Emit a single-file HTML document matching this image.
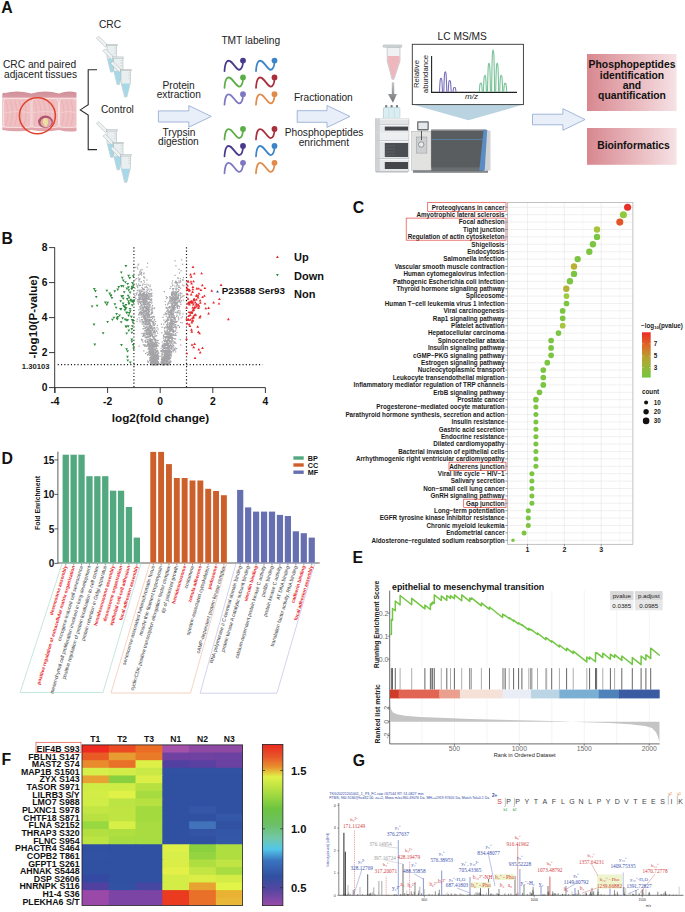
<!DOCTYPE html>
<html><head><meta charset="utf-8"><style>
html,body{margin:0;padding:0;background:#fff;width:685px;height:912px;overflow:hidden}
svg{display:block;font-family:"Liberation Sans",sans-serif}
</style></head><body>
<svg width="685" height="912" viewBox="0 0 685 912">
<rect width="685" height="912" fill="#fff"/>
<text x="1.2" y="12.5" font-size="15.8" font-weight="bold" fill="#111">A</text><text x="3" y="67.8" font-size="10.2" text-anchor="start" font-weight="normal" fill="#222" >CRC and paired</text><text x="4" y="77.7" font-size="10.2" text-anchor="start" font-weight="normal" fill="#222" >adjacent tissues</text><defs><linearGradient id="colg" x1="0" y1="0" x2="0" y2="1"><stop offset="0" stop-color="#cf8f99"/><stop offset="0.14" stop-color="#d99aa3"/><stop offset="0.17" stop-color="#f6dcdc"/><stop offset="0.22" stop-color="#ecb5b9"/><stop offset="0.5" stop-color="#eab1b6"/><stop offset="0.82" stop-color="#ecb6ba"/><stop offset="0.88" stop-color="#f6dcdc"/><stop offset="0.92" stop-color="#e2a6ad"/><stop offset="1" stop-color="#dba0a7"/></linearGradient></defs><path d="M2.3,94 Q3,92 5,93 Q17,89.6 31.5,93.5 Q45,89.6 59,93.5 Q68,90 76.5,92.5 L76.5,131 Q68,132.5 59,130 Q45,132.5 31.5,130 Q17,132.5 2.3,130Z" fill="url(#colg)"/><path d="M6.5,98.6 L28,98.6 Q31,98.6 31,102 L31,124 Q31,127.4 28,127.4 L6.5,127.4 Q3.5,127.4 3.5,124 L3.5,102 Q3.5,98.6 6.5,98.6Z" fill="#efbfc2" stroke="#f8e4e4" stroke-width="0.8"/><path d="M5.5,100 Q10.5,113 5.5,126" fill="none" stroke="#e3a4aa" stroke-width="0.45"/><path d="M10.0,100 Q15.0,113 10.0,126" fill="none" stroke="#e3a4aa" stroke-width="0.45"/><path d="M14.5,100 Q19.5,113 14.5,126" fill="none" stroke="#e3a4aa" stroke-width="0.45"/><path d="M19.0,100 Q24.0,113 19.0,126" fill="none" stroke="#e3a4aa" stroke-width="0.45"/><path d="M23.5,100 Q28.5,113 23.5,126" fill="none" stroke="#e3a4aa" stroke-width="0.45"/><path d="M4.5,112.5 Q17.25,110.5 30,112.5" fill="none" stroke="#f5d6d8" stroke-width="0.7"/><path d="M35,98.6 L55.5,98.6 Q58.5,98.6 58.5,102 L58.5,124 Q58.5,127.4 55.5,127.4 L35,127.4 Q32,127.4 32,124 L32,102 Q32,98.6 35,98.6Z" fill="#efbfc2" stroke="#f8e4e4" stroke-width="0.8"/><path d="M34.0,100 Q39.0,113 34.0,126" fill="none" stroke="#e3a4aa" stroke-width="0.45"/><path d="M38.5,100 Q43.5,113 38.5,126" fill="none" stroke="#e3a4aa" stroke-width="0.45"/><path d="M43.0,100 Q48.0,113 43.0,126" fill="none" stroke="#e3a4aa" stroke-width="0.45"/><path d="M47.5,100 Q52.5,113 47.5,126" fill="none" stroke="#e3a4aa" stroke-width="0.45"/><path d="M52.0,100 Q57.0,113 52.0,126" fill="none" stroke="#e3a4aa" stroke-width="0.45"/><path d="M33,112.5 Q45.25,110.5 57.5,112.5" fill="none" stroke="#f5d6d8" stroke-width="0.7"/><path d="M62.5,98.6 L73.5,98.6 Q76.5,98.6 76.5,102 L76.5,124 Q76.5,127.4 73.5,127.4 L62.5,127.4 Q59.5,127.4 59.5,124 L59.5,102 Q59.5,98.6 62.5,98.6Z" fill="#efbfc2" stroke="#f8e4e4" stroke-width="0.8"/><path d="M61.5,100 Q66.5,113 61.5,126" fill="none" stroke="#e3a4aa" stroke-width="0.45"/><path d="M66.0,100 Q71.0,113 66.0,126" fill="none" stroke="#e3a4aa" stroke-width="0.45"/><path d="M70.5,100 Q75.5,113 70.5,126" fill="none" stroke="#e3a4aa" stroke-width="0.45"/><path d="M60.5,112.5 Q68.0,110.5 75.5,112.5" fill="none" stroke="#f5d6d8" stroke-width="0.7"/><ellipse cx="45.5" cy="121.8" rx="7.4" ry="6.2" fill="#b0526a"/><ellipse cx="46" cy="122.6" rx="5.6" ry="4.8" fill="#e3a5ae"/><path d="M42.8,119.6 Q45,116.8 47.6,119 Q49,122.5 46.8,126.3 Q45.8,127.8 44.9,126.3 Q42,122.8 42.8,119.6Z" fill="#ebdf9d"/><circle cx="37.4" cy="115.8" r="18" fill="none" stroke="#e0422d" stroke-width="1.5"/><path d="M97,69.8 L88.2,69.8 L88.2,104.6 L80.3,109.9 L88.2,115 L88.2,149.6 L97,149.6" fill="none" stroke="#2b2b2b" stroke-width="1.1"/><text x="99" y="27.8" font-size="10.2" text-anchor="start" font-weight="normal" fill="#222" >CRC</text><path d="M107.8,45.2 L99,36.4 L96.4,38.2 L105.4,47.2Z" fill="#eef2f2" stroke="#a9b0b0" stroke-width="0.5"/><path d="M107,45 L116.5,45 L116.5,57.15 L112.89,72 L110.61,72 L107,57.15Z" fill="#e9eff0" stroke="#a9b0b0" stroke-width="0.5"/><path d="M107.3,58.5 L116.2,58.5 L116.2,57.69 L112.7,71.7 L110.8,71.7 L107.3,57.69Z" fill="#a6d8e8"/><rect x="106.2" y="44.4" width="11.1" height="1.4" fill="#dfe5e6" stroke="#a9b0b0" stroke-width="0.4"/><line x1="114.0" y1="48.0" x2="116.0" y2="48.0" stroke="#b9c0c0" stroke-width="0.4"/><line x1="114.0" y1="50.6" x2="116.0" y2="50.6" stroke="#b9c0c0" stroke-width="0.4"/><line x1="114.0" y1="53.2" x2="116.0" y2="53.2" stroke="#b9c0c0" stroke-width="0.4"/><path d="M114.3,57.7 L105.5,48.9 L102.9,50.7 L111.9,59.7Z" fill="#eef2f2" stroke="#a9b0b0" stroke-width="0.5"/><path d="M113.5,57.5 L123.0,57.5 L123.0,69.65 L119.39,84.5 L117.11,84.5 L113.5,69.65Z" fill="#e9eff0" stroke="#a9b0b0" stroke-width="0.5"/><path d="M113.8,71.0 L122.7,71.0 L122.7,70.19 L119.2,84.2 L117.3,84.2 L113.8,70.19Z" fill="#a6d8e8"/><rect x="112.7" y="56.9" width="11.1" height="1.4" fill="#dfe5e6" stroke="#a9b0b0" stroke-width="0.4"/><line x1="120.5" y1="60.5" x2="122.5" y2="60.5" stroke="#b9c0c0" stroke-width="0.4"/><line x1="120.5" y1="63.1" x2="122.5" y2="63.1" stroke="#b9c0c0" stroke-width="0.4"/><line x1="120.5" y1="65.7" x2="122.5" y2="65.7" stroke="#b9c0c0" stroke-width="0.4"/><path d="M121.8,70.2 L113,61.4 L110.4,63.2 L119.4,72.2Z" fill="#eef2f2" stroke="#a9b0b0" stroke-width="0.5"/><path d="M121,70 L130.5,70 L130.5,82.15 L126.89,97 L124.61,97 L121,82.15Z" fill="#e9eff0" stroke="#a9b0b0" stroke-width="0.5"/><path d="M121.3,83.5 L130.2,83.5 L130.2,82.69 L126.7,96.7 L124.8,96.7 L121.3,82.69Z" fill="#a6d8e8"/><rect x="120.2" y="69.4" width="11.1" height="1.4" fill="#dfe5e6" stroke="#a9b0b0" stroke-width="0.4"/><line x1="128.0" y1="73.0" x2="130.0" y2="73.0" stroke="#b9c0c0" stroke-width="0.4"/><line x1="128.0" y1="75.6" x2="130.0" y2="75.6" stroke="#b9c0c0" stroke-width="0.4"/><line x1="128.0" y1="78.2" x2="130.0" y2="78.2" stroke="#b9c0c0" stroke-width="0.4"/><text x="101" y="112.8" font-size="10.2" text-anchor="start" font-weight="normal" fill="#222" >Control</text><path d="M107.8,130.5 L99,121.70000000000002 L96.4,123.50000000000001 L105.4,132.5Z" fill="#eef2f2" stroke="#a9b0b0" stroke-width="0.5"/><path d="M107,130.3 L116.5,130.3 L116.5,142.45000000000002 L112.89,157.3 L110.61,157.3 L107,142.45000000000002Z" fill="#e9eff0" stroke="#a9b0b0" stroke-width="0.5"/><path d="M107.3,143.8 L116.2,143.8 L116.2,142.99 L112.7,157.0 L110.8,157.0 L107.3,142.99Z" fill="#a6d8e8"/><rect x="106.2" y="129.70000000000002" width="11.1" height="1.4" fill="#dfe5e6" stroke="#a9b0b0" stroke-width="0.4"/><line x1="114.0" y1="133.3" x2="116.0" y2="133.3" stroke="#b9c0c0" stroke-width="0.4"/><line x1="114.0" y1="135.9" x2="116.0" y2="135.9" stroke="#b9c0c0" stroke-width="0.4"/><line x1="114.0" y1="138.5" x2="116.0" y2="138.5" stroke="#b9c0c0" stroke-width="0.4"/><path d="M114.3,143.0 L105.5,134.20000000000002 L102.9,136.0 L111.9,145.0Z" fill="#eef2f2" stroke="#a9b0b0" stroke-width="0.5"/><path d="M113.5,142.8 L123.0,142.8 L123.0,154.95000000000002 L119.39,169.8 L117.11,169.8 L113.5,154.95000000000002Z" fill="#e9eff0" stroke="#a9b0b0" stroke-width="0.5"/><path d="M113.8,156.3 L122.7,156.3 L122.7,155.49 L119.2,169.5 L117.3,169.5 L113.8,155.49Z" fill="#a6d8e8"/><rect x="112.7" y="142.20000000000002" width="11.1" height="1.4" fill="#dfe5e6" stroke="#a9b0b0" stroke-width="0.4"/><line x1="120.5" y1="145.8" x2="122.5" y2="145.8" stroke="#b9c0c0" stroke-width="0.4"/><line x1="120.5" y1="148.4" x2="122.5" y2="148.4" stroke="#b9c0c0" stroke-width="0.4"/><line x1="120.5" y1="151.0" x2="122.5" y2="151.0" stroke="#b9c0c0" stroke-width="0.4"/><path d="M121.8,155.5 L113,146.70000000000002 L110.4,148.5 L119.4,157.5Z" fill="#eef2f2" stroke="#a9b0b0" stroke-width="0.5"/><path d="M121,155.3 L130.5,155.3 L130.5,167.45000000000002 L126.89,182.3 L124.61,182.3 L121,167.45000000000002Z" fill="#e9eff0" stroke="#a9b0b0" stroke-width="0.5"/><path d="M121.3,168.8 L130.2,168.8 L130.2,167.99 L126.7,182.0 L124.8,182.0 L121.3,167.99Z" fill="#a6d8e8"/><rect x="120.2" y="154.70000000000002" width="11.1" height="1.4" fill="#dfe5e6" stroke="#a9b0b0" stroke-width="0.4"/><line x1="128.0" y1="158.3" x2="130.0" y2="158.3" stroke="#b9c0c0" stroke-width="0.4"/><line x1="128.0" y1="160.9" x2="130.0" y2="160.9" stroke="#b9c0c0" stroke-width="0.4"/><line x1="128.0" y1="163.5" x2="130.0" y2="163.5" stroke="#b9c0c0" stroke-width="0.4"/><text x="162.5" y="88.5" font-size="10.2" text-anchor="start" font-weight="normal" fill="#222" >Protein</text><text x="156.7" y="98.4" font-size="10.2" text-anchor="start" font-weight="normal" fill="#222" >extraction</text><path d="M158.4,110.9 L188.8,110.9 L188.8,105.6 L211.3,116.4 L188.8,127.2 L188.8,122 L158.4,122Z" fill="#e9eff8" stroke="#8ea6d2" stroke-width="0.8"/><text x="162.5" y="136" font-size="10.2" text-anchor="start" font-weight="normal" fill="#222" >Trypsin</text><text x="158" y="145.3" font-size="10.2" text-anchor="start" font-weight="normal" fill="#222" >digestion</text><text x="221.4" y="43.5" font-size="10.2" text-anchor="start" font-weight="normal" fill="#222" >TMT labeling</text><path d="M224.5,71.1 C225,62.6 227,59.6 230,61.1 C233,62.6 236,68.6 238.5,69.6 C241.5,70.6 243,65.6 243,61.6" fill="none" stroke="#4a3a8c" stroke-width="1.75" stroke-linecap="round"/><circle cx="243" cy="60.6" r="2.9" fill="#4a3a8c"/><path d="M256.0,71.1 C256.5,62.6 258.5,59.6 261.5,61.1 C264.5,62.6 267.5,68.6 270.0,69.6 C273.0,70.6 274.5,65.6 274.5,61.6" fill="none" stroke="#3d85c7" stroke-width="1.75" stroke-linecap="round"/><circle cx="274.5" cy="60.6" r="2.9" fill="#3d85c7"/><path d="M224.5,87.9 C225,79.4 227,76.4 230,77.9 C233,79.4 236,85.4 238.5,86.4 C241.5,87.4 243,82.4 243,78.4" fill="none" stroke="#5bae46" stroke-width="1.75" stroke-linecap="round"/><circle cx="243" cy="77.4" r="2.9" fill="#5bae46"/><path d="M256.0,87.9 C256.5,79.4 258.5,76.4 261.5,77.9 C264.5,79.4 267.5,85.4 270.0,86.4 C273.0,87.4 274.5,82.4 274.5,78.4" fill="none" stroke="#a7303c" stroke-width="1.75" stroke-linecap="round"/><circle cx="274.5" cy="77.4" r="2.9" fill="#a7303c"/><path d="M224.5,104.7 C225,96.2 227,93.2 230,94.7 C233,96.2 236,102.2 238.5,103.2 C241.5,104.2 243,99.2 243,95.2" fill="none" stroke="#7d78c1" stroke-width="1.75" stroke-linecap="round"/><circle cx="243" cy="94.2" r="2.9" fill="#7d78c1"/><path d="M256.0,104.7 C256.5,96.2 258.5,93.2 261.5,94.7 C264.5,96.2 267.5,102.2 270.0,103.2 C273.0,104.2 274.5,99.2 274.5,95.2" fill="none" stroke="#e08b4b" stroke-width="1.75" stroke-linecap="round"/><circle cx="274.5" cy="94.2" r="2.9" fill="#e08b4b"/><path d="M224.5,139.5 C225,131.0 227,128.0 230,129.5 C233,131.0 236,137.0 238.5,138.0 C241.5,139.0 243,134.0 243,130.0" fill="none" stroke="#5bae46" stroke-width="1.75" stroke-linecap="round"/><circle cx="243" cy="129.0" r="2.9" fill="#5bae46"/><path d="M256.0,139.5 C256.5,131.0 258.5,128.0 261.5,129.5 C264.5,131.0 267.5,137.0 270.0,138.0 C273.0,139.0 274.5,134.0 274.5,130.0" fill="none" stroke="#a7303c" stroke-width="1.75" stroke-linecap="round"/><circle cx="274.5" cy="129.0" r="2.9" fill="#a7303c"/><path d="M224.5,156.4 C225,147.9 227,144.9 230,146.4 C233,147.9 236,153.9 238.5,154.9 C241.5,155.9 243,150.9 243,146.9" fill="none" stroke="#4a3a8c" stroke-width="1.75" stroke-linecap="round"/><circle cx="243" cy="145.9" r="2.9" fill="#4a3a8c"/><path d="M256.0,156.4 C256.5,147.9 258.5,144.9 261.5,146.4 C264.5,147.9 267.5,153.9 270.0,154.9 C273.0,155.9 274.5,150.9 274.5,146.9" fill="none" stroke="#3d85c7" stroke-width="1.75" stroke-linecap="round"/><circle cx="274.5" cy="145.9" r="2.9" fill="#3d85c7"/><path d="M224.5,173.3 C225,164.8 227,161.8 230,163.3 C233,164.8 236,170.8 238.5,171.8 C241.5,172.8 243,167.8 243,163.8" fill="none" stroke="#7d78c1" stroke-width="1.75" stroke-linecap="round"/><circle cx="243" cy="162.8" r="2.9" fill="#7d78c1"/><path d="M256.0,173.3 C256.5,164.8 258.5,161.8 261.5,163.3 C264.5,164.8 267.5,170.8 270.0,171.8 C273.0,172.8 274.5,167.8 274.5,163.8" fill="none" stroke="#e08b4b" stroke-width="1.75" stroke-linecap="round"/><circle cx="274.5" cy="162.8" r="2.9" fill="#e08b4b"/><text x="293.9" y="100.7" font-size="10.2" text-anchor="start" font-weight="normal" fill="#222" >Fractionation</text><path d="M297.2,110.7 L327,110.7 L327,105.5 L350,116.45 L327,127.4 L327,122.3 L297.2,122.3Z" fill="#e9eff8" stroke="#8ea6d2" stroke-width="0.8"/><text x="284.7" y="135.9" font-size="10.2" text-anchor="start" font-weight="normal" fill="#222" >Phosphopeptides</text><text x="298.7" y="145.7" font-size="10.2" text-anchor="start" font-weight="normal" fill="#222" >enrichment</text><path d="M387.2,47 L400,47 L400,61 L394,79.3 L392,79.3 L387.2,61Z" fill="#eef2f2" stroke="#9aa3a5" stroke-width="0.5"/><path d="M387.6,56 L399.6,56 L399.6,61 L393.8,78.8 L392.2,78.8 L387.6,61Z" fill="#eeb7bd"/><rect x="383.1" y="44.9" width="18.7" height="2.4" rx="0.6" fill="#cfd6d8" stroke="#9aa3a5" stroke-width="0.4"/><defs><linearGradient id="garr" x1="0" y1="0" x2="0" y2="1"><stop offset="0" stop-color="#c5c7c9"/><stop offset="1" stop-color="#6e7275"/></linearGradient></defs><path d="M391.8,82.2 L394.2,82.2 L394.2,94 L396.9,94 L393,102.7 L387.9,94 L391.8,94Z" fill="url(#garr)"/><path d="M383.3,109 Q383.3,107 385.5,107 L398,107 Q400,107 400,109 L400,118.4 L383.3,118.4Z" fill="#d9eef2" stroke="#a5bcc2" stroke-width="0.4"/><rect x="385.2" y="105" width="2" height="2.5" fill="#7c8286"/><line x1="383.5" y1="108" x2="383.5" y2="118.4" stroke="#b5c8cd" stroke-width="0.4"/><rect x="390.6" y="105" width="2" height="2.5" fill="#7c8286"/><line x1="388.90000000000003" y1="108" x2="388.90000000000003" y2="118.4" stroke="#b5c8cd" stroke-width="0.4"/><rect x="396" y="105" width="2" height="2.5" fill="#7c8286"/><line x1="394.3" y1="108" x2="394.3" y2="118.4" stroke="#b5c8cd" stroke-width="0.4"/><rect x="375.3" y="118.4" width="33.599999999999966" height="6.3" fill="#e2e4e6" stroke="#a2a6aa" stroke-width="0.45"/><rect x="375.3" y="118.4" width="33.599999999999966" height="1.1" fill="#f6f7f8"/><rect x="375.3" y="118.4" width="4.5" height="6.3" fill="#cfd3d6"/><rect x="375.3" y="124.7" width="33.599999999999966" height="7.6" fill="#e6e8ea" stroke="#a2a6aa" stroke-width="0.45"/><rect x="375.3" y="124.7" width="33.599999999999966" height="1.1" fill="#f6f7f8"/><rect x="375.3" y="124.7" width="4.5" height="7.6" fill="#cfd3d6"/><rect x="375.3" y="132.3" width="33.599999999999966" height="8.5" fill="#eceeef" stroke="#a2a6aa" stroke-width="0.45"/><rect x="375.3" y="132.3" width="33.599999999999966" height="1.1" fill="#f6f7f8"/><rect x="375.3" y="132.3" width="4.5" height="8.5" fill="#cfd3d6"/><rect x="375.3" y="140.8" width="33.599999999999966" height="18" fill="#e3e5e7" stroke="#a2a6aa" stroke-width="0.45"/><rect x="375.3" y="140.8" width="33.599999999999966" height="1.1" fill="#f6f7f8"/><rect x="375.3" y="140.8" width="4.5" height="18" fill="#cfd3d6"/><rect x="375.3" y="158.8" width="33.599999999999966" height="12.4" fill="#e6e8ea" stroke="#a2a6aa" stroke-width="0.45"/><rect x="375.3" y="158.8" width="33.599999999999966" height="1.1" fill="#f6f7f8"/><rect x="375.3" y="158.8" width="4.5" height="12.4" fill="#cfd3d6"/><rect x="384.8" y="126.6" width="23.2" height="3.9" fill="#43474b"/><rect x="384.8" y="143" width="23.2" height="14" fill="#4b4f53"/><line x1="385.5" y1="146" x2="395" y2="146" stroke="#6d7175" stroke-width="0.5"/><line x1="385.5" y1="149" x2="395" y2="149" stroke="#6d7175" stroke-width="0.5"/><line x1="385.5" y1="152" x2="395" y2="152" stroke="#6d7175" stroke-width="0.5"/><line x1="385.5" y1="155" x2="395" y2="155" stroke="#6d7175" stroke-width="0.5"/><rect x="384.8" y="162" width="23.2" height="7" fill="#43474b"/><rect x="376" y="171.2" width="32" height="1.3" fill="#b8bbbe"/><rect x="413" y="167" width="75" height="6" fill="#6b6e71"/><rect x="413" y="171.5" width="75" height="1.5" fill="#9a9da0"/><rect x="411.7" y="131.3" width="19.4" height="38.9" fill="#e2e2e0" stroke="#a6a8aa" stroke-width="0.45"/><rect x="431.1" y="129.4" width="53.5" height="38" fill="#5a5d5f"/><rect x="431.1" y="129.4" width="53.5" height="1" fill="#c9cbcc"/><path d="M484.6,129.4 L490.5,131 L490.5,170.5 L483.5,171Z" fill="#d0d2d4"/><path d="M483.6,129.4 L487.2,129.8 L484.7,170.5 L479.3,170.5Z" fill="#5b8cc4"/><line x1="431.1" y1="139.5" x2="483" y2="139.5" stroke="#5a88b8" stroke-width="0.7"/><rect x="417.1" y="121.3" width="11.7" height="9.1" rx="0.8" fill="#6c7074"/><rect x="418.4" y="122.6" width="9.1" height="6.4" fill="#e6e9ec"/><rect x="416.5" y="137" width="10.4" height="16.1" fill="#cdcfd0" stroke="#8d9194" stroke-width="0.45"/><circle cx="421.2" cy="144.5" r="2.7" fill="#e9eaea" stroke="#62676b" stroke-width="0.6"/><path d="M421.5,131 L421.5,140" stroke="#333" stroke-width="0.8"/><path d="M412.5,104.6 L523.4,104.6 L468.4,120.3Z" fill="#b9d3e0"/><rect x="412.3" y="44.3" width="111.1" height="60.3" fill="#fff" stroke="#333" stroke-width="0.9"/><line x1="431.6" y1="56" x2="431.6" y2="92.6" stroke="#222" stroke-width="1.1"/><line x1="431" y1="92.4" x2="517" y2="92.4" stroke="#222" stroke-width="1.1"/><path d="M439.5,92 C440.1,77.3 440.4,78.3 441,78.3 C441.6,78.3 441.9,77.3 442.5,92" fill="none" stroke="#776fbb" stroke-width="1.1"/><path d="M443.8,92 C444.40000000000003,70.7 444.7,71.7 445.3,71.7 C445.90000000000003,71.7 446.2,70.7 446.8,92" fill="none" stroke="#776fbb" stroke-width="1.1"/><path d="M448.2,92 C448.8,79.5 449.09999999999997,80.5 449.7,80.5 C450.3,80.5 450.59999999999997,79.5 451.2,92" fill="none" stroke="#776fbb" stroke-width="1.1"/><path d="M453.0,92 C453.6,86.5 453.9,87.5 454.5,87.5 C455.1,87.5 455.4,86.5 456.0,92" fill="none" stroke="#776fbb" stroke-width="1.1"/><path d="M479.3,92 C479.90000000000003,82.4 480.2,83.4 480.8,83.4 C481.40000000000003,83.4 481.7,82.4 482.3,92" fill="none" stroke="#78c197" stroke-width="1.1"/><path d="M483.4,92 C484.0,74.4 484.29999999999995,75.4 484.9,75.4 C485.5,75.4 485.79999999999995,74.4 486.4,92" fill="none" stroke="#78c197" stroke-width="1.1"/><path d="M487.5,92 C488.1,62.2 488.4,63.2 489,63.2 C489.6,63.2 489.9,62.2 490.5,92" fill="none" stroke="#78c197" stroke-width="1.1"/><path d="M491.6,92 C492.20000000000005,49.1 492.5,50.1 493.1,50.1 C493.70000000000005,50.1 494.0,49.1 494.6,92" fill="none" stroke="#78c197" stroke-width="1.1"/><path d="M495.7,92 C496.3,62.2 496.59999999999997,63.2 497.2,63.2 C497.8,63.2 498.09999999999997,62.2 498.7,92" fill="none" stroke="#78c197" stroke-width="1.1"/><path d="M499.7,92 C500.3,74.4 500.59999999999997,75.4 501.2,75.4 C501.8,75.4 502.09999999999997,74.4 502.7,92" fill="none" stroke="#78c197" stroke-width="1.1"/><path d="M503.7,92 C504.3,82.4 504.59999999999997,83.4 505.2,83.4 C505.8,83.4 506.09999999999997,82.4 506.7,92" fill="none" stroke="#78c197" stroke-width="1.1"/><text x="471.5" y="99.3" font-size="8" font-style="italic" text-anchor="middle" fill="#222">m/z</text><text transform="translate(418.9,74) rotate(-90)" font-size="7.75" text-anchor="middle" fill="#222">Relative</text><text transform="translate(427.6,74) rotate(-90)" font-size="7.75" text-anchor="middle" fill="#222">abundance</text><text x="437.6" y="39.6" font-size="10.2" text-anchor="start" font-weight="normal" fill="#222" >LC MS/MS</text><path d="M532.5,114.2 L562.9,114.2 L562.9,108.7 L585,119.5 L562.9,130.3 L562.9,124.8 L532.5,124.8Z" fill="#e9eff8" stroke="#8ea6d2" stroke-width="0.8"/><defs><linearGradient id="pinkg" x1="0" y1="0" x2="1" y2="0"><stop offset="0" stop-color="#d8878f"/><stop offset="1" stop-color="#f6e2e5"/></linearGradient></defs><rect x="587" y="54" width="89.6" height="57" fill="url(#pinkg)"/><rect x="587" y="128" width="89.6" height="36.8" fill="url(#pinkg)"/><text x="632" y="68.2" font-size="10.35" text-anchor="middle" font-weight="bold" fill="#111" >Phosphopeptides</text><text x="632" y="78.5" font-size="10.35" text-anchor="middle" font-weight="bold" fill="#111" >identification</text><text x="632" y="88.5" font-size="10.35" text-anchor="middle" font-weight="bold" fill="#111" >and</text><text x="632" y="98.5" font-size="10.35" text-anchor="middle" font-weight="bold" fill="#111" >quantification</text><text x="633.5" y="148.9" font-size="10.4" text-anchor="middle" font-weight="bold" fill="#111" >Bioinformatics</text><text x="1.5" y="243.6" font-size="15.8" font-weight="bold" fill="#111">B</text><line x1="54.7" y1="247.3" x2="54.7" y2="393" stroke="#222" stroke-width="0.9"/><line x1="54.7" y1="387.6" x2="265.5" y2="387.6" stroke="#222" stroke-width="0.9"/><line x1="49" y1="387.6" x2="54.7" y2="387.6" stroke="#222" stroke-width="0.9"/><text x="47.5" y="391.20000000000005" font-size="10.3" font-weight="bold" text-anchor="end" fill="#111">0</text><line x1="49" y1="352.6" x2="54.7" y2="352.6" stroke="#222" stroke-width="0.9"/><text x="47.5" y="356.20000000000005" font-size="10.3" font-weight="bold" text-anchor="end" fill="#111">2</text><line x1="49" y1="317.6" x2="54.7" y2="317.6" stroke="#222" stroke-width="0.9"/><text x="47.5" y="321.20000000000005" font-size="10.3" font-weight="bold" text-anchor="end" fill="#111">4</text><line x1="49" y1="282.6" x2="54.7" y2="282.6" stroke="#222" stroke-width="0.9"/><text x="47.5" y="286.20000000000005" font-size="10.3" font-weight="bold" text-anchor="end" fill="#111">6</text><line x1="49" y1="247.60000000000002" x2="54.7" y2="247.60000000000002" stroke="#222" stroke-width="0.9"/><text x="47.5" y="251.20000000000002" font-size="10.3" font-weight="bold" text-anchor="end" fill="#111">8</text><line x1="54.999999999999986" y1="387.6" x2="54.999999999999986" y2="393" stroke="#222" stroke-width="0.9"/><text x="54.999999999999986" y="405.3" font-size="10.3" font-weight="bold" text-anchor="middle" fill="#111">-4</text><line x1="107.6" y1="387.6" x2="107.6" y2="393" stroke="#222" stroke-width="0.9"/><text x="107.6" y="405.3" font-size="10.3" font-weight="bold" text-anchor="middle" fill="#111">-2</text><line x1="160.2" y1="387.6" x2="160.2" y2="393" stroke="#222" stroke-width="0.9"/><text x="160.2" y="405.3" font-size="10.3" font-weight="bold" text-anchor="middle" fill="#111">0</text><line x1="212.79999999999998" y1="387.6" x2="212.79999999999998" y2="393" stroke="#222" stroke-width="0.9"/><text x="212.79999999999998" y="405.3" font-size="10.3" font-weight="bold" text-anchor="middle" fill="#111">2</text><line x1="265.4" y1="387.6" x2="265.4" y2="393" stroke="#222" stroke-width="0.9"/><text x="265.4" y="405.3" font-size="10.3" font-weight="bold" text-anchor="middle" fill="#111">4</text><text x="160.5" y="422.4" font-size="11.7" font-weight="bold" text-anchor="middle" fill="#111">log2(fold change)</text><text transform="translate(36.6,317) rotate(-90)" font-size="11.6" font-weight="bold" text-anchor="middle" fill="#111">-log10(P-value)</text><text x="49.6" y="369.4" font-size="7.7" font-weight="bold" text-anchor="end" fill="#222">1.30103</text><g fill="#a3a3a7"><rect x="151.8" y="322.3" width="1.2" height="1.2"/><rect x="151.5" y="333.5" width="1.2" height="1.2"/><rect x="156.4" y="361.7" width="1.2" height="1.2"/><rect x="167.5" y="353.2" width="1.2" height="1.2"/><rect x="174.2" y="285.5" width="1.2" height="1.2"/><rect x="172.6" y="305.0" width="1.2" height="1.2"/><rect x="147.4" y="308.6" width="1.2" height="1.2"/><rect x="144.6" y="323.3" width="1.2" height="1.2"/><rect x="155.3" y="354.3" width="1.2" height="1.2"/><rect x="163.4" y="347.4" width="1.2" height="1.2"/><rect x="145.0" y="318.4" width="1.2" height="1.2"/><rect x="153.5" y="332.2" width="1.2" height="1.2"/><rect x="143.8" y="281.5" width="1.2" height="1.2"/><rect x="171.3" y="334.9" width="1.2" height="1.2"/><rect x="139.4" y="313.0" width="1.2" height="1.2"/><rect x="145.1" y="326.8" width="1.2" height="1.2"/><rect x="176.8" y="306.6" width="1.2" height="1.2"/><rect x="169.7" y="318.2" width="1.2" height="1.2"/><rect x="172.0" y="293.9" width="1.2" height="1.2"/><rect x="152.9" y="363.6" width="1.2" height="1.2"/><rect x="146.6" y="312.6" width="1.2" height="1.2"/><rect x="151.9" y="342.1" width="1.2" height="1.2"/><rect x="143.4" y="302.8" width="1.2" height="1.2"/><rect x="163.6" y="349.7" width="1.2" height="1.2"/><rect x="176.3" y="292.0" width="1.2" height="1.2"/><rect x="151.6" y="335.2" width="1.2" height="1.2"/><rect x="162.3" y="364.2" width="1.2" height="1.2"/><rect x="173.3" y="292.1" width="1.2" height="1.2"/><rect x="161.8" y="362.4" width="1.2" height="1.2"/><rect x="174.4" y="303.6" width="1.2" height="1.2"/><rect x="144.4" y="323.6" width="1.2" height="1.2"/><rect x="154.1" y="354.1" width="1.2" height="1.2"/><rect x="155.5" y="357.5" width="1.2" height="1.2"/><rect x="157.0" y="363.5" width="1.2" height="1.2"/><rect x="147.8" y="345.1" width="1.2" height="1.2"/><rect x="149.1" y="305.8" width="1.2" height="1.2"/><rect x="153.7" y="360.1" width="1.2" height="1.2"/><rect x="145.7" y="307.5" width="1.2" height="1.2"/><rect x="165.9" y="357.7" width="1.2" height="1.2"/><rect x="176.4" y="331.9" width="1.2" height="1.2"/><rect x="166.4" y="343.8" width="1.2" height="1.2"/><rect x="149.8" y="331.6" width="1.2" height="1.2"/><rect x="139.8" y="293.8" width="1.2" height="1.2"/><rect x="172.4" y="308.4" width="1.2" height="1.2"/><rect x="152.5" y="363.4" width="1.2" height="1.2"/><rect x="149.1" y="351.0" width="1.2" height="1.2"/><rect x="147.0" y="262.6" width="1.2" height="1.2"/><rect x="152.2" y="353.0" width="1.2" height="1.2"/><rect x="153.7" y="324.5" width="1.2" height="1.2"/><rect x="141.5" y="310.0" width="1.2" height="1.2"/><rect x="145.3" y="300.5" width="1.2" height="1.2"/><rect x="139.8" y="310.9" width="1.2" height="1.2"/><rect x="140.2" y="295.0" width="1.2" height="1.2"/><rect x="167.2" y="356.4" width="1.2" height="1.2"/><rect x="144.9" y="300.9" width="1.2" height="1.2"/><rect x="173.2" y="291.2" width="1.2" height="1.2"/><rect x="162.5" y="363.9" width="1.2" height="1.2"/><rect x="172.7" y="332.1" width="1.2" height="1.2"/><rect x="164.8" y="354.0" width="1.2" height="1.2"/><rect x="150.8" y="352.2" width="1.2" height="1.2"/><rect x="142.6" y="300.5" width="1.2" height="1.2"/><rect x="151.7" y="327.7" width="1.2" height="1.2"/><rect x="167.0" y="331.7" width="1.2" height="1.2"/><rect x="168.3" y="338.5" width="1.2" height="1.2"/><rect x="168.9" y="336.1" width="1.2" height="1.2"/><rect x="162.4" y="346.6" width="1.2" height="1.2"/><rect x="169.0" y="329.5" width="1.2" height="1.2"/><rect x="141.3" y="312.3" width="1.2" height="1.2"/><rect x="169.3" y="298.5" width="1.2" height="1.2"/><rect x="148.9" y="318.9" width="1.2" height="1.2"/><rect x="155.2" y="335.7" width="1.2" height="1.2"/><rect x="174.9" y="290.7" width="1.2" height="1.2"/><rect x="168.7" y="358.3" width="1.2" height="1.2"/><rect x="154.2" y="361.5" width="1.2" height="1.2"/><rect x="175.0" y="301.6" width="1.2" height="1.2"/><rect x="152.3" y="321.5" width="1.2" height="1.2"/><rect x="180.3" y="296.7" width="1.2" height="1.2"/><rect x="144.0" y="293.4" width="1.2" height="1.2"/><rect x="149.6" y="345.7" width="1.2" height="1.2"/><rect x="151.4" y="316.5" width="1.2" height="1.2"/><rect x="152.2" y="346.2" width="1.2" height="1.2"/><rect x="169.4" y="361.9" width="1.2" height="1.2"/><rect x="165.8" y="350.6" width="1.2" height="1.2"/><rect x="154.9" y="350.3" width="1.2" height="1.2"/><rect x="169.2" y="351.0" width="1.2" height="1.2"/><rect x="137.9" y="277.4" width="1.2" height="1.2"/><rect x="145.9" y="319.3" width="1.2" height="1.2"/><rect x="173.0" y="309.8" width="1.2" height="1.2"/><rect x="156.0" y="361.8" width="1.2" height="1.2"/><rect x="140.8" y="299.0" width="1.2" height="1.2"/><rect x="149.4" y="332.0" width="1.2" height="1.2"/><rect x="154.2" y="354.5" width="1.2" height="1.2"/><rect x="145.1" y="313.4" width="1.2" height="1.2"/><rect x="157.5" y="363.8" width="1.2" height="1.2"/><rect x="144.3" y="315.6" width="1.2" height="1.2"/><rect x="148.7" y="296.3" width="1.2" height="1.2"/><rect x="149.4" y="307.0" width="1.2" height="1.2"/><rect x="150.5" y="319.3" width="1.2" height="1.2"/><rect x="170.0" y="323.5" width="1.2" height="1.2"/><rect x="154.9" y="362.4" width="1.2" height="1.2"/><rect x="166.3" y="356.8" width="1.2" height="1.2"/><rect x="143.2" y="303.9" width="1.2" height="1.2"/><rect x="147.5" y="337.1" width="1.2" height="1.2"/><rect x="172.1" y="295.6" width="1.2" height="1.2"/><rect x="152.3" y="364.2" width="1.2" height="1.2"/><rect x="152.4" y="333.7" width="1.2" height="1.2"/><rect x="153.3" y="360.7" width="1.2" height="1.2"/><rect x="153.1" y="352.6" width="1.2" height="1.2"/><rect x="168.6" y="314.1" width="1.2" height="1.2"/><rect x="162.1" y="346.6" width="1.2" height="1.2"/><rect x="170.8" y="316.3" width="1.2" height="1.2"/><rect x="169.4" y="324.2" width="1.2" height="1.2"/><rect x="162.3" y="358.1" width="1.2" height="1.2"/><rect x="172.0" y="307.7" width="1.2" height="1.2"/><rect x="170.0" y="319.7" width="1.2" height="1.2"/><rect x="148.8" y="344.2" width="1.2" height="1.2"/><rect x="145.3" y="329.6" width="1.2" height="1.2"/><rect x="161.8" y="364.2" width="1.2" height="1.2"/><rect x="163.6" y="333.9" width="1.2" height="1.2"/><rect x="151.2" y="351.4" width="1.2" height="1.2"/><rect x="148.3" y="315.9" width="1.2" height="1.2"/><rect x="173.4" y="342.7" width="1.2" height="1.2"/><rect x="142.2" y="312.8" width="1.2" height="1.2"/><rect x="148.9" y="351.3" width="1.2" height="1.2"/><rect x="170.9" y="328.9" width="1.2" height="1.2"/><rect x="147.2" y="318.9" width="1.2" height="1.2"/><rect x="165.0" y="332.8" width="1.2" height="1.2"/><rect x="153.6" y="354.7" width="1.2" height="1.2"/><rect x="176.9" y="282.1" width="1.2" height="1.2"/><rect x="176.5" y="287.7" width="1.2" height="1.2"/><rect x="147.8" y="294.4" width="1.2" height="1.2"/><rect x="148.1" y="296.7" width="1.2" height="1.2"/><rect x="152.0" y="318.0" width="1.2" height="1.2"/><rect x="150.1" y="335.1" width="1.2" height="1.2"/><rect x="152.0" y="348.2" width="1.2" height="1.2"/><rect x="151.9" y="347.2" width="1.2" height="1.2"/><rect x="165.1" y="359.2" width="1.2" height="1.2"/><rect x="172.8" y="301.2" width="1.2" height="1.2"/><rect x="138.6" y="284.8" width="1.2" height="1.2"/><rect x="152.9" y="362.6" width="1.2" height="1.2"/><rect x="154.6" y="349.3" width="1.2" height="1.2"/><rect x="152.3" y="355.3" width="1.2" height="1.2"/><rect x="135.9" y="278.0" width="1.2" height="1.2"/><rect x="174.9" y="281.0" width="1.2" height="1.2"/><rect x="165.7" y="315.6" width="1.2" height="1.2"/><rect x="166.0" y="362.6" width="1.2" height="1.2"/><rect x="166.8" y="336.2" width="1.2" height="1.2"/><rect x="175.2" y="288.5" width="1.2" height="1.2"/><rect x="156.2" y="341.8" width="1.2" height="1.2"/><rect x="155.4" y="354.2" width="1.2" height="1.2"/><rect x="146.3" y="289.2" width="1.2" height="1.2"/><rect x="153.9" y="360.7" width="1.2" height="1.2"/><rect x="152.4" y="352.3" width="1.2" height="1.2"/><rect x="172.7" y="340.5" width="1.2" height="1.2"/><rect x="150.4" y="343.1" width="1.2" height="1.2"/><rect x="146.2" y="294.7" width="1.2" height="1.2"/><rect x="168.2" y="353.7" width="1.2" height="1.2"/><rect x="142.2" y="341.4" width="1.2" height="1.2"/><rect x="166.7" y="363.6" width="1.2" height="1.2"/><rect x="139.5" y="301.7" width="1.2" height="1.2"/><rect x="144.7" y="299.0" width="1.2" height="1.2"/><rect x="174.6" y="295.0" width="1.2" height="1.2"/><rect x="149.0" y="319.8" width="1.2" height="1.2"/><rect x="170.9" y="322.6" width="1.2" height="1.2"/><rect x="168.1" y="311.5" width="1.2" height="1.2"/><rect x="140.1" y="291.3" width="1.2" height="1.2"/><rect x="147.3" y="323.5" width="1.2" height="1.2"/><rect x="146.8" y="327.7" width="1.2" height="1.2"/><rect x="151.4" y="326.3" width="1.2" height="1.2"/><rect x="139.1" y="298.6" width="1.2" height="1.2"/><rect x="146.5" y="351.8" width="1.2" height="1.2"/><rect x="171.1" y="347.8" width="1.2" height="1.2"/><rect x="167.0" y="351.1" width="1.2" height="1.2"/><rect x="174.9" y="298.9" width="1.2" height="1.2"/><rect x="149.4" y="319.7" width="1.2" height="1.2"/><rect x="170.3" y="354.3" width="1.2" height="1.2"/><rect x="172.9" y="308.3" width="1.2" height="1.2"/><rect x="176.9" y="296.8" width="1.2" height="1.2"/><rect x="149.4" y="353.2" width="1.2" height="1.2"/><rect x="170.4" y="341.9" width="1.2" height="1.2"/><rect x="144.3" y="296.3" width="1.2" height="1.2"/><rect x="148.7" y="301.5" width="1.2" height="1.2"/><rect x="175.3" y="282.4" width="1.2" height="1.2"/><rect x="166.1" y="363.3" width="1.2" height="1.2"/><rect x="166.4" y="343.3" width="1.2" height="1.2"/><rect x="153.3" y="344.8" width="1.2" height="1.2"/><rect x="175.4" y="295.7" width="1.2" height="1.2"/><rect x="171.5" y="339.1" width="1.2" height="1.2"/><rect x="153.2" y="343.4" width="1.2" height="1.2"/><rect x="153.6" y="363.3" width="1.2" height="1.2"/><rect x="147.1" y="312.8" width="1.2" height="1.2"/><rect x="143.5" y="298.4" width="1.2" height="1.2"/><rect x="172.6" y="350.1" width="1.2" height="1.2"/><rect x="165.7" y="350.8" width="1.2" height="1.2"/><rect x="143.1" y="313.7" width="1.2" height="1.2"/><rect x="176.8" y="297.6" width="1.2" height="1.2"/><rect x="147.1" y="297.8" width="1.2" height="1.2"/><rect x="148.6" y="334.6" width="1.2" height="1.2"/><rect x="171.9" y="309.7" width="1.2" height="1.2"/><rect x="148.0" y="311.5" width="1.2" height="1.2"/><rect x="165.6" y="361.9" width="1.2" height="1.2"/><rect x="164.3" y="361.0" width="1.2" height="1.2"/><rect x="144.3" y="317.5" width="1.2" height="1.2"/><rect x="148.2" y="320.4" width="1.2" height="1.2"/><rect x="175.8" y="321.2" width="1.2" height="1.2"/><rect x="156.0" y="343.3" width="1.2" height="1.2"/><rect x="166.3" y="351.7" width="1.2" height="1.2"/><rect x="169.2" y="346.6" width="1.2" height="1.2"/><rect x="141.9" y="288.1" width="1.2" height="1.2"/><rect x="178.1" y="293.3" width="1.2" height="1.2"/><rect x="176.3" y="300.1" width="1.2" height="1.2"/><rect x="156.3" y="359.2" width="1.2" height="1.2"/><rect x="174.5" y="260.2" width="1.2" height="1.2"/><rect x="151.3" y="311.8" width="1.2" height="1.2"/><rect x="168.0" y="326.7" width="1.2" height="1.2"/><rect x="151.7" y="354.4" width="1.2" height="1.2"/><rect x="147.8" y="322.2" width="1.2" height="1.2"/><rect x="153.5" y="355.5" width="1.2" height="1.2"/><rect x="144.4" y="310.4" width="1.2" height="1.2"/><rect x="148.6" y="330.3" width="1.2" height="1.2"/><rect x="164.6" y="356.8" width="1.2" height="1.2"/><rect x="139.9" y="296.7" width="1.2" height="1.2"/><rect x="144.9" y="344.4" width="1.2" height="1.2"/><rect x="168.5" y="354.8" width="1.2" height="1.2"/><rect x="166.7" y="364.1" width="1.2" height="1.2"/><rect x="171.2" y="302.8" width="1.2" height="1.2"/><rect x="150.9" y="363.9" width="1.2" height="1.2"/><rect x="168.6" y="324.6" width="1.2" height="1.2"/><rect x="152.8" y="357.8" width="1.2" height="1.2"/><rect x="173.1" y="334.8" width="1.2" height="1.2"/><rect x="176.1" y="296.8" width="1.2" height="1.2"/><rect x="174.8" y="294.3" width="1.2" height="1.2"/><rect x="168.7" y="301.0" width="1.2" height="1.2"/><rect x="149.4" y="353.3" width="1.2" height="1.2"/><rect x="146.3" y="307.5" width="1.2" height="1.2"/><rect x="153.3" y="342.6" width="1.2" height="1.2"/><rect x="147.5" y="316.3" width="1.2" height="1.2"/><rect x="164.2" y="363.0" width="1.2" height="1.2"/><rect x="165.1" y="326.4" width="1.2" height="1.2"/><rect x="147.0" y="327.7" width="1.2" height="1.2"/><rect x="149.5" y="338.0" width="1.2" height="1.2"/><rect x="166.4" y="352.5" width="1.2" height="1.2"/><rect x="170.2" y="337.2" width="1.2" height="1.2"/><rect x="154.2" y="339.2" width="1.2" height="1.2"/><rect x="154.5" y="333.3" width="1.2" height="1.2"/><rect x="147.3" y="311.9" width="1.2" height="1.2"/><rect x="143.0" y="333.8" width="1.2" height="1.2"/><rect x="149.1" y="292.8" width="1.2" height="1.2"/><rect x="168.8" y="355.0" width="1.2" height="1.2"/><rect x="177.5" y="297.4" width="1.2" height="1.2"/><rect x="172.9" y="344.9" width="1.2" height="1.2"/><rect x="172.5" y="301.7" width="1.2" height="1.2"/><rect x="150.6" y="299.6" width="1.2" height="1.2"/><rect x="149.1" y="333.6" width="1.2" height="1.2"/><rect x="144.6" y="298.2" width="1.2" height="1.2"/><rect x="165.9" y="356.5" width="1.2" height="1.2"/><rect x="165.6" y="344.3" width="1.2" height="1.2"/><rect x="171.0" y="327.9" width="1.2" height="1.2"/><rect x="166.6" y="341.8" width="1.2" height="1.2"/><rect x="171.7" y="293.4" width="1.2" height="1.2"/><rect x="164.5" y="356.0" width="1.2" height="1.2"/><rect x="172.5" y="308.3" width="1.2" height="1.2"/><rect x="176.0" y="321.3" width="1.2" height="1.2"/><rect x="156.5" y="363.2" width="1.2" height="1.2"/><rect x="148.4" y="301.7" width="1.2" height="1.2"/><rect x="147.9" y="322.1" width="1.2" height="1.2"/><rect x="151.3" y="344.4" width="1.2" height="1.2"/><rect x="149.9" y="327.2" width="1.2" height="1.2"/><rect x="148.6" y="298.1" width="1.2" height="1.2"/><rect x="150.5" y="360.4" width="1.2" height="1.2"/><rect x="160.7" y="350.7" width="1.2" height="1.2"/><rect x="145.7" y="329.3" width="1.2" height="1.2"/><rect x="140.6" y="281.2" width="1.2" height="1.2"/><rect x="166.4" y="331.7" width="1.2" height="1.2"/><rect x="154.3" y="362.2" width="1.2" height="1.2"/><rect x="175.8" y="297.1" width="1.2" height="1.2"/><rect x="172.4" y="323.1" width="1.2" height="1.2"/><rect x="166.5" y="347.7" width="1.2" height="1.2"/><rect x="172.4" y="317.0" width="1.2" height="1.2"/><rect x="140.5" y="314.6" width="1.2" height="1.2"/><rect x="154.8" y="359.9" width="1.2" height="1.2"/><rect x="151.5" y="345.9" width="1.2" height="1.2"/><rect x="160.8" y="350.5" width="1.2" height="1.2"/><rect x="169.4" y="310.9" width="1.2" height="1.2"/><rect x="175.7" y="297.7" width="1.2" height="1.2"/><rect x="157.9" y="352.4" width="1.2" height="1.2"/><rect x="170.7" y="299.2" width="1.2" height="1.2"/><rect x="169.3" y="352.2" width="1.2" height="1.2"/><rect x="171.8" y="294.4" width="1.2" height="1.2"/><rect x="149.5" y="318.5" width="1.2" height="1.2"/><rect x="163.8" y="347.8" width="1.2" height="1.2"/><rect x="155.3" y="361.3" width="1.2" height="1.2"/><rect x="142.7" y="298.8" width="1.2" height="1.2"/><rect x="158.3" y="363.4" width="1.2" height="1.2"/><rect x="173.1" y="315.3" width="1.2" height="1.2"/><rect x="154.0" y="344.0" width="1.2" height="1.2"/><rect x="167.0" y="304.2" width="1.2" height="1.2"/><rect x="176.7" y="291.1" width="1.2" height="1.2"/><rect x="147.0" y="305.9" width="1.2" height="1.2"/><rect x="161.8" y="349.2" width="1.2" height="1.2"/><rect x="147.1" y="313.6" width="1.2" height="1.2"/><rect x="155.5" y="351.1" width="1.2" height="1.2"/><rect x="147.1" y="343.7" width="1.2" height="1.2"/><rect x="156.7" y="324.9" width="1.2" height="1.2"/><rect x="150.9" y="338.8" width="1.2" height="1.2"/><rect x="163.6" y="353.6" width="1.2" height="1.2"/><rect x="172.7" y="308.3" width="1.2" height="1.2"/><rect x="143.3" y="294.5" width="1.2" height="1.2"/><rect x="150.4" y="334.7" width="1.2" height="1.2"/><rect x="142.9" y="307.3" width="1.2" height="1.2"/><rect x="146.1" y="297.2" width="1.2" height="1.2"/><rect x="164.4" y="359.7" width="1.2" height="1.2"/><rect x="171.1" y="311.1" width="1.2" height="1.2"/><rect x="161.7" y="341.3" width="1.2" height="1.2"/><rect x="157.8" y="363.5" width="1.2" height="1.2"/><rect x="140.6" y="301.2" width="1.2" height="1.2"/><rect x="168.4" y="337.0" width="1.2" height="1.2"/><rect x="169.7" y="313.9" width="1.2" height="1.2"/><rect x="142.3" y="306.3" width="1.2" height="1.2"/><rect x="161.4" y="356.4" width="1.2" height="1.2"/><rect x="170.8" y="336.9" width="1.2" height="1.2"/><rect x="164.5" y="355.2" width="1.2" height="1.2"/><rect x="169.4" y="357.2" width="1.2" height="1.2"/><rect x="151.1" y="332.4" width="1.2" height="1.2"/><rect x="141.8" y="287.6" width="1.2" height="1.2"/><rect x="165.9" y="342.5" width="1.2" height="1.2"/><rect x="169.3" y="315.6" width="1.2" height="1.2"/><rect x="166.6" y="354.3" width="1.2" height="1.2"/><rect x="152.3" y="341.5" width="1.2" height="1.2"/><rect x="144.6" y="336.8" width="1.2" height="1.2"/><rect x="150.3" y="341.1" width="1.2" height="1.2"/><rect x="138.3" y="314.2" width="1.2" height="1.2"/><rect x="151.3" y="316.5" width="1.2" height="1.2"/><rect x="166.6" y="320.0" width="1.2" height="1.2"/><rect x="165.7" y="347.5" width="1.2" height="1.2"/><rect x="145.6" y="317.2" width="1.2" height="1.2"/><rect x="163.1" y="339.7" width="1.2" height="1.2"/><rect x="145.2" y="298.7" width="1.2" height="1.2"/><rect x="142.7" y="311.8" width="1.2" height="1.2"/><rect x="172.1" y="330.8" width="1.2" height="1.2"/><rect x="142.0" y="297.8" width="1.2" height="1.2"/><rect x="171.2" y="316.9" width="1.2" height="1.2"/><rect x="141.5" y="307.5" width="1.2" height="1.2"/><rect x="170.4" y="319.6" width="1.2" height="1.2"/><rect x="156.1" y="359.1" width="1.2" height="1.2"/><rect x="150.5" y="341.4" width="1.2" height="1.2"/><rect x="149.5" y="340.0" width="1.2" height="1.2"/><rect x="143.2" y="314.9" width="1.2" height="1.2"/><rect x="166.9" y="353.5" width="1.2" height="1.2"/><rect x="142.5" y="311.9" width="1.2" height="1.2"/><rect x="166.1" y="336.4" width="1.2" height="1.2"/><rect x="169.4" y="323.3" width="1.2" height="1.2"/><rect x="167.2" y="336.5" width="1.2" height="1.2"/><rect x="155.8" y="344.6" width="1.2" height="1.2"/><rect x="167.4" y="343.1" width="1.2" height="1.2"/><rect x="150.6" y="316.5" width="1.2" height="1.2"/><rect x="148.0" y="348.2" width="1.2" height="1.2"/><rect x="167.9" y="344.1" width="1.2" height="1.2"/><rect x="167.4" y="362.2" width="1.2" height="1.2"/><rect x="165.7" y="307.3" width="1.2" height="1.2"/><rect x="168.2" y="364.0" width="1.2" height="1.2"/><rect x="152.4" y="358.0" width="1.2" height="1.2"/><rect x="156.0" y="345.2" width="1.2" height="1.2"/><rect x="180.0" y="302.1" width="1.2" height="1.2"/><rect x="175.9" y="320.9" width="1.2" height="1.2"/><rect x="167.1" y="318.9" width="1.2" height="1.2"/><rect x="171.7" y="338.6" width="1.2" height="1.2"/><rect x="151.3" y="358.1" width="1.2" height="1.2"/><rect x="152.6" y="336.5" width="1.2" height="1.2"/><rect x="148.1" y="304.6" width="1.2" height="1.2"/><rect x="145.0" y="336.5" width="1.2" height="1.2"/><rect x="165.9" y="340.1" width="1.2" height="1.2"/><rect x="169.8" y="323.4" width="1.2" height="1.2"/><rect x="173.4" y="298.6" width="1.2" height="1.2"/><rect x="140.7" y="281.4" width="1.2" height="1.2"/><rect x="169.0" y="316.8" width="1.2" height="1.2"/><rect x="166.2" y="336.0" width="1.2" height="1.2"/><rect x="163.4" y="354.0" width="1.2" height="1.2"/><rect x="168.2" y="348.8" width="1.2" height="1.2"/><rect x="168.3" y="333.8" width="1.2" height="1.2"/><rect x="176.6" y="310.6" width="1.2" height="1.2"/><rect x="147.5" y="348.4" width="1.2" height="1.2"/><rect x="168.7" y="316.4" width="1.2" height="1.2"/><rect x="164.6" y="362.6" width="1.2" height="1.2"/><rect x="139.5" y="297.8" width="1.2" height="1.2"/><rect x="172.1" y="284.9" width="1.2" height="1.2"/><rect x="166.6" y="326.7" width="1.2" height="1.2"/><rect x="164.7" y="321.0" width="1.2" height="1.2"/><rect x="155.5" y="363.1" width="1.2" height="1.2"/><rect x="172.2" y="291.1" width="1.2" height="1.2"/><rect x="169.4" y="329.3" width="1.2" height="1.2"/><rect x="153.6" y="339.2" width="1.2" height="1.2"/><rect x="178.3" y="280.3" width="1.2" height="1.2"/><rect x="138.2" y="309.1" width="1.2" height="1.2"/><rect x="147.2" y="342.3" width="1.2" height="1.2"/><rect x="176.0" y="281.7" width="1.2" height="1.2"/><rect x="148.2" y="322.8" width="1.2" height="1.2"/><rect x="149.3" y="319.6" width="1.2" height="1.2"/><rect x="143.4" y="272.5" width="1.2" height="1.2"/><rect x="147.0" y="316.7" width="1.2" height="1.2"/><rect x="152.0" y="312.2" width="1.2" height="1.2"/><rect x="176.0" y="315.9" width="1.2" height="1.2"/><rect x="176.7" y="298.5" width="1.2" height="1.2"/><rect x="143.3" y="299.0" width="1.2" height="1.2"/><rect x="148.2" y="308.5" width="1.2" height="1.2"/><rect x="174.7" y="304.7" width="1.2" height="1.2"/><rect x="147.6" y="343.7" width="1.2" height="1.2"/><rect x="170.5" y="310.2" width="1.2" height="1.2"/><rect x="144.8" y="324.0" width="1.2" height="1.2"/><rect x="176.0" y="291.8" width="1.2" height="1.2"/><rect x="138.5" y="294.8" width="1.2" height="1.2"/><rect x="160.6" y="347.7" width="1.2" height="1.2"/><rect x="149.1" y="343.1" width="1.2" height="1.2"/><rect x="162.0" y="349.4" width="1.2" height="1.2"/><rect x="144.7" y="339.8" width="1.2" height="1.2"/><rect x="169.3" y="307.1" width="1.2" height="1.2"/><rect x="168.6" y="328.6" width="1.2" height="1.2"/><rect x="180.9" y="300.2" width="1.2" height="1.2"/><rect x="149.6" y="330.0" width="1.2" height="1.2"/><rect x="175.9" y="289.4" width="1.2" height="1.2"/><rect x="169.5" y="354.3" width="1.2" height="1.2"/><rect x="144.2" y="310.7" width="1.2" height="1.2"/><rect x="166.4" y="352.6" width="1.2" height="1.2"/><rect x="169.3" y="302.7" width="1.2" height="1.2"/><rect x="165.4" y="355.1" width="1.2" height="1.2"/><rect x="147.8" y="344.0" width="1.2" height="1.2"/><rect x="153.2" y="362.8" width="1.2" height="1.2"/><rect x="162.0" y="359.9" width="1.2" height="1.2"/><rect x="146.6" y="345.3" width="1.2" height="1.2"/><rect x="151.9" y="350.8" width="1.2" height="1.2"/><rect x="175.0" y="297.3" width="1.2" height="1.2"/><rect x="157.2" y="361.0" width="1.2" height="1.2"/><rect x="175.7" y="297.2" width="1.2" height="1.2"/><rect x="168.5" y="326.5" width="1.2" height="1.2"/><rect x="170.7" y="329.1" width="1.2" height="1.2"/><rect x="171.8" y="291.9" width="1.2" height="1.2"/><rect x="145.9" y="295.6" width="1.2" height="1.2"/><rect x="151.2" y="344.8" width="1.2" height="1.2"/><rect x="173.3" y="297.0" width="1.2" height="1.2"/><rect x="171.8" y="322.6" width="1.2" height="1.2"/><rect x="143.6" y="297.9" width="1.2" height="1.2"/><rect x="170.0" y="327.0" width="1.2" height="1.2"/><rect x="152.4" y="359.0" width="1.2" height="1.2"/><rect x="155.0" y="352.3" width="1.2" height="1.2"/><rect x="156.1" y="354.9" width="1.2" height="1.2"/><rect x="151.3" y="292.7" width="1.2" height="1.2"/><rect x="164.2" y="358.1" width="1.2" height="1.2"/><rect x="170.8" y="324.1" width="1.2" height="1.2"/><rect x="140.2" y="308.0" width="1.2" height="1.2"/><rect x="154.7" y="362.3" width="1.2" height="1.2"/><rect x="166.8" y="357.8" width="1.2" height="1.2"/><rect x="150.1" y="350.2" width="1.2" height="1.2"/><rect x="163.3" y="356.5" width="1.2" height="1.2"/><rect x="174.8" y="294.4" width="1.2" height="1.2"/><rect x="148.4" y="320.9" width="1.2" height="1.2"/><rect x="155.9" y="354.6" width="1.2" height="1.2"/><rect x="138.0" y="263.6" width="1.2" height="1.2"/><rect x="149.8" y="301.7" width="1.2" height="1.2"/><rect x="149.1" y="290.5" width="1.2" height="1.2"/><rect x="155.0" y="364.2" width="1.2" height="1.2"/><rect x="160.4" y="355.5" width="1.2" height="1.2"/><rect x="155.8" y="358.2" width="1.2" height="1.2"/><rect x="147.3" y="317.4" width="1.2" height="1.2"/><rect x="151.1" y="334.4" width="1.2" height="1.2"/><rect x="146.4" y="325.4" width="1.2" height="1.2"/><rect x="177.7" y="316.5" width="1.2" height="1.2"/><rect x="147.0" y="304.4" width="1.2" height="1.2"/><rect x="136.7" y="300.5" width="1.2" height="1.2"/><rect x="146.3" y="307.3" width="1.2" height="1.2"/><rect x="150.8" y="343.5" width="1.2" height="1.2"/><rect x="149.2" y="332.9" width="1.2" height="1.2"/><rect x="147.6" y="308.6" width="1.2" height="1.2"/><rect x="169.3" y="314.1" width="1.2" height="1.2"/><rect x="139.0" y="296.6" width="1.2" height="1.2"/><rect x="164.6" y="363.7" width="1.2" height="1.2"/><rect x="167.3" y="355.7" width="1.2" height="1.2"/><rect x="166.2" y="360.4" width="1.2" height="1.2"/><rect x="161.7" y="363.8" width="1.2" height="1.2"/><rect x="163.0" y="360.1" width="1.2" height="1.2"/><rect x="166.9" y="362.8" width="1.2" height="1.2"/><rect x="155.8" y="359.1" width="1.2" height="1.2"/><rect x="149.8" y="327.0" width="1.2" height="1.2"/><rect x="164.4" y="356.7" width="1.2" height="1.2"/><rect x="178.2" y="286.9" width="1.2" height="1.2"/><rect x="173.7" y="341.7" width="1.2" height="1.2"/><rect x="149.2" y="346.0" width="1.2" height="1.2"/><rect x="134.4" y="287.8" width="1.2" height="1.2"/><rect x="167.0" y="339.8" width="1.2" height="1.2"/><rect x="172.7" y="331.7" width="1.2" height="1.2"/><rect x="154.7" y="358.1" width="1.2" height="1.2"/><rect x="169.6" y="298.1" width="1.2" height="1.2"/><rect x="161.1" y="363.2" width="1.2" height="1.2"/><rect x="170.2" y="320.1" width="1.2" height="1.2"/><rect x="170.9" y="351.5" width="1.2" height="1.2"/><rect x="173.5" y="296.9" width="1.2" height="1.2"/><rect x="173.0" y="326.8" width="1.2" height="1.2"/><rect x="162.0" y="350.4" width="1.2" height="1.2"/><rect x="154.3" y="358.6" width="1.2" height="1.2"/><rect x="152.1" y="349.1" width="1.2" height="1.2"/><rect x="171.7" y="325.6" width="1.2" height="1.2"/><rect x="165.1" y="354.6" width="1.2" height="1.2"/><rect x="164.5" y="336.4" width="1.2" height="1.2"/><rect x="150.2" y="353.3" width="1.2" height="1.2"/><rect x="167.0" y="344.8" width="1.2" height="1.2"/><rect x="166.5" y="329.8" width="1.2" height="1.2"/><rect x="172.2" y="312.3" width="1.2" height="1.2"/><rect x="143.4" y="303.9" width="1.2" height="1.2"/><rect x="147.0" y="315.4" width="1.2" height="1.2"/><rect x="143.2" y="296.1" width="1.2" height="1.2"/><rect x="145.2" y="320.3" width="1.2" height="1.2"/><rect x="166.6" y="308.2" width="1.2" height="1.2"/><rect x="167.9" y="335.9" width="1.2" height="1.2"/><rect x="179.0" y="300.1" width="1.2" height="1.2"/><rect x="153.9" y="327.5" width="1.2" height="1.2"/><rect x="139.8" y="284.8" width="1.2" height="1.2"/><rect x="167.1" y="325.8" width="1.2" height="1.2"/><rect x="154.8" y="348.8" width="1.2" height="1.2"/><rect x="148.1" y="342.5" width="1.2" height="1.2"/><rect x="174.1" y="338.2" width="1.2" height="1.2"/><rect x="150.4" y="357.8" width="1.2" height="1.2"/><rect x="139.2" y="290.0" width="1.2" height="1.2"/><rect x="178.9" y="272.4" width="1.2" height="1.2"/><rect x="167.3" y="362.7" width="1.2" height="1.2"/><rect x="174.6" y="299.6" width="1.2" height="1.2"/><rect x="164.5" y="332.8" width="1.2" height="1.2"/><rect x="164.5" y="344.4" width="1.2" height="1.2"/><rect x="167.2" y="332.2" width="1.2" height="1.2"/><rect x="146.3" y="341.4" width="1.2" height="1.2"/><rect x="171.1" y="291.8" width="1.2" height="1.2"/><rect x="171.6" y="298.1" width="1.2" height="1.2"/><rect x="170.7" y="347.1" width="1.2" height="1.2"/><rect x="175.0" y="333.1" width="1.2" height="1.2"/><rect x="179.8" y="293.4" width="1.2" height="1.2"/><rect x="164.7" y="357.2" width="1.2" height="1.2"/><rect x="156.2" y="355.7" width="1.2" height="1.2"/><rect x="172.5" y="344.7" width="1.2" height="1.2"/><rect x="145.6" y="311.0" width="1.2" height="1.2"/><rect x="152.8" y="364.2" width="1.2" height="1.2"/><rect x="170.6" y="354.9" width="1.2" height="1.2"/><rect x="149.6" y="350.5" width="1.2" height="1.2"/><rect x="164.3" y="340.6" width="1.2" height="1.2"/><rect x="147.5" y="313.4" width="1.2" height="1.2"/><rect x="146.4" y="308.0" width="1.2" height="1.2"/><rect x="169.3" y="362.0" width="1.2" height="1.2"/><rect x="151.8" y="344.7" width="1.2" height="1.2"/><rect x="156.7" y="360.2" width="1.2" height="1.2"/><rect x="148.2" y="342.4" width="1.2" height="1.2"/><rect x="152.4" y="327.7" width="1.2" height="1.2"/><rect x="164.0" y="362.8" width="1.2" height="1.2"/><rect x="172.4" y="347.3" width="1.2" height="1.2"/><rect x="139.3" y="296.1" width="1.2" height="1.2"/><rect x="147.5" y="298.8" width="1.2" height="1.2"/><rect x="169.9" y="347.7" width="1.2" height="1.2"/><rect x="163.5" y="356.2" width="1.2" height="1.2"/><rect x="142.0" y="295.0" width="1.2" height="1.2"/><rect x="155.5" y="342.4" width="1.2" height="1.2"/><rect x="154.8" y="359.0" width="1.2" height="1.2"/><rect x="149.1" y="349.4" width="1.2" height="1.2"/><rect x="146.3" y="321.2" width="1.2" height="1.2"/><rect x="168.3" y="350.3" width="1.2" height="1.2"/><rect x="171.7" y="338.3" width="1.2" height="1.2"/><rect x="141.0" y="316.5" width="1.2" height="1.2"/><rect x="151.0" y="289.4" width="1.2" height="1.2"/><rect x="154.1" y="337.6" width="1.2" height="1.2"/><rect x="152.7" y="327.3" width="1.2" height="1.2"/><rect x="150.0" y="325.7" width="1.2" height="1.2"/><rect x="156.3" y="330.8" width="1.2" height="1.2"/><rect x="148.4" y="342.5" width="1.2" height="1.2"/><rect x="151.1" y="360.9" width="1.2" height="1.2"/><rect x="150.8" y="346.9" width="1.2" height="1.2"/><rect x="167.3" y="334.1" width="1.2" height="1.2"/><rect x="152.1" y="347.6" width="1.2" height="1.2"/><rect x="169.7" y="341.2" width="1.2" height="1.2"/><rect x="174.7" y="302.9" width="1.2" height="1.2"/><rect x="145.8" y="320.0" width="1.2" height="1.2"/><rect x="164.8" y="340.5" width="1.2" height="1.2"/><rect x="146.5" y="344.8" width="1.2" height="1.2"/><rect x="168.8" y="359.4" width="1.2" height="1.2"/><rect x="162.4" y="363.0" width="1.2" height="1.2"/><rect x="151.1" y="348.1" width="1.2" height="1.2"/><rect x="153.7" y="355.9" width="1.2" height="1.2"/><rect x="171.2" y="316.9" width="1.2" height="1.2"/><rect x="167.3" y="364.2" width="1.2" height="1.2"/><rect x="173.6" y="349.2" width="1.2" height="1.2"/><rect x="168.2" y="351.9" width="1.2" height="1.2"/><rect x="156.6" y="354.0" width="1.2" height="1.2"/><rect x="147.7" y="341.9" width="1.2" height="1.2"/><rect x="174.1" y="349.6" width="1.2" height="1.2"/><rect x="138.4" y="279.1" width="1.2" height="1.2"/><rect x="162.7" y="337.6" width="1.2" height="1.2"/><rect x="142.0" y="339.4" width="1.2" height="1.2"/><rect x="153.9" y="362.8" width="1.2" height="1.2"/><rect x="163.5" y="351.6" width="1.2" height="1.2"/><rect x="151.6" y="340.6" width="1.2" height="1.2"/><rect x="150.4" y="320.7" width="1.2" height="1.2"/><rect x="141.3" y="332.9" width="1.2" height="1.2"/><rect x="147.4" y="302.7" width="1.2" height="1.2"/><rect x="153.4" y="346.1" width="1.2" height="1.2"/><rect x="166.5" y="321.0" width="1.2" height="1.2"/><rect x="172.8" y="312.8" width="1.2" height="1.2"/><rect x="151.8" y="354.3" width="1.2" height="1.2"/><rect x="152.1" y="354.8" width="1.2" height="1.2"/><rect x="146.1" y="336.4" width="1.2" height="1.2"/><rect x="172.1" y="316.9" width="1.2" height="1.2"/><rect x="162.3" y="359.8" width="1.2" height="1.2"/><rect x="154.7" y="364.1" width="1.2" height="1.2"/><rect x="175.2" y="324.2" width="1.2" height="1.2"/><rect x="152.0" y="358.2" width="1.2" height="1.2"/><rect x="144.4" y="306.6" width="1.2" height="1.2"/><rect x="176.2" y="299.0" width="1.2" height="1.2"/><rect x="145.1" y="307.4" width="1.2" height="1.2"/><rect x="148.4" y="347.0" width="1.2" height="1.2"/><rect x="152.5" y="343.6" width="1.2" height="1.2"/><rect x="145.6" y="324.1" width="1.2" height="1.2"/><rect x="177.7" y="300.9" width="1.2" height="1.2"/><rect x="150.5" y="348.3" width="1.2" height="1.2"/><rect x="173.1" y="319.3" width="1.2" height="1.2"/><rect x="167.1" y="363.0" width="1.2" height="1.2"/><rect x="153.8" y="316.4" width="1.2" height="1.2"/><rect x="168.2" y="339.6" width="1.2" height="1.2"/><rect x="146.5" y="333.0" width="1.2" height="1.2"/><rect x="146.9" y="307.7" width="1.2" height="1.2"/><rect x="162.3" y="348.6" width="1.2" height="1.2"/><rect x="155.2" y="361.0" width="1.2" height="1.2"/><rect x="149.4" y="295.1" width="1.2" height="1.2"/><rect x="171.5" y="282.4" width="1.2" height="1.2"/><rect x="143.6" y="325.6" width="1.2" height="1.2"/><rect x="138.2" y="296.7" width="1.2" height="1.2"/><rect x="145.1" y="302.7" width="1.2" height="1.2"/><rect x="145.8" y="320.1" width="1.2" height="1.2"/><rect x="170.3" y="327.9" width="1.2" height="1.2"/><rect x="147.3" y="329.1" width="1.2" height="1.2"/><rect x="150.1" y="330.4" width="1.2" height="1.2"/><rect x="156.2" y="351.3" width="1.2" height="1.2"/><rect x="151.5" y="330.0" width="1.2" height="1.2"/><rect x="150.3" y="359.5" width="1.2" height="1.2"/><rect x="153.8" y="361.5" width="1.2" height="1.2"/><rect x="147.6" y="330.2" width="1.2" height="1.2"/><rect x="139.4" y="273.7" width="1.2" height="1.2"/><rect x="164.4" y="356.3" width="1.2" height="1.2"/><rect x="176.2" y="312.1" width="1.2" height="1.2"/><rect x="155.9" y="343.4" width="1.2" height="1.2"/><rect x="151.6" y="353.9" width="1.2" height="1.2"/><rect x="153.5" y="324.7" width="1.2" height="1.2"/><rect x="175.4" y="299.8" width="1.2" height="1.2"/><rect x="170.3" y="313.0" width="1.2" height="1.2"/><rect x="162.2" y="359.0" width="1.2" height="1.2"/><rect x="167.7" y="362.8" width="1.2" height="1.2"/><rect x="170.0" y="330.4" width="1.2" height="1.2"/><rect x="164.6" y="351.3" width="1.2" height="1.2"/><rect x="143.5" y="306.7" width="1.2" height="1.2"/><rect x="144.7" y="309.9" width="1.2" height="1.2"/><rect x="150.6" y="349.0" width="1.2" height="1.2"/><rect x="145.8" y="331.2" width="1.2" height="1.2"/><rect x="177.6" y="297.1" width="1.2" height="1.2"/><rect x="144.9" y="303.7" width="1.2" height="1.2"/><rect x="167.3" y="355.7" width="1.2" height="1.2"/><rect x="149.8" y="357.1" width="1.2" height="1.2"/><rect x="172.2" y="303.7" width="1.2" height="1.2"/><rect x="143.4" y="301.9" width="1.2" height="1.2"/><rect x="163.7" y="356.4" width="1.2" height="1.2"/><rect x="170.5" y="344.7" width="1.2" height="1.2"/><rect x="155.6" y="346.0" width="1.2" height="1.2"/><rect x="165.8" y="357.8" width="1.2" height="1.2"/><rect x="163.6" y="350.1" width="1.2" height="1.2"/><rect x="174.4" y="296.3" width="1.2" height="1.2"/><rect x="170.5" y="329.4" width="1.2" height="1.2"/><rect x="163.0" y="323.6" width="1.2" height="1.2"/><rect x="151.8" y="310.4" width="1.2" height="1.2"/><rect x="165.7" y="313.1" width="1.2" height="1.2"/><rect x="167.6" y="323.6" width="1.2" height="1.2"/><rect x="155.3" y="345.8" width="1.2" height="1.2"/><rect x="141.9" y="284.5" width="1.2" height="1.2"/><rect x="151.7" y="345.0" width="1.2" height="1.2"/><rect x="168.6" y="338.1" width="1.2" height="1.2"/><rect x="167.6" y="356.5" width="1.2" height="1.2"/><rect x="150.2" y="330.2" width="1.2" height="1.2"/><rect x="172.6" y="299.5" width="1.2" height="1.2"/><rect x="142.2" y="293.6" width="1.2" height="1.2"/><rect x="151.4" y="339.4" width="1.2" height="1.2"/><rect x="151.2" y="349.9" width="1.2" height="1.2"/><rect x="152.8" y="356.7" width="1.2" height="1.2"/><rect x="157.0" y="354.6" width="1.2" height="1.2"/><rect x="172.5" y="322.5" width="1.2" height="1.2"/><rect x="168.9" y="361.2" width="1.2" height="1.2"/><rect x="168.7" y="345.5" width="1.2" height="1.2"/><rect x="172.2" y="323.2" width="1.2" height="1.2"/><rect x="167.0" y="346.5" width="1.2" height="1.2"/><rect x="146.2" y="345.8" width="1.2" height="1.2"/><rect x="152.6" y="362.7" width="1.2" height="1.2"/><rect x="150.0" y="351.1" width="1.2" height="1.2"/><rect x="133.8" y="299.1" width="1.2" height="1.2"/><rect x="142.4" y="316.3" width="1.2" height="1.2"/><rect x="156.2" y="357.2" width="1.2" height="1.2"/><rect x="155.4" y="339.8" width="1.2" height="1.2"/><rect x="166.7" y="329.9" width="1.2" height="1.2"/><rect x="148.2" y="351.1" width="1.2" height="1.2"/><rect x="169.8" y="312.0" width="1.2" height="1.2"/><rect x="172.5" y="349.7" width="1.2" height="1.2"/><rect x="174.5" y="298.1" width="1.2" height="1.2"/><rect x="138.8" y="312.1" width="1.2" height="1.2"/><rect x="150.8" y="362.1" width="1.2" height="1.2"/><rect x="142.5" y="299.3" width="1.2" height="1.2"/><rect x="145.5" y="299.5" width="1.2" height="1.2"/><rect x="146.4" y="311.8" width="1.2" height="1.2"/><rect x="168.5" y="346.7" width="1.2" height="1.2"/><rect x="169.5" y="322.7" width="1.2" height="1.2"/><rect x="151.7" y="362.1" width="1.2" height="1.2"/><rect x="173.0" y="293.1" width="1.2" height="1.2"/><rect x="148.5" y="339.0" width="1.2" height="1.2"/><rect x="144.3" y="313.4" width="1.2" height="1.2"/><rect x="167.2" y="328.8" width="1.2" height="1.2"/><rect x="144.0" y="304.0" width="1.2" height="1.2"/><rect x="173.2" y="346.2" width="1.2" height="1.2"/><rect x="151.9" y="356.9" width="1.2" height="1.2"/><rect x="139.9" y="302.8" width="1.2" height="1.2"/><rect x="152.6" y="344.2" width="1.2" height="1.2"/><rect x="135.6" y="293.0" width="1.2" height="1.2"/><rect x="154.1" y="359.6" width="1.2" height="1.2"/><rect x="171.5" y="315.3" width="1.2" height="1.2"/><rect x="150.1" y="319.7" width="1.2" height="1.2"/><rect x="175.2" y="302.9" width="1.2" height="1.2"/><rect x="167.2" y="352.5" width="1.2" height="1.2"/><rect x="148.8" y="352.7" width="1.2" height="1.2"/><rect x="156.7" y="363.7" width="1.2" height="1.2"/><rect x="168.5" y="335.0" width="1.2" height="1.2"/><rect x="152.6" y="355.9" width="1.2" height="1.2"/><rect x="163.8" y="359.6" width="1.2" height="1.2"/><rect x="142.5" y="299.7" width="1.2" height="1.2"/><rect x="173.6" y="315.7" width="1.2" height="1.2"/><rect x="153.3" y="350.6" width="1.2" height="1.2"/><rect x="149.3" y="329.8" width="1.2" height="1.2"/><rect x="144.5" y="319.3" width="1.2" height="1.2"/><rect x="170.9" y="294.1" width="1.2" height="1.2"/><rect x="166.2" y="341.5" width="1.2" height="1.2"/><rect x="171.1" y="342.5" width="1.2" height="1.2"/><rect x="147.8" y="292.6" width="1.2" height="1.2"/><rect x="170.3" y="325.5" width="1.2" height="1.2"/><rect x="156.8" y="354.7" width="1.2" height="1.2"/><rect x="182.2" y="279.3" width="1.2" height="1.2"/><rect x="150.7" y="330.3" width="1.2" height="1.2"/><rect x="139.7" y="273.4" width="1.2" height="1.2"/><rect x="172.6" y="327.0" width="1.2" height="1.2"/><rect x="167.5" y="342.9" width="1.2" height="1.2"/><rect x="164.9" y="332.1" width="1.2" height="1.2"/><rect x="145.5" y="330.8" width="1.2" height="1.2"/><rect x="155.8" y="350.6" width="1.2" height="1.2"/><rect x="166.3" y="335.8" width="1.2" height="1.2"/><rect x="139.4" y="299.0" width="1.2" height="1.2"/><rect x="165.6" y="352.3" width="1.2" height="1.2"/><rect x="145.7" y="337.0" width="1.2" height="1.2"/><rect x="160.8" y="362.8" width="1.2" height="1.2"/><rect x="146.9" y="308.5" width="1.2" height="1.2"/><rect x="152.8" y="344.5" width="1.2" height="1.2"/><rect x="171.5" y="337.6" width="1.2" height="1.2"/><rect x="170.2" y="337.9" width="1.2" height="1.2"/><rect x="149.5" y="313.4" width="1.2" height="1.2"/><rect x="155.8" y="352.3" width="1.2" height="1.2"/><rect x="153.5" y="342.8" width="1.2" height="1.2"/><rect x="165.9" y="355.9" width="1.2" height="1.2"/><rect x="167.4" y="346.7" width="1.2" height="1.2"/><rect x="151.8" y="304.9" width="1.2" height="1.2"/><rect x="143.1" y="310.6" width="1.2" height="1.2"/><rect x="148.8" y="343.7" width="1.2" height="1.2"/><rect x="163.9" y="340.9" width="1.2" height="1.2"/><rect x="143.2" y="328.0" width="1.2" height="1.2"/><rect x="173.7" y="295.1" width="1.2" height="1.2"/><rect x="162.4" y="361.6" width="1.2" height="1.2"/><rect x="161.2" y="332.1" width="1.2" height="1.2"/><rect x="170.1" y="326.9" width="1.2" height="1.2"/><rect x="141.5" y="306.6" width="1.2" height="1.2"/><rect x="170.9" y="334.7" width="1.2" height="1.2"/><rect x="147.2" y="320.7" width="1.2" height="1.2"/><rect x="145.2" y="330.0" width="1.2" height="1.2"/><rect x="165.4" y="359.3" width="1.2" height="1.2"/><rect x="166.0" y="360.8" width="1.2" height="1.2"/><rect x="163.0" y="362.3" width="1.2" height="1.2"/><rect x="141.9" y="319.0" width="1.2" height="1.2"/><rect x="145.9" y="292.7" width="1.2" height="1.2"/><rect x="142.6" y="332.7" width="1.2" height="1.2"/><rect x="146.5" y="297.6" width="1.2" height="1.2"/><rect x="140.7" y="304.9" width="1.2" height="1.2"/><rect x="150.4" y="348.0" width="1.2" height="1.2"/><rect x="173.0" y="305.1" width="1.2" height="1.2"/><rect x="153.6" y="343.3" width="1.2" height="1.2"/><rect x="144.1" y="327.6" width="1.2" height="1.2"/><rect x="139.3" y="278.3" width="1.2" height="1.2"/><rect x="150.3" y="340.8" width="1.2" height="1.2"/><rect x="167.4" y="350.1" width="1.2" height="1.2"/><rect x="167.0" y="327.0" width="1.2" height="1.2"/><rect x="141.5" y="269.1" width="1.2" height="1.2"/><rect x="154.8" y="323.2" width="1.2" height="1.2"/><rect x="154.7" y="355.8" width="1.2" height="1.2"/><rect x="166.9" y="309.9" width="1.2" height="1.2"/><rect x="166.0" y="354.0" width="1.2" height="1.2"/><rect x="174.3" y="299.8" width="1.2" height="1.2"/><rect x="145.1" y="296.9" width="1.2" height="1.2"/><rect x="157.0" y="351.1" width="1.2" height="1.2"/><rect x="143.9" y="318.7" width="1.2" height="1.2"/><rect x="152.5" y="348.7" width="1.2" height="1.2"/><rect x="156.9" y="357.3" width="1.2" height="1.2"/><rect x="176.7" y="306.4" width="1.2" height="1.2"/><rect x="168.4" y="363.2" width="1.2" height="1.2"/><rect x="151.6" y="353.2" width="1.2" height="1.2"/><rect x="150.0" y="339.3" width="1.2" height="1.2"/><rect x="178.7" y="307.5" width="1.2" height="1.2"/><rect x="174.5" y="274.7" width="1.2" height="1.2"/><rect x="149.1" y="334.3" width="1.2" height="1.2"/><rect x="171.9" y="335.2" width="1.2" height="1.2"/><rect x="162.7" y="358.1" width="1.2" height="1.2"/><rect x="146.2" y="306.1" width="1.2" height="1.2"/><rect x="151.5" y="295.4" width="1.2" height="1.2"/><rect x="142.5" y="296.7" width="1.2" height="1.2"/><rect x="152.4" y="351.7" width="1.2" height="1.2"/><rect x="163.2" y="361.7" width="1.2" height="1.2"/><rect x="170.6" y="330.1" width="1.2" height="1.2"/><rect x="144.6" y="333.1" width="1.2" height="1.2"/><rect x="151.4" y="358.5" width="1.2" height="1.2"/><rect x="152.2" y="356.8" width="1.2" height="1.2"/><rect x="147.7" y="284.6" width="1.2" height="1.2"/><rect x="169.9" y="357.6" width="1.2" height="1.2"/><rect x="153.4" y="331.3" width="1.2" height="1.2"/><rect x="150.3" y="356.8" width="1.2" height="1.2"/><rect x="149.8" y="341.2" width="1.2" height="1.2"/><rect x="154.7" y="352.2" width="1.2" height="1.2"/><rect x="171.0" y="297.5" width="1.2" height="1.2"/><rect x="147.7" y="328.7" width="1.2" height="1.2"/><rect x="164.0" y="350.7" width="1.2" height="1.2"/><rect x="147.4" y="332.7" width="1.2" height="1.2"/><rect x="158.0" y="352.6" width="1.2" height="1.2"/><rect x="173.8" y="317.4" width="1.2" height="1.2"/><rect x="179.5" y="295.0" width="1.2" height="1.2"/><rect x="168.5" y="345.5" width="1.2" height="1.2"/><rect x="182.6" y="299.5" width="1.2" height="1.2"/><rect x="154.4" y="360.8" width="1.2" height="1.2"/><rect x="149.3" y="320.0" width="1.2" height="1.2"/><rect x="154.7" y="353.5" width="1.2" height="1.2"/><rect x="139.2" y="271.6" width="1.2" height="1.2"/><rect x="151.1" y="311.7" width="1.2" height="1.2"/><rect x="166.9" y="324.4" width="1.2" height="1.2"/><rect x="164.5" y="360.6" width="1.2" height="1.2"/><rect x="138.7" y="285.2" width="1.2" height="1.2"/><rect x="138.3" y="298.1" width="1.2" height="1.2"/><rect x="174.4" y="307.2" width="1.2" height="1.2"/><rect x="141.2" y="311.3" width="1.2" height="1.2"/><rect x="165.7" y="296.0" width="1.2" height="1.2"/><rect x="143.4" y="292.0" width="1.2" height="1.2"/><rect x="163.9" y="354.8" width="1.2" height="1.2"/><rect x="154.4" y="334.6" width="1.2" height="1.2"/><rect x="169.1" y="311.3" width="1.2" height="1.2"/><rect x="175.9" y="297.7" width="1.2" height="1.2"/><rect x="141.8" y="306.9" width="1.2" height="1.2"/><rect x="145.2" y="306.9" width="1.2" height="1.2"/><rect x="153.5" y="359.7" width="1.2" height="1.2"/><rect x="166.8" y="326.0" width="1.2" height="1.2"/><rect x="145.9" y="306.2" width="1.2" height="1.2"/><rect x="164.4" y="360.8" width="1.2" height="1.2"/><rect x="151.2" y="309.4" width="1.2" height="1.2"/><rect x="155.1" y="362.9" width="1.2" height="1.2"/><rect x="140.8" y="290.5" width="1.2" height="1.2"/><rect x="175.5" y="301.9" width="1.2" height="1.2"/><rect x="153.0" y="356.9" width="1.2" height="1.2"/><rect x="168.4" y="356.1" width="1.2" height="1.2"/><rect x="165.9" y="344.8" width="1.2" height="1.2"/><rect x="141.2" y="304.6" width="1.2" height="1.2"/><rect x="170.4" y="321.1" width="1.2" height="1.2"/><rect x="153.6" y="338.2" width="1.2" height="1.2"/><rect x="166.6" y="343.1" width="1.2" height="1.2"/><rect x="170.2" y="300.7" width="1.2" height="1.2"/><rect x="172.8" y="307.0" width="1.2" height="1.2"/><rect x="168.3" y="338.0" width="1.2" height="1.2"/><rect x="145.1" y="296.7" width="1.2" height="1.2"/><rect x="163.8" y="362.7" width="1.2" height="1.2"/><rect x="146.6" y="323.1" width="1.2" height="1.2"/><rect x="156.7" y="339.9" width="1.2" height="1.2"/><rect x="170.8" y="309.5" width="1.2" height="1.2"/><rect x="167.8" y="319.1" width="1.2" height="1.2"/><rect x="151.7" y="328.3" width="1.2" height="1.2"/><rect x="143.6" y="332.9" width="1.2" height="1.2"/><rect x="173.1" y="315.1" width="1.2" height="1.2"/><rect x="153.8" y="342.6" width="1.2" height="1.2"/><rect x="177.6" y="294.3" width="1.2" height="1.2"/><rect x="165.3" y="346.9" width="1.2" height="1.2"/><rect x="151.6" y="342.5" width="1.2" height="1.2"/><rect x="168.3" y="354.4" width="1.2" height="1.2"/><rect x="169.9" y="311.8" width="1.2" height="1.2"/><rect x="141.6" y="313.6" width="1.2" height="1.2"/><rect x="167.4" y="349.9" width="1.2" height="1.2"/><rect x="141.3" y="286.7" width="1.2" height="1.2"/><rect x="178.7" y="312.4" width="1.2" height="1.2"/><rect x="175.9" y="297.8" width="1.2" height="1.2"/><rect x="149.9" y="361.7" width="1.2" height="1.2"/><rect x="170.6" y="309.3" width="1.2" height="1.2"/><rect x="152.9" y="322.8" width="1.2" height="1.2"/><rect x="166.7" y="341.8" width="1.2" height="1.2"/><rect x="162.0" y="345.5" width="1.2" height="1.2"/><rect x="148.8" y="303.8" width="1.2" height="1.2"/><rect x="172.4" y="320.8" width="1.2" height="1.2"/><rect x="149.5" y="340.5" width="1.2" height="1.2"/><rect x="144.1" y="320.9" width="1.2" height="1.2"/><rect x="171.2" y="306.1" width="1.2" height="1.2"/><rect x="163.4" y="357.5" width="1.2" height="1.2"/><rect x="138.8" y="301.5" width="1.2" height="1.2"/><rect x="172.0" y="322.5" width="1.2" height="1.2"/><rect x="168.8" y="325.4" width="1.2" height="1.2"/><rect x="149.6" y="326.1" width="1.2" height="1.2"/><rect x="152.0" y="360.5" width="1.2" height="1.2"/><rect x="171.3" y="294.7" width="1.2" height="1.2"/><rect x="172.7" y="306.7" width="1.2" height="1.2"/><rect x="166.8" y="350.0" width="1.2" height="1.2"/><rect x="149.3" y="329.9" width="1.2" height="1.2"/><rect x="165.4" y="353.2" width="1.2" height="1.2"/><rect x="164.7" y="346.2" width="1.2" height="1.2"/><rect x="171.8" y="306.6" width="1.2" height="1.2"/><rect x="164.7" y="363.3" width="1.2" height="1.2"/><rect x="153.5" y="362.0" width="1.2" height="1.2"/><rect x="166.2" y="327.5" width="1.2" height="1.2"/><rect x="175.8" y="304.2" width="1.2" height="1.2"/><rect x="169.2" y="296.0" width="1.2" height="1.2"/><rect x="143.7" y="317.6" width="1.2" height="1.2"/><rect x="153.1" y="349.5" width="1.2" height="1.2"/><rect x="147.1" y="332.9" width="1.2" height="1.2"/><rect x="167.4" y="350.6" width="1.2" height="1.2"/><rect x="174.4" y="294.9" width="1.2" height="1.2"/><rect x="162.4" y="316.7" width="1.2" height="1.2"/><rect x="157.2" y="363.9" width="1.2" height="1.2"/><rect x="162.9" y="344.6" width="1.2" height="1.2"/><rect x="142.5" y="293.3" width="1.2" height="1.2"/><rect x="145.3" y="301.4" width="1.2" height="1.2"/><rect x="166.2" y="360.1" width="1.2" height="1.2"/><rect x="176.1" y="293.3" width="1.2" height="1.2"/><rect x="169.4" y="335.9" width="1.2" height="1.2"/><rect x="147.8" y="333.5" width="1.2" height="1.2"/><rect x="157.9" y="363.7" width="1.2" height="1.2"/><rect x="170.3" y="286.1" width="1.2" height="1.2"/><rect x="147.4" y="306.4" width="1.2" height="1.2"/><rect x="150.6" y="353.8" width="1.2" height="1.2"/><rect x="144.0" y="311.1" width="1.2" height="1.2"/><rect x="143.0" y="302.3" width="1.2" height="1.2"/><rect x="144.1" y="302.6" width="1.2" height="1.2"/><rect x="153.1" y="354.3" width="1.2" height="1.2"/><rect x="156.4" y="327.1" width="1.2" height="1.2"/><rect x="145.6" y="337.3" width="1.2" height="1.2"/><rect x="162.9" y="361.8" width="1.2" height="1.2"/><rect x="164.1" y="336.3" width="1.2" height="1.2"/><rect x="173.8" y="322.4" width="1.2" height="1.2"/><rect x="168.4" y="358.0" width="1.2" height="1.2"/><rect x="140.3" y="293.7" width="1.2" height="1.2"/><rect x="148.1" y="311.0" width="1.2" height="1.2"/><rect x="161.7" y="360.5" width="1.2" height="1.2"/><rect x="166.5" y="363.0" width="1.2" height="1.2"/><rect x="171.6" y="320.6" width="1.2" height="1.2"/><rect x="173.7" y="299.7" width="1.2" height="1.2"/><rect x="155.4" y="360.0" width="1.2" height="1.2"/><rect x="166.3" y="355.4" width="1.2" height="1.2"/><rect x="143.8" y="311.1" width="1.2" height="1.2"/><rect x="178.5" y="268.7" width="1.2" height="1.2"/><rect x="165.3" y="333.9" width="1.2" height="1.2"/><rect x="162.3" y="362.4" width="1.2" height="1.2"/><rect x="173.8" y="341.6" width="1.2" height="1.2"/><rect x="145.8" y="309.0" width="1.2" height="1.2"/><rect x="148.7" y="322.4" width="1.2" height="1.2"/><rect x="138.0" y="283.4" width="1.2" height="1.2"/><rect x="144.0" y="305.7" width="1.2" height="1.2"/><rect x="165.4" y="343.7" width="1.2" height="1.2"/><rect x="149.0" y="294.4" width="1.2" height="1.2"/><rect x="167.9" y="361.4" width="1.2" height="1.2"/><rect x="172.1" y="337.4" width="1.2" height="1.2"/><rect x="152.9" y="322.5" width="1.2" height="1.2"/><rect x="178.8" y="286.7" width="1.2" height="1.2"/><rect x="140.0" y="305.7" width="1.2" height="1.2"/><rect x="155.8" y="355.8" width="1.2" height="1.2"/><rect x="165.4" y="348.3" width="1.2" height="1.2"/><rect x="147.0" y="360.5" width="1.2" height="1.2"/><rect x="176.7" y="283.9" width="1.2" height="1.2"/><rect x="155.1" y="363.7" width="1.2" height="1.2"/><rect x="179.6" y="312.5" width="1.2" height="1.2"/><rect x="170.6" y="310.4" width="1.2" height="1.2"/><rect x="169.9" y="324.2" width="1.2" height="1.2"/><rect x="145.7" y="295.6" width="1.2" height="1.2"/><rect x="177.9" y="298.0" width="1.2" height="1.2"/><rect x="152.6" y="349.2" width="1.2" height="1.2"/><rect x="142.6" y="293.4" width="1.2" height="1.2"/><rect x="145.0" y="319.4" width="1.2" height="1.2"/><rect x="160.7" y="351.1" width="1.2" height="1.2"/><rect x="152.5" y="354.1" width="1.2" height="1.2"/><rect x="180.1" y="321.9" width="1.2" height="1.2"/><rect x="168.1" y="348.1" width="1.2" height="1.2"/><rect x="153.9" y="358.0" width="1.2" height="1.2"/><rect x="142.1" y="295.2" width="1.2" height="1.2"/><rect x="163.1" y="360.2" width="1.2" height="1.2"/><rect x="141.6" y="319.2" width="1.2" height="1.2"/><rect x="138.7" y="290.9" width="1.2" height="1.2"/><rect x="156.9" y="353.1" width="1.2" height="1.2"/><rect x="170.7" y="320.7" width="1.2" height="1.2"/><rect x="146.5" y="297.3" width="1.2" height="1.2"/><rect x="168.9" y="355.8" width="1.2" height="1.2"/><rect x="139.1" y="294.0" width="1.2" height="1.2"/><rect x="167.4" y="361.9" width="1.2" height="1.2"/><rect x="156.1" y="358.6" width="1.2" height="1.2"/><rect x="171.4" y="311.0" width="1.2" height="1.2"/><rect x="151.4" y="332.3" width="1.2" height="1.2"/><rect x="169.4" y="342.8" width="1.2" height="1.2"/><rect x="166.3" y="355.0" width="1.2" height="1.2"/><rect x="153.5" y="336.2" width="1.2" height="1.2"/><rect x="172.1" y="321.3" width="1.2" height="1.2"/><rect x="152.1" y="359.4" width="1.2" height="1.2"/><rect x="156.1" y="360.5" width="1.2" height="1.2"/><rect x="153.2" y="338.5" width="1.2" height="1.2"/><rect x="142.8" y="344.2" width="1.2" height="1.2"/><rect x="167.2" y="353.3" width="1.2" height="1.2"/><rect x="180.3" y="303.9" width="1.2" height="1.2"/><rect x="140.0" y="292.2" width="1.2" height="1.2"/><rect x="152.5" y="353.9" width="1.2" height="1.2"/><rect x="138.1" y="299.2" width="1.2" height="1.2"/><rect x="153.2" y="347.1" width="1.2" height="1.2"/><rect x="170.0" y="334.2" width="1.2" height="1.2"/><rect x="167.5" y="357.8" width="1.2" height="1.2"/><rect x="161.5" y="353.0" width="1.2" height="1.2"/><rect x="151.1" y="363.1" width="1.2" height="1.2"/><rect x="153.0" y="355.2" width="1.2" height="1.2"/><rect x="166.0" y="320.0" width="1.2" height="1.2"/><rect x="147.8" y="297.6" width="1.2" height="1.2"/><rect x="173.4" y="307.1" width="1.2" height="1.2"/><rect x="142.9" y="288.6" width="1.2" height="1.2"/><rect x="164.8" y="340.9" width="1.2" height="1.2"/><rect x="156.6" y="356.9" width="1.2" height="1.2"/><rect x="169.9" y="325.8" width="1.2" height="1.2"/><rect x="168.2" y="358.2" width="1.2" height="1.2"/><rect x="144.5" y="296.0" width="1.2" height="1.2"/><rect x="175.1" y="302.5" width="1.2" height="1.2"/><rect x="150.8" y="356.6" width="1.2" height="1.2"/><rect x="145.5" y="321.4" width="1.2" height="1.2"/><rect x="183.3" y="295.0" width="1.2" height="1.2"/><rect x="144.6" y="300.1" width="1.2" height="1.2"/><rect x="143.7" y="295.5" width="1.2" height="1.2"/><rect x="173.1" y="331.9" width="1.2" height="1.2"/><rect x="161.3" y="359.4" width="1.2" height="1.2"/><rect x="151.0" y="327.4" width="1.2" height="1.2"/><rect x="165.0" y="355.7" width="1.2" height="1.2"/><rect x="146.7" y="332.3" width="1.2" height="1.2"/><rect x="168.7" y="314.9" width="1.2" height="1.2"/><rect x="162.4" y="364.0" width="1.2" height="1.2"/><rect x="145.5" y="317.6" width="1.2" height="1.2"/><rect x="164.8" y="352.6" width="1.2" height="1.2"/><rect x="146.9" y="295.2" width="1.2" height="1.2"/><rect x="180.3" y="296.7" width="1.2" height="1.2"/><rect x="147.9" y="312.8" width="1.2" height="1.2"/><rect x="155.7" y="363.1" width="1.2" height="1.2"/><rect x="154.8" y="339.9" width="1.2" height="1.2"/><rect x="169.6" y="344.5" width="1.2" height="1.2"/><rect x="165.1" y="356.1" width="1.2" height="1.2"/><rect x="167.5" y="343.6" width="1.2" height="1.2"/><rect x="169.5" y="306.9" width="1.2" height="1.2"/><rect x="178.5" y="282.1" width="1.2" height="1.2"/><rect x="151.3" y="308.1" width="1.2" height="1.2"/><rect x="171.2" y="303.5" width="1.2" height="1.2"/><rect x="145.4" y="316.2" width="1.2" height="1.2"/><rect x="156.4" y="364.2" width="1.2" height="1.2"/><rect x="157.3" y="350.6" width="1.2" height="1.2"/><rect x="175.2" y="291.8" width="1.2" height="1.2"/><rect x="177.8" y="291.0" width="1.2" height="1.2"/><rect x="165.1" y="340.2" width="1.2" height="1.2"/><rect x="153.6" y="356.8" width="1.2" height="1.2"/><rect x="146.5" y="318.6" width="1.2" height="1.2"/><rect x="175.3" y="334.7" width="1.2" height="1.2"/><rect x="142.7" y="294.8" width="1.2" height="1.2"/><rect x="150.4" y="342.5" width="1.2" height="1.2"/><rect x="163.1" y="360.5" width="1.2" height="1.2"/><rect x="173.4" y="317.7" width="1.2" height="1.2"/><rect x="141.4" y="321.3" width="1.2" height="1.2"/><rect x="164.7" y="355.1" width="1.2" height="1.2"/><rect x="165.5" y="351.0" width="1.2" height="1.2"/><rect x="152.5" y="316.3" width="1.2" height="1.2"/><rect x="149.0" y="323.2" width="1.2" height="1.2"/><rect x="174.5" y="301.2" width="1.2" height="1.2"/><rect x="167.7" y="357.1" width="1.2" height="1.2"/><rect x="143.3" y="307.7" width="1.2" height="1.2"/><rect x="171.1" y="325.6" width="1.2" height="1.2"/><rect x="144.4" y="298.6" width="1.2" height="1.2"/><rect x="168.1" y="354.8" width="1.2" height="1.2"/><rect x="174.3" y="317.0" width="1.2" height="1.2"/><rect x="167.4" y="359.9" width="1.2" height="1.2"/><rect x="149.0" y="320.9" width="1.2" height="1.2"/><rect x="148.4" y="335.8" width="1.2" height="1.2"/><rect x="137.7" y="298.9" width="1.2" height="1.2"/><rect x="161.5" y="360.0" width="1.2" height="1.2"/><rect x="144.5" y="294.2" width="1.2" height="1.2"/><rect x="166.2" y="336.6" width="1.2" height="1.2"/><rect x="143.9" y="312.4" width="1.2" height="1.2"/><rect x="151.4" y="312.7" width="1.2" height="1.2"/><rect x="155.8" y="361.6" width="1.2" height="1.2"/><rect x="168.4" y="356.2" width="1.2" height="1.2"/><rect x="169.1" y="345.8" width="1.2" height="1.2"/><rect x="168.3" y="351.0" width="1.2" height="1.2"/><rect x="164.6" y="301.0" width="1.2" height="1.2"/><rect x="170.0" y="336.7" width="1.2" height="1.2"/><rect x="167.6" y="358.7" width="1.2" height="1.2"/><rect x="152.1" y="336.4" width="1.2" height="1.2"/><rect x="165.5" y="356.3" width="1.2" height="1.2"/><rect x="161.5" y="355.4" width="1.2" height="1.2"/><rect x="166.9" y="364.0" width="1.2" height="1.2"/><rect x="176.7" y="301.4" width="1.2" height="1.2"/><rect x="165.5" y="350.5" width="1.2" height="1.2"/><rect x="150.1" y="344.7" width="1.2" height="1.2"/><rect x="138.6" y="294.2" width="1.2" height="1.2"/><rect x="169.0" y="351.9" width="1.2" height="1.2"/><rect x="173.9" y="293.3" width="1.2" height="1.2"/><rect x="164.5" y="321.9" width="1.2" height="1.2"/><rect x="151.3" y="358.5" width="1.2" height="1.2"/><rect x="172.1" y="306.2" width="1.2" height="1.2"/><rect x="169.4" y="358.2" width="1.2" height="1.2"/><rect x="163.0" y="362.6" width="1.2" height="1.2"/><rect x="164.9" y="337.4" width="1.2" height="1.2"/><rect x="169.9" y="353.8" width="1.2" height="1.2"/><rect x="153.6" y="360.2" width="1.2" height="1.2"/><rect x="165.4" y="361.6" width="1.2" height="1.2"/><rect x="150.4" y="354.7" width="1.2" height="1.2"/><rect x="172.5" y="295.7" width="1.2" height="1.2"/><rect x="178.5" y="301.4" width="1.2" height="1.2"/><rect x="171.7" y="303.6" width="1.2" height="1.2"/><rect x="168.3" y="332.7" width="1.2" height="1.2"/><rect x="143.2" y="303.1" width="1.2" height="1.2"/><rect x="141.2" y="296.2" width="1.2" height="1.2"/><rect x="178.6" y="300.1" width="1.2" height="1.2"/><rect x="151.5" y="339.3" width="1.2" height="1.2"/><rect x="146.2" y="308.2" width="1.2" height="1.2"/><rect x="142.3" y="309.8" width="1.2" height="1.2"/><rect x="139.6" y="293.2" width="1.2" height="1.2"/><rect x="175.7" y="293.2" width="1.2" height="1.2"/><rect x="155.2" y="355.4" width="1.2" height="1.2"/><rect x="176.5" y="320.9" width="1.2" height="1.2"/><rect x="179.5" y="310.4" width="1.2" height="1.2"/><rect x="137.8" y="274.3" width="1.2" height="1.2"/><rect x="174.1" y="299.3" width="1.2" height="1.2"/><rect x="145.0" y="301.3" width="1.2" height="1.2"/><rect x="172.1" y="298.5" width="1.2" height="1.2"/><rect x="167.3" y="339.7" width="1.2" height="1.2"/><rect x="162.7" y="349.9" width="1.2" height="1.2"/><rect x="156.0" y="364.1" width="1.2" height="1.2"/><rect x="146.6" y="314.3" width="1.2" height="1.2"/><rect x="151.1" y="326.1" width="1.2" height="1.2"/><rect x="168.7" y="327.5" width="1.2" height="1.2"/><rect x="160.5" y="350.1" width="1.2" height="1.2"/><rect x="182.0" y="263.7" width="1.2" height="1.2"/><rect x="155.3" y="361.7" width="1.2" height="1.2"/><rect x="142.5" y="323.3" width="1.2" height="1.2"/><rect x="172.0" y="312.8" width="1.2" height="1.2"/><rect x="150.5" y="324.9" width="1.2" height="1.2"/><rect x="154.3" y="353.5" width="1.2" height="1.2"/><rect x="154.0" y="355.6" width="1.2" height="1.2"/><rect x="134.3" y="294.9" width="1.2" height="1.2"/><rect x="149.2" y="327.0" width="1.2" height="1.2"/><rect x="152.0" y="361.5" width="1.2" height="1.2"/><rect x="141.3" y="339.6" width="1.2" height="1.2"/><rect x="155.1" y="342.0" width="1.2" height="1.2"/><rect x="179.0" y="305.7" width="1.2" height="1.2"/><rect x="173.6" y="324.0" width="1.2" height="1.2"/><rect x="147.1" y="329.9" width="1.2" height="1.2"/><rect x="176.4" y="297.0" width="1.2" height="1.2"/><rect x="172.6" y="327.1" width="1.2" height="1.2"/><rect x="170.6" y="297.4" width="1.2" height="1.2"/><rect x="143.1" y="301.6" width="1.2" height="1.2"/><rect x="162.7" y="346.8" width="1.2" height="1.2"/><rect x="151.9" y="344.9" width="1.2" height="1.2"/><rect x="172.4" y="288.0" width="1.2" height="1.2"/><rect x="148.9" y="325.6" width="1.2" height="1.2"/><rect x="148.4" y="344.0" width="1.2" height="1.2"/><rect x="163.2" y="349.9" width="1.2" height="1.2"/><rect x="147.2" y="309.5" width="1.2" height="1.2"/><rect x="148.7" y="315.6" width="1.2" height="1.2"/><rect x="175.1" y="280.7" width="1.2" height="1.2"/><rect x="171.7" y="299.2" width="1.2" height="1.2"/><rect x="168.6" y="342.4" width="1.2" height="1.2"/><rect x="138.0" y="313.9" width="1.2" height="1.2"/><rect x="149.5" y="359.0" width="1.2" height="1.2"/><rect x="149.6" y="324.0" width="1.2" height="1.2"/><rect x="148.8" y="320.6" width="1.2" height="1.2"/><rect x="171.3" y="294.4" width="1.2" height="1.2"/><rect x="144.6" y="294.8" width="1.2" height="1.2"/><rect x="166.3" y="356.1" width="1.2" height="1.2"/><rect x="155.6" y="362.2" width="1.2" height="1.2"/><rect x="175.8" y="303.0" width="1.2" height="1.2"/><rect x="174.6" y="341.7" width="1.2" height="1.2"/><rect x="163.6" y="358.0" width="1.2" height="1.2"/><rect x="153.8" y="319.1" width="1.2" height="1.2"/><rect x="164.6" y="364.1" width="1.2" height="1.2"/><rect x="165.4" y="320.8" width="1.2" height="1.2"/><rect x="150.3" y="288.7" width="1.2" height="1.2"/><rect x="165.2" y="343.1" width="1.2" height="1.2"/><rect x="136.5" y="292.2" width="1.2" height="1.2"/><rect x="171.7" y="294.3" width="1.2" height="1.2"/><rect x="174.1" y="325.5" width="1.2" height="1.2"/><rect x="150.0" y="299.3" width="1.2" height="1.2"/><rect x="141.8" y="299.1" width="1.2" height="1.2"/><rect x="170.4" y="300.7" width="1.2" height="1.2"/><rect x="170.1" y="311.9" width="1.2" height="1.2"/><rect x="155.7" y="359.5" width="1.2" height="1.2"/><rect x="168.6" y="315.8" width="1.2" height="1.2"/><rect x="168.3" y="334.5" width="1.2" height="1.2"/><rect x="165.0" y="343.5" width="1.2" height="1.2"/><rect x="176.3" y="282.9" width="1.2" height="1.2"/><rect x="164.8" y="313.5" width="1.2" height="1.2"/><rect x="140.7" y="291.0" width="1.2" height="1.2"/><rect x="171.2" y="320.0" width="1.2" height="1.2"/><rect x="138.3" y="274.5" width="1.2" height="1.2"/><rect x="151.1" y="343.1" width="1.2" height="1.2"/><rect x="161.7" y="363.2" width="1.2" height="1.2"/><rect x="168.1" y="345.4" width="1.2" height="1.2"/><rect x="165.8" y="358.3" width="1.2" height="1.2"/><rect x="149.8" y="345.9" width="1.2" height="1.2"/><rect x="140.5" y="272.2" width="1.2" height="1.2"/><rect x="150.8" y="293.3" width="1.2" height="1.2"/><rect x="169.2" y="296.6" width="1.2" height="1.2"/><rect x="174.9" y="338.3" width="1.2" height="1.2"/><rect x="176.4" y="314.6" width="1.2" height="1.2"/><rect x="153.4" y="308.0" width="1.2" height="1.2"/><rect x="146.9" y="329.9" width="1.2" height="1.2"/><rect x="150.5" y="358.3" width="1.2" height="1.2"/><rect x="149.7" y="330.0" width="1.2" height="1.2"/><rect x="167.4" y="356.9" width="1.2" height="1.2"/><rect x="178.4" y="289.6" width="1.2" height="1.2"/><rect x="173.1" y="330.5" width="1.2" height="1.2"/><rect x="154.4" y="354.4" width="1.2" height="1.2"/><rect x="176.4" y="297.1" width="1.2" height="1.2"/><rect x="171.2" y="297.0" width="1.2" height="1.2"/><rect x="163.9" y="344.2" width="1.2" height="1.2"/><rect x="174.9" y="295.2" width="1.2" height="1.2"/><rect x="155.8" y="359.3" width="1.2" height="1.2"/><rect x="182.3" y="279.5" width="1.2" height="1.2"/><rect x="164.5" y="362.6" width="1.2" height="1.2"/><rect x="147.0" y="291.6" width="1.2" height="1.2"/><rect x="138.4" y="301.1" width="1.2" height="1.2"/><rect x="150.5" y="355.9" width="1.2" height="1.2"/><rect x="173.2" y="298.5" width="1.2" height="1.2"/><rect x="150.8" y="295.5" width="1.2" height="1.2"/><rect x="157.7" y="361.8" width="1.2" height="1.2"/><rect x="143.2" y="350.3" width="1.2" height="1.2"/><rect x="167.2" y="322.1" width="1.2" height="1.2"/><rect x="144.0" y="330.2" width="1.2" height="1.2"/><rect x="157.7" y="357.1" width="1.2" height="1.2"/><rect x="148.0" y="309.9" width="1.2" height="1.2"/><rect x="171.6" y="340.5" width="1.2" height="1.2"/><rect x="163.0" y="362.2" width="1.2" height="1.2"/><rect x="173.9" y="307.9" width="1.2" height="1.2"/><rect x="147.3" y="335.8" width="1.2" height="1.2"/><rect x="173.0" y="320.8" width="1.2" height="1.2"/><rect x="173.3" y="333.8" width="1.2" height="1.2"/><rect x="152.4" y="361.1" width="1.2" height="1.2"/><rect x="144.9" y="322.5" width="1.2" height="1.2"/><rect x="143.0" y="293.3" width="1.2" height="1.2"/><rect x="146.2" y="300.5" width="1.2" height="1.2"/><rect x="166.8" y="356.6" width="1.2" height="1.2"/><rect x="165.9" y="357.2" width="1.2" height="1.2"/><rect x="168.1" y="333.6" width="1.2" height="1.2"/><rect x="170.4" y="333.3" width="1.2" height="1.2"/><rect x="149.6" y="339.0" width="1.2" height="1.2"/><rect x="165.1" y="353.3" width="1.2" height="1.2"/><rect x="150.8" y="360.8" width="1.2" height="1.2"/><rect x="136.5" y="320.7" width="1.2" height="1.2"/><rect x="145.2" y="319.3" width="1.2" height="1.2"/><rect x="143.8" y="293.3" width="1.2" height="1.2"/><rect x="166.5" y="333.9" width="1.2" height="1.2"/><rect x="172.6" y="309.2" width="1.2" height="1.2"/><rect x="138.9" y="292.5" width="1.2" height="1.2"/><rect x="152.0" y="358.8" width="1.2" height="1.2"/><rect x="182.8" y="277.1" width="1.2" height="1.2"/><rect x="168.6" y="346.8" width="1.2" height="1.2"/><rect x="143.4" y="316.4" width="1.2" height="1.2"/><rect x="156.8" y="349.8" width="1.2" height="1.2"/><rect x="168.0" y="364.2" width="1.2" height="1.2"/><rect x="167.8" y="357.3" width="1.2" height="1.2"/><rect x="162.3" y="359.4" width="1.2" height="1.2"/><rect x="155.1" y="344.7" width="1.2" height="1.2"/><rect x="183.3" y="285.2" width="1.2" height="1.2"/><rect x="175.0" y="327.3" width="1.2" height="1.2"/><rect x="165.1" y="354.9" width="1.2" height="1.2"/><rect x="148.4" y="345.8" width="1.2" height="1.2"/><rect x="169.7" y="349.8" width="1.2" height="1.2"/><rect x="149.4" y="340.1" width="1.2" height="1.2"/><rect x="170.0" y="312.5" width="1.2" height="1.2"/><rect x="169.1" y="332.8" width="1.2" height="1.2"/><rect x="139.5" y="308.4" width="1.2" height="1.2"/><rect x="151.9" y="344.4" width="1.2" height="1.2"/><rect x="146.0" y="313.8" width="1.2" height="1.2"/><rect x="145.1" y="322.0" width="1.2" height="1.2"/><rect x="170.9" y="318.8" width="1.2" height="1.2"/><rect x="144.6" y="295.9" width="1.2" height="1.2"/><rect x="175.4" y="295.5" width="1.2" height="1.2"/><rect x="143.2" y="310.3" width="1.2" height="1.2"/><rect x="166.9" y="343.6" width="1.2" height="1.2"/><rect x="177.2" y="305.8" width="1.2" height="1.2"/><rect x="164.1" y="339.9" width="1.2" height="1.2"/><rect x="171.7" y="346.2" width="1.2" height="1.2"/><rect x="139.8" y="312.3" width="1.2" height="1.2"/><rect x="140.8" y="301.1" width="1.2" height="1.2"/><rect x="165.5" y="363.7" width="1.2" height="1.2"/><rect x="151.4" y="364.0" width="1.2" height="1.2"/><rect x="152.5" y="324.4" width="1.2" height="1.2"/><rect x="145.0" y="320.4" width="1.2" height="1.2"/><rect x="142.1" y="300.5" width="1.2" height="1.2"/><rect x="148.2" y="328.4" width="1.2" height="1.2"/><rect x="149.2" y="326.2" width="1.2" height="1.2"/><rect x="151.8" y="353.9" width="1.2" height="1.2"/><rect x="149.5" y="284.4" width="1.2" height="1.2"/><rect x="166.0" y="363.0" width="1.2" height="1.2"/><rect x="143.4" y="335.6" width="1.2" height="1.2"/><rect x="168.3" y="342.8" width="1.2" height="1.2"/><rect x="174.5" y="330.4" width="1.2" height="1.2"/><rect x="153.6" y="360.0" width="1.2" height="1.2"/><rect x="143.1" y="273.2" width="1.2" height="1.2"/><rect x="155.5" y="360.5" width="1.2" height="1.2"/><rect x="147.4" y="339.1" width="1.2" height="1.2"/><rect x="174.5" y="294.1" width="1.2" height="1.2"/><rect x="144.6" y="334.6" width="1.2" height="1.2"/><rect x="156.6" y="344.4" width="1.2" height="1.2"/><rect x="148.5" y="329.2" width="1.2" height="1.2"/><rect x="166.2" y="359.5" width="1.2" height="1.2"/><rect x="163.7" y="346.5" width="1.2" height="1.2"/><rect x="149.7" y="296.3" width="1.2" height="1.2"/><rect x="151.3" y="356.9" width="1.2" height="1.2"/><rect x="149.3" y="352.7" width="1.2" height="1.2"/><rect x="168.5" y="307.2" width="1.2" height="1.2"/><rect x="147.6" y="296.0" width="1.2" height="1.2"/><rect x="166.4" y="334.3" width="1.2" height="1.2"/><rect x="147.5" y="318.8" width="1.2" height="1.2"/><rect x="152.3" y="358.3" width="1.2" height="1.2"/><rect x="147.5" y="330.2" width="1.2" height="1.2"/><rect x="150.2" y="325.0" width="1.2" height="1.2"/><rect x="172.5" y="325.0" width="1.2" height="1.2"/><rect x="161.4" y="353.3" width="1.2" height="1.2"/><rect x="169.9" y="344.0" width="1.2" height="1.2"/><rect x="137.5" y="289.5" width="1.2" height="1.2"/><rect x="169.0" y="306.1" width="1.2" height="1.2"/><rect x="157.0" y="332.5" width="1.2" height="1.2"/><rect x="147.9" y="319.3" width="1.2" height="1.2"/><rect x="167.8" y="354.5" width="1.2" height="1.2"/><rect x="152.7" y="361.8" width="1.2" height="1.2"/><rect x="154.9" y="359.1" width="1.2" height="1.2"/><rect x="148.3" y="288.4" width="1.2" height="1.2"/><rect x="168.1" y="310.3" width="1.2" height="1.2"/><rect x="136.8" y="290.0" width="1.2" height="1.2"/><rect x="139.1" y="299.2" width="1.2" height="1.2"/><rect x="169.5" y="318.4" width="1.2" height="1.2"/><rect x="153.2" y="337.4" width="1.2" height="1.2"/><rect x="153.9" y="307.3" width="1.2" height="1.2"/><rect x="151.3" y="341.7" width="1.2" height="1.2"/><rect x="171.5" y="333.3" width="1.2" height="1.2"/><rect x="146.1" y="313.9" width="1.2" height="1.2"/><rect x="143.9" y="345.1" width="1.2" height="1.2"/><rect x="165.7" y="341.0" width="1.2" height="1.2"/><rect x="168.6" y="333.6" width="1.2" height="1.2"/><rect x="167.3" y="316.5" width="1.2" height="1.2"/><rect x="153.2" y="323.5" width="1.2" height="1.2"/><rect x="149.4" y="328.0" width="1.2" height="1.2"/><rect x="156.3" y="351.3" width="1.2" height="1.2"/><rect x="168.7" y="326.2" width="1.2" height="1.2"/><rect x="171.8" y="304.6" width="1.2" height="1.2"/><rect x="167.5" y="308.7" width="1.2" height="1.2"/><rect x="166.6" y="360.2" width="1.2" height="1.2"/><rect x="154.4" y="357.6" width="1.2" height="1.2"/><rect x="158.3" y="355.7" width="1.2" height="1.2"/><rect x="164.7" y="336.0" width="1.2" height="1.2"/><rect x="153.8" y="363.8" width="1.2" height="1.2"/><rect x="165.0" y="363.0" width="1.2" height="1.2"/><rect x="167.4" y="311.6" width="1.2" height="1.2"/><rect x="149.3" y="352.9" width="1.2" height="1.2"/><rect x="152.5" y="361.9" width="1.2" height="1.2"/><rect x="161.4" y="357.4" width="1.2" height="1.2"/><rect x="142.8" y="303.9" width="1.2" height="1.2"/><rect x="154.0" y="361.0" width="1.2" height="1.2"/><rect x="153.5" y="348.3" width="1.2" height="1.2"/><rect x="145.5" y="310.9" width="1.2" height="1.2"/><rect x="149.8" y="346.4" width="1.2" height="1.2"/><rect x="148.4" y="311.6" width="1.2" height="1.2"/><rect x="150.6" y="340.6" width="1.2" height="1.2"/><rect x="174.9" y="347.5" width="1.2" height="1.2"/><rect x="154.3" y="338.8" width="1.2" height="1.2"/><rect x="170.2" y="335.9" width="1.2" height="1.2"/><rect x="174.1" y="321.5" width="1.2" height="1.2"/><rect x="169.8" y="328.3" width="1.2" height="1.2"/><rect x="172.2" y="343.6" width="1.2" height="1.2"/><rect x="177.5" y="277.5" width="1.2" height="1.2"/><rect x="170.6" y="336.3" width="1.2" height="1.2"/><rect x="167.5" y="354.4" width="1.2" height="1.2"/><rect x="174.6" y="321.7" width="1.2" height="1.2"/><rect x="152.1" y="345.8" width="1.2" height="1.2"/><rect x="152.9" y="349.2" width="1.2" height="1.2"/><rect x="163.0" y="359.4" width="1.2" height="1.2"/><rect x="179.9" y="298.2" width="1.2" height="1.2"/><rect x="151.8" y="341.8" width="1.2" height="1.2"/><rect x="151.5" y="359.1" width="1.2" height="1.2"/><rect x="167.7" y="338.9" width="1.2" height="1.2"/><rect x="147.1" y="289.6" width="1.2" height="1.2"/><rect x="171.5" y="313.7" width="1.2" height="1.2"/><rect x="146.3" y="303.6" width="1.2" height="1.2"/><rect x="145.8" y="313.1" width="1.2" height="1.2"/><rect x="145.8" y="298.0" width="1.2" height="1.2"/><rect x="168.7" y="329.4" width="1.2" height="1.2"/><rect x="142.0" y="297.4" width="1.2" height="1.2"/><rect x="178.6" y="299.2" width="1.2" height="1.2"/><rect x="150.3" y="317.0" width="1.2" height="1.2"/><rect x="154.8" y="363.8" width="1.2" height="1.2"/><rect x="155.5" y="361.1" width="1.2" height="1.2"/><rect x="146.7" y="308.2" width="1.2" height="1.2"/><rect x="153.0" y="352.1" width="1.2" height="1.2"/><rect x="173.2" y="297.4" width="1.2" height="1.2"/><rect x="145.8" y="304.5" width="1.2" height="1.2"/><rect x="172.2" y="316.6" width="1.2" height="1.2"/><rect x="151.1" y="355.4" width="1.2" height="1.2"/><rect x="167.7" y="350.0" width="1.2" height="1.2"/><rect x="169.7" y="309.9" width="1.2" height="1.2"/><rect x="149.6" y="333.8" width="1.2" height="1.2"/><rect x="170.2" y="340.5" width="1.2" height="1.2"/><rect x="172.9" y="293.4" width="1.2" height="1.2"/><rect x="170.6" y="308.7" width="1.2" height="1.2"/><rect x="170.9" y="309.1" width="1.2" height="1.2"/><rect x="174.4" y="304.5" width="1.2" height="1.2"/><rect x="171.0" y="336.9" width="1.2" height="1.2"/><rect x="174.0" y="321.5" width="1.2" height="1.2"/><rect x="166.5" y="362.8" width="1.2" height="1.2"/><rect x="144.3" y="286.7" width="1.2" height="1.2"/><rect x="144.3" y="315.0" width="1.2" height="1.2"/><rect x="163.6" y="355.4" width="1.2" height="1.2"/><rect x="163.8" y="291.0" width="1.2" height="1.2"/><rect x="152.4" y="352.2" width="1.2" height="1.2"/><rect x="167.5" y="303.2" width="1.2" height="1.2"/><rect x="148.5" y="335.9" width="1.2" height="1.2"/><rect x="176.2" y="306.2" width="1.2" height="1.2"/><rect x="163.8" y="357.2" width="1.2" height="1.2"/><rect x="152.6" y="357.3" width="1.2" height="1.2"/><rect x="169.5" y="305.9" width="1.2" height="1.2"/><rect x="157.1" y="341.8" width="1.2" height="1.2"/><rect x="158.3" y="342.9" width="1.2" height="1.2"/><rect x="143.9" y="296.0" width="1.2" height="1.2"/><rect x="157.8" y="363.6" width="1.2" height="1.2"/><rect x="169.7" y="351.8" width="1.2" height="1.2"/><rect x="146.5" y="266.5" width="1.2" height="1.2"/><rect x="178.7" y="305.9" width="1.2" height="1.2"/><rect x="170.2" y="330.3" width="1.2" height="1.2"/><rect x="168.9" y="331.1" width="1.2" height="1.2"/><rect x="152.4" y="328.5" width="1.2" height="1.2"/><rect x="175.9" y="326.4" width="1.2" height="1.2"/><rect x="170.8" y="298.9" width="1.2" height="1.2"/><rect x="149.3" y="346.1" width="1.2" height="1.2"/><rect x="165.9" y="298.1" width="1.2" height="1.2"/><rect x="168.6" y="336.9" width="1.2" height="1.2"/><rect x="142.3" y="309.2" width="1.2" height="1.2"/><rect x="145.7" y="302.0" width="1.2" height="1.2"/><rect x="145.0" y="297.0" width="1.2" height="1.2"/><rect x="170.7" y="310.5" width="1.2" height="1.2"/><rect x="163.7" y="361.4" width="1.2" height="1.2"/><rect x="142.0" y="335.5" width="1.2" height="1.2"/><rect x="150.7" y="311.7" width="1.2" height="1.2"/><rect x="163.1" y="348.0" width="1.2" height="1.2"/><rect x="167.2" y="346.8" width="1.2" height="1.2"/><rect x="177.7" y="295.3" width="1.2" height="1.2"/><rect x="149.8" y="362.3" width="1.2" height="1.2"/><rect x="178.5" y="285.5" width="1.2" height="1.2"/><rect x="163.4" y="342.6" width="1.2" height="1.2"/><rect x="151.7" y="361.9" width="1.2" height="1.2"/><rect x="153.2" y="360.1" width="1.2" height="1.2"/><rect x="173.7" y="326.5" width="1.2" height="1.2"/><rect x="176.0" y="285.3" width="1.2" height="1.2"/><rect x="165.4" y="349.9" width="1.2" height="1.2"/><rect x="173.6" y="301.8" width="1.2" height="1.2"/><rect x="151.0" y="313.2" width="1.2" height="1.2"/><rect x="173.6" y="330.8" width="1.2" height="1.2"/><rect x="172.7" y="293.2" width="1.2" height="1.2"/><rect x="147.5" y="330.1" width="1.2" height="1.2"/><rect x="160.8" y="323.6" width="1.2" height="1.2"/><rect x="177.4" y="297.2" width="1.2" height="1.2"/><rect x="172.5" y="310.8" width="1.2" height="1.2"/><rect x="145.9" y="309.9" width="1.2" height="1.2"/><rect x="152.8" y="331.9" width="1.2" height="1.2"/><rect x="176.0" y="327.4" width="1.2" height="1.2"/><rect x="167.2" y="332.9" width="1.2" height="1.2"/><rect x="147.7" y="309.7" width="1.2" height="1.2"/><rect x="179.4" y="281.6" width="1.2" height="1.2"/><rect x="147.4" y="298.0" width="1.2" height="1.2"/><rect x="149.9" y="298.9" width="1.2" height="1.2"/><rect x="154.9" y="357.2" width="1.2" height="1.2"/><rect x="166.9" y="359.1" width="1.2" height="1.2"/><rect x="167.5" y="357.9" width="1.2" height="1.2"/><rect x="140.6" y="273.1" width="1.2" height="1.2"/><rect x="142.8" y="307.7" width="1.2" height="1.2"/><rect x="141.4" y="312.2" width="1.2" height="1.2"/><rect x="167.6" y="307.1" width="1.2" height="1.2"/><rect x="168.1" y="319.7" width="1.2" height="1.2"/><rect x="175.2" y="304.9" width="1.2" height="1.2"/><rect x="163.9" y="359.1" width="1.2" height="1.2"/><rect x="169.3" y="347.9" width="1.2" height="1.2"/><rect x="174.3" y="308.7" width="1.2" height="1.2"/><rect x="153.0" y="345.0" width="1.2" height="1.2"/><rect x="152.9" y="360.6" width="1.2" height="1.2"/><rect x="162.4" y="351.8" width="1.2" height="1.2"/><rect x="149.8" y="363.3" width="1.2" height="1.2"/><rect x="144.4" y="310.9" width="1.2" height="1.2"/><rect x="160.8" y="358.8" width="1.2" height="1.2"/><rect x="151.9" y="349.5" width="1.2" height="1.2"/><rect x="142.2" y="304.5" width="1.2" height="1.2"/><rect x="175.3" y="342.9" width="1.2" height="1.2"/><rect x="140.6" y="304.6" width="1.2" height="1.2"/><rect x="149.4" y="360.1" width="1.2" height="1.2"/><rect x="142.8" y="293.3" width="1.2" height="1.2"/><rect x="147.9" y="306.6" width="1.2" height="1.2"/><rect x="144.2" y="315.0" width="1.2" height="1.2"/><rect x="163.8" y="347.8" width="1.2" height="1.2"/><rect x="143.8" y="300.3" width="1.2" height="1.2"/><rect x="181.1" y="259.2" width="1.2" height="1.2"/><rect x="134.8" y="279.2" width="1.2" height="1.2"/><rect x="140.1" y="269.3" width="1.2" height="1.2"/><rect x="174.1" y="307.5" width="1.2" height="1.2"/><rect x="157.3" y="354.9" width="1.2" height="1.2"/><rect x="166.8" y="360.8" width="1.2" height="1.2"/><rect x="148.3" y="328.2" width="1.2" height="1.2"/><rect x="172.7" y="289.4" width="1.2" height="1.2"/><rect x="145.9" y="332.7" width="1.2" height="1.2"/><rect x="165.3" y="344.9" width="1.2" height="1.2"/><rect x="139.8" y="297.9" width="1.2" height="1.2"/><rect x="149.3" y="347.3" width="1.2" height="1.2"/><rect x="140.8" y="294.4" width="1.2" height="1.2"/><rect x="150.5" y="345.2" width="1.2" height="1.2"/><rect x="166.7" y="352.4" width="1.2" height="1.2"/><rect x="161.9" y="362.9" width="1.2" height="1.2"/><rect x="141.1" y="319.2" width="1.2" height="1.2"/><rect x="168.8" y="361.8" width="1.2" height="1.2"/><rect x="169.0" y="353.2" width="1.2" height="1.2"/><rect x="149.2" y="324.3" width="1.2" height="1.2"/><rect x="153.3" y="352.6" width="1.2" height="1.2"/><rect x="173.5" y="317.0" width="1.2" height="1.2"/><rect x="146.3" y="326.7" width="1.2" height="1.2"/><rect x="171.5" y="294.8" width="1.2" height="1.2"/><rect x="173.1" y="323.3" width="1.2" height="1.2"/><rect x="155.9" y="363.9" width="1.2" height="1.2"/><rect x="145.3" y="311.4" width="1.2" height="1.2"/><rect x="148.9" y="348.4" width="1.2" height="1.2"/><rect x="165.8" y="313.3" width="1.2" height="1.2"/><rect x="171.7" y="293.7" width="1.2" height="1.2"/><rect x="151.9" y="363.4" width="1.2" height="1.2"/><rect x="165.2" y="354.2" width="1.2" height="1.2"/><rect x="170.8" y="313.7" width="1.2" height="1.2"/><rect x="168.6" y="336.2" width="1.2" height="1.2"/><rect x="147.9" y="321.1" width="1.2" height="1.2"/><rect x="142.2" y="320.8" width="1.2" height="1.2"/><rect x="148.0" y="326.5" width="1.2" height="1.2"/><rect x="152.2" y="360.4" width="1.2" height="1.2"/><rect x="151.4" y="328.1" width="1.2" height="1.2"/><rect x="157.2" y="357.7" width="1.2" height="1.2"/><rect x="148.4" y="332.9" width="1.2" height="1.2"/><rect x="179.3" y="314.2" width="1.2" height="1.2"/><rect x="175.1" y="351.3" width="1.2" height="1.2"/><rect x="148.8" y="346.9" width="1.2" height="1.2"/><rect x="151.2" y="301.5" width="1.2" height="1.2"/><rect x="145.3" y="301.4" width="1.2" height="1.2"/><rect x="152.8" y="359.4" width="1.2" height="1.2"/><rect x="150.0" y="328.1" width="1.2" height="1.2"/><rect x="150.2" y="332.1" width="1.2" height="1.2"/><rect x="141.0" y="274.5" width="1.2" height="1.2"/><rect x="150.3" y="358.4" width="1.2" height="1.2"/><rect x="169.9" y="360.3" width="1.2" height="1.2"/><rect x="150.1" y="352.3" width="1.2" height="1.2"/><rect x="161.8" y="344.9" width="1.2" height="1.2"/><rect x="150.6" y="339.6" width="1.2" height="1.2"/><rect x="174.1" y="317.4" width="1.2" height="1.2"/><rect x="150.0" y="331.9" width="1.2" height="1.2"/><rect x="150.2" y="360.4" width="1.2" height="1.2"/><rect x="141.0" y="312.9" width="1.2" height="1.2"/><rect x="145.7" y="291.2" width="1.2" height="1.2"/><rect x="176.4" y="295.5" width="1.2" height="1.2"/><rect x="180.2" y="292.8" width="1.2" height="1.2"/><rect x="174.8" y="326.3" width="1.2" height="1.2"/><rect x="144.2" y="277.4" width="1.2" height="1.2"/><rect x="165.8" y="319.6" width="1.2" height="1.2"/><rect x="136.7" y="285.5" width="1.2" height="1.2"/><rect x="156.3" y="348.2" width="1.2" height="1.2"/><rect x="175.1" y="334.9" width="1.2" height="1.2"/><rect x="178.1" y="294.8" width="1.2" height="1.2"/><rect x="179.8" y="278.1" width="1.2" height="1.2"/><rect x="167.0" y="363.8" width="1.2" height="1.2"/><rect x="164.7" y="349.9" width="1.2" height="1.2"/><rect x="144.9" y="298.9" width="1.2" height="1.2"/><rect x="141.3" y="298.8" width="1.2" height="1.2"/><rect x="145.8" y="321.2" width="1.2" height="1.2"/><rect x="147.1" y="295.3" width="1.2" height="1.2"/><rect x="151.1" y="299.2" width="1.2" height="1.2"/><rect x="168.6" y="362.9" width="1.2" height="1.2"/><rect x="171.5" y="334.7" width="1.2" height="1.2"/><rect x="176.8" y="303.4" width="1.2" height="1.2"/><rect x="148.9" y="352.2" width="1.2" height="1.2"/><rect x="170.3" y="333.2" width="1.2" height="1.2"/><rect x="144.5" y="298.9" width="1.2" height="1.2"/><rect x="153.1" y="359.0" width="1.2" height="1.2"/><rect x="173.8" y="303.2" width="1.2" height="1.2"/><rect x="170.0" y="313.5" width="1.2" height="1.2"/><rect x="154.0" y="326.7" width="1.2" height="1.2"/><rect x="170.2" y="345.3" width="1.2" height="1.2"/><rect x="161.7" y="354.0" width="1.2" height="1.2"/><rect x="142.6" y="314.6" width="1.2" height="1.2"/><rect x="138.8" y="299.5" width="1.2" height="1.2"/><rect x="163.7" y="327.2" width="1.2" height="1.2"/><rect x="168.3" y="339.6" width="1.2" height="1.2"/><rect x="146.5" y="329.4" width="1.2" height="1.2"/><rect x="146.0" y="295.0" width="1.2" height="1.2"/><rect x="143.5" y="316.5" width="1.2" height="1.2"/><rect x="168.0" y="352.2" width="1.2" height="1.2"/><rect x="142.7" y="297.9" width="1.2" height="1.2"/><rect x="148.4" y="302.0" width="1.2" height="1.2"/><rect x="164.2" y="351.3" width="1.2" height="1.2"/><rect x="148.2" y="352.6" width="1.2" height="1.2"/><rect x="176.8" y="305.0" width="1.2" height="1.2"/><rect x="171.7" y="337.1" width="1.2" height="1.2"/><rect x="152.7" y="315.7" width="1.2" height="1.2"/><rect x="176.3" y="302.1" width="1.2" height="1.2"/><rect x="162.7" y="360.2" width="1.2" height="1.2"/><rect x="142.3" y="290.8" width="1.2" height="1.2"/><rect x="146.8" y="328.5" width="1.2" height="1.2"/><rect x="147.9" y="308.8" width="1.2" height="1.2"/><rect x="143.3" y="276.6" width="1.2" height="1.2"/><rect x="166.9" y="340.7" width="1.2" height="1.2"/><rect x="169.0" y="345.4" width="1.2" height="1.2"/><rect x="167.2" y="347.9" width="1.2" height="1.2"/><rect x="175.4" y="287.5" width="1.2" height="1.2"/><rect x="173.7" y="311.5" width="1.2" height="1.2"/><rect x="143.5" y="289.3" width="1.2" height="1.2"/><rect x="153.6" y="346.2" width="1.2" height="1.2"/><rect x="147.1" y="341.2" width="1.2" height="1.2"/><rect x="166.8" y="297.0" width="1.2" height="1.2"/><rect x="135.8" y="283.5" width="1.2" height="1.2"/><rect x="152.9" y="358.4" width="1.2" height="1.2"/><rect x="166.8" y="318.4" width="1.2" height="1.2"/><rect x="152.6" y="345.9" width="1.2" height="1.2"/><rect x="163.8" y="364.2" width="1.2" height="1.2"/><rect x="150.1" y="354.0" width="1.2" height="1.2"/><rect x="167.1" y="346.5" width="1.2" height="1.2"/><rect x="148.8" y="310.8" width="1.2" height="1.2"/><rect x="172.4" y="302.7" width="1.2" height="1.2"/><rect x="150.9" y="351.1" width="1.2" height="1.2"/><rect x="167.3" y="327.5" width="1.2" height="1.2"/><rect x="168.4" y="345.5" width="1.2" height="1.2"/><rect x="150.9" y="298.3" width="1.2" height="1.2"/><rect x="153.7" y="344.5" width="1.2" height="1.2"/><rect x="143.6" y="309.5" width="1.2" height="1.2"/><rect x="170.3" y="319.8" width="1.2" height="1.2"/><rect x="146.8" y="287.2" width="1.2" height="1.2"/><rect x="151.7" y="338.8" width="1.2" height="1.2"/><rect x="162.9" y="356.7" width="1.2" height="1.2"/><rect x="140.7" y="303.6" width="1.2" height="1.2"/><rect x="149.6" y="352.1" width="1.2" height="1.2"/><rect x="173.2" y="301.9" width="1.2" height="1.2"/><rect x="148.4" y="307.3" width="1.2" height="1.2"/><rect x="146.3" y="311.5" width="1.2" height="1.2"/><rect x="144.3" y="305.6" width="1.2" height="1.2"/><rect x="166.2" y="340.8" width="1.2" height="1.2"/><rect x="153.2" y="347.0" width="1.2" height="1.2"/><rect x="152.6" y="342.5" width="1.2" height="1.2"/><rect x="168.3" y="341.2" width="1.2" height="1.2"/><rect x="148.3" y="293.1" width="1.2" height="1.2"/><rect x="166.0" y="311.0" width="1.2" height="1.2"/><rect x="172.5" y="351.2" width="1.2" height="1.2"/><rect x="153.4" y="331.2" width="1.2" height="1.2"/><rect x="147.9" y="310.3" width="1.2" height="1.2"/><rect x="138.9" y="313.2" width="1.2" height="1.2"/><rect x="171.2" y="345.4" width="1.2" height="1.2"/><rect x="157.2" y="345.6" width="1.2" height="1.2"/><rect x="148.9" y="314.5" width="1.2" height="1.2"/><rect x="170.8" y="304.7" width="1.2" height="1.2"/><rect x="166.3" y="344.1" width="1.2" height="1.2"/><rect x="170.3" y="361.0" width="1.2" height="1.2"/><rect x="141.0" y="271.7" width="1.2" height="1.2"/><rect x="165.3" y="331.1" width="1.2" height="1.2"/><rect x="143.8" y="288.8" width="1.2" height="1.2"/><rect x="173.7" y="309.4" width="1.2" height="1.2"/><rect x="174.4" y="297.3" width="1.2" height="1.2"/><rect x="149.0" y="357.4" width="1.2" height="1.2"/><rect x="143.0" y="301.3" width="1.2" height="1.2"/><rect x="167.0" y="335.7" width="1.2" height="1.2"/><rect x="176.0" y="348.0" width="1.2" height="1.2"/><rect x="167.4" y="310.1" width="1.2" height="1.2"/><rect x="175.3" y="329.3" width="1.2" height="1.2"/><rect x="182.2" y="296.0" width="1.2" height="1.2"/><rect x="173.3" y="305.7" width="1.2" height="1.2"/><rect x="148.4" y="317.2" width="1.2" height="1.2"/><rect x="162.4" y="362.8" width="1.2" height="1.2"/><rect x="147.5" y="328.7" width="1.2" height="1.2"/><rect x="146.7" y="300.6" width="1.2" height="1.2"/><rect x="166.5" y="338.2" width="1.2" height="1.2"/><rect x="146.4" y="279.5" width="1.2" height="1.2"/><rect x="164.1" y="359.0" width="1.2" height="1.2"/><rect x="157.5" y="339.8" width="1.2" height="1.2"/><rect x="165.6" y="353.3" width="1.2" height="1.2"/><rect x="152.0" y="362.3" width="1.2" height="1.2"/><rect x="169.4" y="326.6" width="1.2" height="1.2"/><rect x="146.2" y="319.2" width="1.2" height="1.2"/><rect x="151.4" y="363.0" width="1.2" height="1.2"/><rect x="156.5" y="355.5" width="1.2" height="1.2"/><rect x="162.9" y="335.0" width="1.2" height="1.2"/><rect x="148.3" y="315.2" width="1.2" height="1.2"/><rect x="151.2" y="345.0" width="1.2" height="1.2"/><rect x="168.7" y="306.2" width="1.2" height="1.2"/><rect x="158.1" y="356.1" width="1.2" height="1.2"/><rect x="176.9" y="307.8" width="1.2" height="1.2"/><rect x="176.6" y="291.9" width="1.2" height="1.2"/><rect x="134.4" y="296.6" width="1.2" height="1.2"/><rect x="141.6" y="297.3" width="1.2" height="1.2"/><rect x="143.7" y="344.2" width="1.2" height="1.2"/><rect x="162.3" y="351.1" width="1.2" height="1.2"/><rect x="170.6" y="340.3" width="1.2" height="1.2"/><rect x="151.9" y="352.4" width="1.2" height="1.2"/><rect x="165.9" y="360.5" width="1.2" height="1.2"/><rect x="164.9" y="357.9" width="1.2" height="1.2"/><rect x="139.2" y="294.1" width="1.2" height="1.2"/><rect x="174.4" y="282.1" width="1.2" height="1.2"/><rect x="142.4" y="294.2" width="1.2" height="1.2"/><rect x="164.1" y="329.6" width="1.2" height="1.2"/><rect x="177.6" y="304.9" width="1.2" height="1.2"/><rect x="174.6" y="299.4" width="1.2" height="1.2"/><rect x="147.4" y="340.6" width="1.2" height="1.2"/><rect x="144.7" y="317.2" width="1.2" height="1.2"/><rect x="150.4" y="309.3" width="1.2" height="1.2"/><rect x="140.5" y="313.8" width="1.2" height="1.2"/><rect x="162.8" y="363.8" width="1.2" height="1.2"/><rect x="175.0" y="294.7" width="1.2" height="1.2"/><rect x="167.1" y="353.3" width="1.2" height="1.2"/><rect x="145.8" y="293.3" width="1.2" height="1.2"/><rect x="149.8" y="341.3" width="1.2" height="1.2"/><rect x="162.8" y="360.1" width="1.2" height="1.2"/><rect x="178.7" y="299.8" width="1.2" height="1.2"/><rect x="167.9" y="358.7" width="1.2" height="1.2"/><rect x="163.0" y="336.1" width="1.2" height="1.2"/><rect x="166.4" y="355.5" width="1.2" height="1.2"/><rect x="149.0" y="301.7" width="1.2" height="1.2"/><rect x="147.8" y="323.9" width="1.2" height="1.2"/><rect x="174.7" y="319.1" width="1.2" height="1.2"/><rect x="170.6" y="322.2" width="1.2" height="1.2"/><rect x="168.6" y="345.2" width="1.2" height="1.2"/><rect x="146.3" y="314.6" width="1.2" height="1.2"/><rect x="173.8" y="299.1" width="1.2" height="1.2"/><rect x="154.9" y="339.1" width="1.2" height="1.2"/><rect x="173.8" y="305.2" width="1.2" height="1.2"/><rect x="145.7" y="285.8" width="1.2" height="1.2"/><rect x="174.9" y="311.7" width="1.2" height="1.2"/><rect x="149.7" y="334.0" width="1.2" height="1.2"/><rect x="148.8" y="325.6" width="1.2" height="1.2"/><rect x="167.5" y="332.3" width="1.2" height="1.2"/><rect x="150.1" y="293.3" width="1.2" height="1.2"/><rect x="162.5" y="358.0" width="1.2" height="1.2"/><rect x="145.2" y="320.5" width="1.2" height="1.2"/><rect x="141.6" y="289.5" width="1.2" height="1.2"/><rect x="154.0" y="361.8" width="1.2" height="1.2"/><rect x="173.7" y="298.9" width="1.2" height="1.2"/><rect x="149.0" y="316.2" width="1.2" height="1.2"/><rect x="142.6" y="307.5" width="1.2" height="1.2"/><rect x="166.7" y="346.6" width="1.2" height="1.2"/><rect x="143.3" y="276.2" width="1.2" height="1.2"/><rect x="176.0" y="293.7" width="1.2" height="1.2"/><rect x="163.4" y="314.1" width="1.2" height="1.2"/><rect x="152.8" y="345.5" width="1.2" height="1.2"/><rect x="142.7" y="292.7" width="1.2" height="1.2"/><rect x="149.7" y="332.6" width="1.2" height="1.2"/><rect x="143.7" y="318.1" width="1.2" height="1.2"/><rect x="172.6" y="305.8" width="1.2" height="1.2"/><rect x="150.6" y="361.3" width="1.2" height="1.2"/><rect x="157.7" y="359.0" width="1.2" height="1.2"/><rect x="167.2" y="354.3" width="1.2" height="1.2"/><rect x="170.9" y="324.8" width="1.2" height="1.2"/><rect x="156.8" y="357.6" width="1.2" height="1.2"/><rect x="175.4" y="298.5" width="1.2" height="1.2"/><rect x="154.4" y="348.2" width="1.2" height="1.2"/><rect x="169.1" y="300.5" width="1.2" height="1.2"/><rect x="165.0" y="343.8" width="1.2" height="1.2"/><rect x="141.7" y="297.3" width="1.2" height="1.2"/><rect x="148.1" y="321.7" width="1.2" height="1.2"/><rect x="152.9" y="351.0" width="1.2" height="1.2"/><rect x="154.4" y="364.2" width="1.2" height="1.2"/><rect x="154.0" y="344.3" width="1.2" height="1.2"/><rect x="144.8" y="306.8" width="1.2" height="1.2"/><rect x="139.9" y="301.3" width="1.2" height="1.2"/><rect x="146.8" y="308.3" width="1.2" height="1.2"/><rect x="152.9" y="359.3" width="1.2" height="1.2"/><rect x="143.8" y="320.5" width="1.2" height="1.2"/><rect x="151.8" y="363.8" width="1.2" height="1.2"/><rect x="179.3" y="300.9" width="1.2" height="1.2"/><rect x="155.0" y="354.6" width="1.2" height="1.2"/><rect x="166.4" y="307.2" width="1.2" height="1.2"/><rect x="153.2" y="320.5" width="1.2" height="1.2"/><rect x="154.4" y="360.2" width="1.2" height="1.2"/><rect x="145.6" y="323.2" width="1.2" height="1.2"/><rect x="173.1" y="305.4" width="1.2" height="1.2"/><rect x="164.4" y="352.1" width="1.2" height="1.2"/><rect x="155.4" y="344.9" width="1.2" height="1.2"/><rect x="144.9" y="327.0" width="1.2" height="1.2"/><rect x="161.7" y="360.5" width="1.2" height="1.2"/><rect x="151.1" y="352.2" width="1.2" height="1.2"/><rect x="170.7" y="345.6" width="1.2" height="1.2"/><rect x="143.9" y="306.6" width="1.2" height="1.2"/><rect x="168.2" y="331.1" width="1.2" height="1.2"/><rect x="177.3" y="277.5" width="1.2" height="1.2"/><rect x="164.3" y="352.7" width="1.2" height="1.2"/><rect x="167.4" y="317.5" width="1.2" height="1.2"/><rect x="175.0" y="293.4" width="1.2" height="1.2"/><rect x="164.3" y="350.7" width="1.2" height="1.2"/><rect x="163.6" y="344.4" width="1.2" height="1.2"/><rect x="148.6" y="331.6" width="1.2" height="1.2"/><rect x="154.4" y="356.3" width="1.2" height="1.2"/><rect x="146.0" y="334.1" width="1.2" height="1.2"/><rect x="148.2" y="329.5" width="1.2" height="1.2"/><rect x="164.7" y="344.8" width="1.2" height="1.2"/><rect x="158.4" y="364.1" width="1.2" height="1.2"/><rect x="148.2" y="343.6" width="1.2" height="1.2"/><rect x="171.8" y="328.3" width="1.2" height="1.2"/><rect x="171.5" y="326.8" width="1.2" height="1.2"/><rect x="137.1" y="287.0" width="1.2" height="1.2"/><rect x="150.1" y="343.3" width="1.2" height="1.2"/><rect x="171.8" y="299.8" width="1.2" height="1.2"/><rect x="168.7" y="350.2" width="1.2" height="1.2"/><rect x="144.3" y="291.4" width="1.2" height="1.2"/><rect x="169.1" y="340.4" width="1.2" height="1.2"/><rect x="167.8" y="302.2" width="1.2" height="1.2"/><rect x="153.2" y="336.2" width="1.2" height="1.2"/><rect x="147.0" y="334.3" width="1.2" height="1.2"/><rect x="138.0" y="303.6" width="1.2" height="1.2"/><rect x="146.7" y="336.4" width="1.2" height="1.2"/><rect x="143.2" y="299.4" width="1.2" height="1.2"/><rect x="170.0" y="296.6" width="1.2" height="1.2"/><rect x="174.7" y="303.8" width="1.2" height="1.2"/><rect x="150.9" y="327.7" width="1.2" height="1.2"/><rect x="152.9" y="358.1" width="1.2" height="1.2"/><rect x="139.2" y="297.9" width="1.2" height="1.2"/><rect x="177.5" y="285.3" width="1.2" height="1.2"/><rect x="148.1" y="314.7" width="1.2" height="1.2"/><rect x="146.2" y="294.7" width="1.2" height="1.2"/><rect x="146.8" y="332.8" width="1.2" height="1.2"/><rect x="167.1" y="349.7" width="1.2" height="1.2"/><rect x="171.7" y="314.1" width="1.2" height="1.2"/><rect x="150.5" y="294.1" width="1.2" height="1.2"/><rect x="156.3" y="360.9" width="1.2" height="1.2"/><rect x="173.0" y="316.9" width="1.2" height="1.2"/><rect x="153.1" y="331.1" width="1.2" height="1.2"/><rect x="148.0" y="307.4" width="1.2" height="1.2"/><rect x="167.0" y="359.9" width="1.2" height="1.2"/><rect x="181.7" y="295.5" width="1.2" height="1.2"/><rect x="144.7" y="313.2" width="1.2" height="1.2"/><rect x="141.8" y="293.1" width="1.2" height="1.2"/><rect x="143.0" y="325.5" width="1.2" height="1.2"/><rect x="138.1" y="294.9" width="1.2" height="1.2"/><rect x="149.7" y="304.2" width="1.2" height="1.2"/><rect x="174.3" y="325.7" width="1.2" height="1.2"/><rect x="148.7" y="325.3" width="1.2" height="1.2"/><rect x="143.2" y="322.1" width="1.2" height="1.2"/><rect x="153.8" y="351.5" width="1.2" height="1.2"/><rect x="138.4" y="280.5" width="1.2" height="1.2"/><rect x="166.1" y="343.6" width="1.2" height="1.2"/><rect x="141.5" y="293.6" width="1.2" height="1.2"/><rect x="166.8" y="336.1" width="1.2" height="1.2"/><rect x="167.0" y="333.5" width="1.2" height="1.2"/><rect x="174.9" y="324.0" width="1.2" height="1.2"/><rect x="146.9" y="333.3" width="1.2" height="1.2"/><rect x="166.8" y="344.6" width="1.2" height="1.2"/><rect x="146.8" y="301.2" width="1.2" height="1.2"/><rect x="153.7" y="363.5" width="1.2" height="1.2"/><rect x="161.9" y="345.8" width="1.2" height="1.2"/><rect x="147.8" y="311.1" width="1.2" height="1.2"/><rect x="165.5" y="360.1" width="1.2" height="1.2"/><rect x="151.5" y="328.5" width="1.2" height="1.2"/><rect x="169.5" y="299.7" width="1.2" height="1.2"/><rect x="144.6" y="298.1" width="1.2" height="1.2"/><rect x="153.0" y="344.7" width="1.2" height="1.2"/><rect x="148.7" y="299.0" width="1.2" height="1.2"/><rect x="163.5" y="363.3" width="1.2" height="1.2"/><rect x="161.2" y="363.1" width="1.2" height="1.2"/><rect x="150.1" y="326.2" width="1.2" height="1.2"/><rect x="165.9" y="356.7" width="1.2" height="1.2"/><rect x="172.1" y="284.5" width="1.2" height="1.2"/><rect x="169.7" y="336.8" width="1.2" height="1.2"/><rect x="143.8" y="317.9" width="1.2" height="1.2"/><rect x="153.8" y="329.7" width="1.2" height="1.2"/><rect x="168.2" y="328.2" width="1.2" height="1.2"/><rect x="152.7" y="357.6" width="1.2" height="1.2"/><rect x="173.9" y="300.9" width="1.2" height="1.2"/><rect x="164.9" y="304.1" width="1.2" height="1.2"/><rect x="144.7" y="318.0" width="1.2" height="1.2"/><rect x="136.6" y="266.6" width="1.2" height="1.2"/><rect x="146.5" y="321.4" width="1.2" height="1.2"/><rect x="142.9" y="317.1" width="1.2" height="1.2"/><rect x="149.0" y="335.3" width="1.2" height="1.2"/><rect x="142.4" y="294.6" width="1.2" height="1.2"/><rect x="156.1" y="335.1" width="1.2" height="1.2"/><rect x="163.6" y="362.6" width="1.2" height="1.2"/><rect x="144.4" y="332.4" width="1.2" height="1.2"/><rect x="151.7" y="358.7" width="1.2" height="1.2"/><rect x="178.0" y="317.5" width="1.2" height="1.2"/><rect x="152.3" y="330.1" width="1.2" height="1.2"/><rect x="148.1" y="297.5" width="1.2" height="1.2"/><rect x="149.2" y="349.4" width="1.2" height="1.2"/><rect x="169.9" y="326.0" width="1.2" height="1.2"/><rect x="168.9" y="313.6" width="1.2" height="1.2"/><rect x="166.9" y="340.7" width="1.2" height="1.2"/><rect x="169.9" y="334.8" width="1.2" height="1.2"/><rect x="162.3" y="361.7" width="1.2" height="1.2"/><rect x="170.8" y="351.0" width="1.2" height="1.2"/><rect x="166.0" y="333.0" width="1.2" height="1.2"/><rect x="147.5" y="361.5" width="1.2" height="1.2"/><rect x="166.5" y="349.9" width="1.2" height="1.2"/><rect x="173.8" y="306.1" width="1.2" height="1.2"/><rect x="166.6" y="342.2" width="1.2" height="1.2"/><rect x="154.5" y="332.0" width="1.2" height="1.2"/><rect x="140.2" y="311.8" width="1.2" height="1.2"/><rect x="169.9" y="361.5" width="1.2" height="1.2"/><rect x="146.8" y="294.9" width="1.2" height="1.2"/><rect x="150.2" y="362.1" width="1.2" height="1.2"/><rect x="141.0" y="295.3" width="1.2" height="1.2"/><rect x="173.3" y="297.2" width="1.2" height="1.2"/><rect x="165.8" y="324.1" width="1.2" height="1.2"/><rect x="163.8" y="345.7" width="1.2" height="1.2"/><rect x="181.3" y="293.0" width="1.2" height="1.2"/><rect x="149.1" y="305.3" width="1.2" height="1.2"/><rect x="152.1" y="335.7" width="1.2" height="1.2"/><rect x="150.7" y="333.6" width="1.2" height="1.2"/><rect x="146.3" y="283.5" width="1.2" height="1.2"/><rect x="157.6" y="357.8" width="1.2" height="1.2"/><rect x="142.7" y="313.7" width="1.2" height="1.2"/><rect x="153.7" y="349.6" width="1.2" height="1.2"/><rect x="163.0" y="358.5" width="1.2" height="1.2"/><rect x="169.8" y="320.2" width="1.2" height="1.2"/><rect x="146.8" y="294.3" width="1.2" height="1.2"/><rect x="150.3" y="349.6" width="1.2" height="1.2"/><rect x="165.1" y="337.3" width="1.2" height="1.2"/><rect x="169.2" y="322.2" width="1.2" height="1.2"/><rect x="153.6" y="355.6" width="1.2" height="1.2"/><rect x="153.7" y="345.6" width="1.2" height="1.2"/><rect x="152.4" y="357.9" width="1.2" height="1.2"/><rect x="168.4" y="351.5" width="1.2" height="1.2"/><rect x="142.5" y="321.8" width="1.2" height="1.2"/><rect x="154.6" y="343.9" width="1.2" height="1.2"/><rect x="170.9" y="312.2" width="1.2" height="1.2"/><rect x="164.7" y="343.4" width="1.2" height="1.2"/><rect x="147.0" y="319.4" width="1.2" height="1.2"/><rect x="137.1" y="268.3" width="1.2" height="1.2"/><rect x="169.5" y="363.6" width="1.2" height="1.2"/><rect x="177.5" y="324.8" width="1.2" height="1.2"/><rect x="151.5" y="357.8" width="1.2" height="1.2"/><rect x="147.8" y="328.3" width="1.2" height="1.2"/><rect x="168.5" y="328.2" width="1.2" height="1.2"/><rect x="155.7" y="329.9" width="1.2" height="1.2"/><rect x="143.0" y="335.1" width="1.2" height="1.2"/><rect x="150.9" y="348.0" width="1.2" height="1.2"/><rect x="171.9" y="323.7" width="1.2" height="1.2"/><rect x="165.4" y="359.6" width="1.2" height="1.2"/><rect x="144.3" y="283.9" width="1.2" height="1.2"/><rect x="156.9" y="362.8" width="1.2" height="1.2"/><rect x="150.8" y="355.4" width="1.2" height="1.2"/><rect x="163.8" y="343.0" width="1.2" height="1.2"/><rect x="143.7" y="315.4" width="1.2" height="1.2"/><rect x="156.0" y="363.8" width="1.2" height="1.2"/><rect x="175.1" y="293.3" width="1.2" height="1.2"/><rect x="167.4" y="363.9" width="1.2" height="1.2"/><rect x="171.7" y="307.0" width="1.2" height="1.2"/><rect x="155.1" y="341.0" width="1.2" height="1.2"/><rect x="154.8" y="356.2" width="1.2" height="1.2"/><rect x="174.2" y="317.3" width="1.2" height="1.2"/><rect x="172.6" y="301.9" width="1.2" height="1.2"/><rect x="169.4" y="326.4" width="1.2" height="1.2"/><rect x="175.3" y="265.2" width="1.2" height="1.2"/><rect x="178.2" y="309.8" width="1.2" height="1.2"/><rect x="143.1" y="310.3" width="1.2" height="1.2"/><rect x="161.8" y="363.9" width="1.2" height="1.2"/><rect x="151.5" y="306.4" width="1.2" height="1.2"/><rect x="150.3" y="313.9" width="1.2" height="1.2"/><rect x="161.5" y="326.7" width="1.2" height="1.2"/><rect x="147.1" y="336.9" width="1.2" height="1.2"/><rect x="151.6" y="359.6" width="1.2" height="1.2"/><rect x="154.5" y="331.1" width="1.2" height="1.2"/><rect x="140.5" y="309.4" width="1.2" height="1.2"/><rect x="151.5" y="355.4" width="1.2" height="1.2"/><rect x="170.6" y="348.2" width="1.2" height="1.2"/><rect x="168.7" y="340.0" width="1.2" height="1.2"/><rect x="174.9" y="321.4" width="1.2" height="1.2"/><rect x="142.2" y="295.9" width="1.2" height="1.2"/><rect x="168.0" y="361.9" width="1.2" height="1.2"/><rect x="143.9" y="305.6" width="1.2" height="1.2"/><rect x="153.1" y="356.2" width="1.2" height="1.2"/><rect x="143.1" y="288.7" width="1.2" height="1.2"/><rect x="168.1" y="332.6" width="1.2" height="1.2"/><rect x="170.4" y="314.6" width="1.2" height="1.2"/><rect x="173.6" y="291.7" width="1.2" height="1.2"/><rect x="149.0" y="309.1" width="1.2" height="1.2"/><rect x="146.1" y="303.8" width="1.2" height="1.2"/><rect x="171.0" y="312.9" width="1.2" height="1.2"/><rect x="154.3" y="331.8" width="1.2" height="1.2"/><rect x="174.5" y="306.7" width="1.2" height="1.2"/><rect x="169.5" y="287.9" width="1.2" height="1.2"/><rect x="139.5" y="270.7" width="1.2" height="1.2"/><rect x="172.7" y="314.0" width="1.2" height="1.2"/><rect x="154.9" y="344.4" width="1.2" height="1.2"/><rect x="151.8" y="334.6" width="1.2" height="1.2"/><rect x="170.4" y="356.4" width="1.2" height="1.2"/><rect x="162.8" y="356.4" width="1.2" height="1.2"/><rect x="151.2" y="354.9" width="1.2" height="1.2"/><rect x="170.6" y="307.6" width="1.2" height="1.2"/><rect x="147.7" y="333.5" width="1.2" height="1.2"/><rect x="169.4" y="316.5" width="1.2" height="1.2"/><rect x="166.8" y="348.3" width="1.2" height="1.2"/><rect x="170.7" y="317.1" width="1.2" height="1.2"/><rect x="149.9" y="335.8" width="1.2" height="1.2"/><rect x="147.0" y="327.2" width="1.2" height="1.2"/><rect x="154.6" y="352.7" width="1.2" height="1.2"/><rect x="164.3" y="350.4" width="1.2" height="1.2"/><rect x="172.8" y="298.5" width="1.2" height="1.2"/><rect x="146.1" y="320.7" width="1.2" height="1.2"/><rect x="142.2" y="295.1" width="1.2" height="1.2"/><rect x="165.1" y="348.0" width="1.2" height="1.2"/><rect x="165.7" y="306.8" width="1.2" height="1.2"/><rect x="139.4" y="319.4" width="1.2" height="1.2"/><rect x="179.6" y="292.2" width="1.2" height="1.2"/><rect x="166.5" y="341.4" width="1.2" height="1.2"/><rect x="152.5" y="353.7" width="1.2" height="1.2"/><rect x="178.1" y="319.2" width="1.2" height="1.2"/><rect x="151.4" y="321.0" width="1.2" height="1.2"/><rect x="168.7" y="336.5" width="1.2" height="1.2"/><rect x="151.8" y="307.9" width="1.2" height="1.2"/><rect x="167.7" y="351.1" width="1.2" height="1.2"/><rect x="172.7" y="337.8" width="1.2" height="1.2"/><rect x="163.5" y="364.2" width="1.2" height="1.2"/><rect x="145.3" y="307.9" width="1.2" height="1.2"/><rect x="180.5" y="317.4" width="1.2" height="1.2"/><rect x="156.4" y="361.4" width="1.2" height="1.2"/><rect x="161.5" y="345.6" width="1.2" height="1.2"/><rect x="144.6" y="315.0" width="1.2" height="1.2"/><rect x="153.9" y="363.9" width="1.2" height="1.2"/><rect x="154.6" y="358.4" width="1.2" height="1.2"/><rect x="165.7" y="347.3" width="1.2" height="1.2"/><rect x="173.1" y="287.9" width="1.2" height="1.2"/><rect x="172.9" y="296.5" width="1.2" height="1.2"/><rect x="148.1" y="302.9" width="1.2" height="1.2"/><rect x="174.0" y="293.4" width="1.2" height="1.2"/><rect x="165.6" y="326.5" width="1.2" height="1.2"/><rect x="174.7" y="320.5" width="1.2" height="1.2"/><rect x="152.4" y="341.6" width="1.2" height="1.2"/><rect x="150.8" y="327.3" width="1.2" height="1.2"/><rect x="152.4" y="359.6" width="1.2" height="1.2"/><rect x="177.9" y="289.0" width="1.2" height="1.2"/><rect x="177.8" y="294.4" width="1.2" height="1.2"/><rect x="149.4" y="333.9" width="1.2" height="1.2"/><rect x="149.0" y="336.1" width="1.2" height="1.2"/><rect x="152.6" y="360.7" width="1.2" height="1.2"/><rect x="146.4" y="310.0" width="1.2" height="1.2"/><rect x="169.8" y="322.3" width="1.2" height="1.2"/><rect x="142.1" y="288.2" width="1.2" height="1.2"/><rect x="152.7" y="357.8" width="1.2" height="1.2"/><rect x="164.3" y="352.7" width="1.2" height="1.2"/><rect x="171.4" y="319.0" width="1.2" height="1.2"/><rect x="174.3" y="302.6" width="1.2" height="1.2"/><rect x="167.5" y="313.7" width="1.2" height="1.2"/><rect x="169.1" y="332.9" width="1.2" height="1.2"/><rect x="171.7" y="316.7" width="1.2" height="1.2"/><rect x="145.0" y="327.7" width="1.2" height="1.2"/><rect x="142.5" y="303.0" width="1.2" height="1.2"/><rect x="149.4" y="319.9" width="1.2" height="1.2"/><rect x="151.6" y="334.7" width="1.2" height="1.2"/><rect x="140.2" y="298.0" width="1.2" height="1.2"/><rect x="180.0" y="287.6" width="1.2" height="1.2"/><rect x="174.4" y="303.3" width="1.2" height="1.2"/><rect x="147.6" y="340.3" width="1.2" height="1.2"/><rect x="153.1" y="316.0" width="1.2" height="1.2"/><rect x="162.4" y="343.6" width="1.2" height="1.2"/><rect x="153.3" y="345.6" width="1.2" height="1.2"/><rect x="154.4" y="340.6" width="1.2" height="1.2"/><rect x="167.8" y="348.7" width="1.2" height="1.2"/><rect x="157.2" y="357.8" width="1.2" height="1.2"/><rect x="165.5" y="349.4" width="1.2" height="1.2"/><rect x="145.7" y="286.6" width="1.2" height="1.2"/><rect x="137.1" y="299.0" width="1.2" height="1.2"/><rect x="169.4" y="352.1" width="1.2" height="1.2"/><rect x="154.0" y="356.2" width="1.2" height="1.2"/><rect x="168.8" y="349.3" width="1.2" height="1.2"/><rect x="145.2" y="309.5" width="1.2" height="1.2"/><rect x="150.0" y="330.7" width="1.2" height="1.2"/><rect x="143.5" y="316.4" width="1.2" height="1.2"/><rect x="152.6" y="354.7" width="1.2" height="1.2"/><rect x="167.3" y="357.3" width="1.2" height="1.2"/><rect x="168.2" y="336.6" width="1.2" height="1.2"/><rect x="170.3" y="354.8" width="1.2" height="1.2"/><rect x="154.1" y="318.8" width="1.2" height="1.2"/><rect x="169.5" y="332.6" width="1.2" height="1.2"/><rect x="171.9" y="288.3" width="1.2" height="1.2"/><rect x="162.0" y="363.2" width="1.2" height="1.2"/><rect x="152.0" y="353.4" width="1.2" height="1.2"/><rect x="137.6" y="302.6" width="1.2" height="1.2"/><rect x="148.3" y="314.6" width="1.2" height="1.2"/><rect x="169.1" y="356.5" width="1.2" height="1.2"/><rect x="164.3" y="359.5" width="1.2" height="1.2"/><rect x="170.3" y="302.2" width="1.2" height="1.2"/><rect x="161.5" y="358.4" width="1.2" height="1.2"/><rect x="170.5" y="326.6" width="1.2" height="1.2"/><rect x="172.2" y="321.0" width="1.2" height="1.2"/><rect x="141.0" y="312.7" width="1.2" height="1.2"/><rect x="150.0" y="363.9" width="1.2" height="1.2"/><rect x="161.4" y="361.5" width="1.2" height="1.2"/><rect x="171.6" y="333.4" width="1.2" height="1.2"/><rect x="176.7" y="302.0" width="1.2" height="1.2"/><rect x="151.9" y="353.5" width="1.2" height="1.2"/><rect x="135.2" y="298.1" width="1.2" height="1.2"/><rect x="152.2" y="364.2" width="1.2" height="1.2"/><rect x="154.1" y="358.5" width="1.2" height="1.2"/><rect x="147.6" y="332.2" width="1.2" height="1.2"/><rect x="146.0" y="320.2" width="1.2" height="1.2"/><rect x="143.7" y="292.5" width="1.2" height="1.2"/><rect x="147.7" y="361.4" width="1.2" height="1.2"/><rect x="166.3" y="331.1" width="1.2" height="1.2"/><rect x="138.2" y="293.8" width="1.2" height="1.2"/><rect x="145.8" y="332.1" width="1.2" height="1.2"/><rect x="146.3" y="293.7" width="1.2" height="1.2"/><rect x="148.6" y="313.9" width="1.2" height="1.2"/><rect x="149.0" y="354.7" width="1.2" height="1.2"/><rect x="166.9" y="355.1" width="1.2" height="1.2"/><rect x="176.4" y="303.4" width="1.2" height="1.2"/><rect x="138.9" y="278.9" width="1.2" height="1.2"/><rect x="180.5" y="270.1" width="1.2" height="1.2"/><rect x="148.0" y="322.5" width="1.2" height="1.2"/><rect x="146.2" y="325.9" width="1.2" height="1.2"/><rect x="172.4" y="328.9" width="1.2" height="1.2"/><rect x="172.4" y="297.2" width="1.2" height="1.2"/><rect x="151.2" y="358.9" width="1.2" height="1.2"/><rect x="155.2" y="356.2" width="1.2" height="1.2"/><rect x="171.5" y="301.5" width="1.2" height="1.2"/><rect x="168.5" y="337.9" width="1.2" height="1.2"/><rect x="157.7" y="362.9" width="1.2" height="1.2"/><rect x="171.6" y="296.3" width="1.2" height="1.2"/><rect x="171.7" y="329.2" width="1.2" height="1.2"/><rect x="150.1" y="299.4" width="1.2" height="1.2"/><rect x="172.2" y="330.4" width="1.2" height="1.2"/><rect x="146.1" y="294.2" width="1.2" height="1.2"/><rect x="155.1" y="338.9" width="1.2" height="1.2"/><rect x="149.7" y="323.4" width="1.2" height="1.2"/><rect x="167.6" y="317.1" width="1.2" height="1.2"/><rect x="149.3" y="344.8" width="1.2" height="1.2"/><rect x="171.0" y="293.0" width="1.2" height="1.2"/><rect x="174.8" y="334.7" width="1.2" height="1.2"/><rect x="153.8" y="359.3" width="1.2" height="1.2"/><rect x="144.0" y="296.4" width="1.2" height="1.2"/><rect x="173.7" y="334.4" width="1.2" height="1.2"/><rect x="148.3" y="303.4" width="1.2" height="1.2"/><rect x="151.9" y="335.8" width="1.2" height="1.2"/><rect x="151.5" y="345.9" width="1.2" height="1.2"/><rect x="164.3" y="352.3" width="1.2" height="1.2"/><rect x="151.1" y="302.5" width="1.2" height="1.2"/><rect x="162.9" y="362.5" width="1.2" height="1.2"/><rect x="146.8" y="315.4" width="1.2" height="1.2"/><rect x="174.3" y="349.3" width="1.2" height="1.2"/><rect x="177.8" y="296.0" width="1.2" height="1.2"/><rect x="168.2" y="351.3" width="1.2" height="1.2"/><rect x="176.9" y="312.2" width="1.2" height="1.2"/><rect x="171.9" y="320.9" width="1.2" height="1.2"/><rect x="146.0" y="314.4" width="1.2" height="1.2"/><rect x="152.1" y="320.8" width="1.2" height="1.2"/><rect x="175.8" y="294.2" width="1.2" height="1.2"/><rect x="149.4" y="286.0" width="1.2" height="1.2"/><rect x="177.5" y="297.1" width="1.2" height="1.2"/><rect x="170.2" y="326.7" width="1.2" height="1.2"/><rect x="166.3" y="358.9" width="1.2" height="1.2"/><rect x="170.1" y="350.8" width="1.2" height="1.2"/><rect x="164.6" y="338.8" width="1.2" height="1.2"/><rect x="152.7" y="344.4" width="1.2" height="1.2"/><rect x="147.4" y="353.7" width="1.2" height="1.2"/><rect x="140.2" y="312.0" width="1.2" height="1.2"/><rect x="182.4" y="313.3" width="1.2" height="1.2"/><rect x="171.1" y="300.3" width="1.2" height="1.2"/><rect x="150.4" y="332.0" width="1.2" height="1.2"/><rect x="146.8" y="323.9" width="1.2" height="1.2"/><rect x="150.5" y="363.8" width="1.2" height="1.2"/><rect x="146.3" y="329.9" width="1.2" height="1.2"/><rect x="164.3" y="363.1" width="1.2" height="1.2"/><rect x="163.1" y="361.7" width="1.2" height="1.2"/><rect x="166.8" y="323.1" width="1.2" height="1.2"/><rect x="178.9" y="300.0" width="1.2" height="1.2"/><rect x="143.2" y="279.9" width="1.2" height="1.2"/><rect x="164.0" y="331.1" width="1.2" height="1.2"/><rect x="144.1" y="315.3" width="1.2" height="1.2"/><rect x="141.1" y="301.1" width="1.2" height="1.2"/><rect x="155.5" y="350.3" width="1.2" height="1.2"/><rect x="153.4" y="322.2" width="1.2" height="1.2"/><rect x="157.4" y="328.6" width="1.2" height="1.2"/><rect x="168.5" y="363.4" width="1.2" height="1.2"/><rect x="149.6" y="322.4" width="1.2" height="1.2"/><rect x="150.9" y="319.3" width="1.2" height="1.2"/><rect x="152.7" y="324.6" width="1.2" height="1.2"/><rect x="146.4" y="298.1" width="1.2" height="1.2"/><rect x="152.5" y="352.8" width="1.2" height="1.2"/><rect x="168.0" y="337.5" width="1.2" height="1.2"/><rect x="151.4" y="352.8" width="1.2" height="1.2"/><rect x="138.9" y="298.6" width="1.2" height="1.2"/><rect x="142.4" y="328.1" width="1.2" height="1.2"/><rect x="170.7" y="353.1" width="1.2" height="1.2"/><rect x="148.6" y="349.4" width="1.2" height="1.2"/><rect x="148.9" y="359.6" width="1.2" height="1.2"/><rect x="146.5" y="339.1" width="1.2" height="1.2"/><rect x="172.0" y="280.3" width="1.2" height="1.2"/><rect x="147.0" y="302.8" width="1.2" height="1.2"/><rect x="168.9" y="356.6" width="1.2" height="1.2"/><rect x="166.9" y="324.9" width="1.2" height="1.2"/><rect x="145.6" y="310.4" width="1.2" height="1.2"/><rect x="171.5" y="298.4" width="1.2" height="1.2"/><rect x="140.8" y="295.3" width="1.2" height="1.2"/><rect x="139.3" y="292.8" width="1.2" height="1.2"/><rect x="144.8" y="294.1" width="1.2" height="1.2"/><rect x="144.9" y="341.4" width="1.2" height="1.2"/><rect x="174.3" y="317.9" width="1.2" height="1.2"/><rect x="175.3" y="280.9" width="1.2" height="1.2"/><rect x="149.2" y="332.0" width="1.2" height="1.2"/><rect x="174.1" y="298.5" width="1.2" height="1.2"/><rect x="143.3" y="311.3" width="1.2" height="1.2"/><rect x="140.3" y="307.3" width="1.2" height="1.2"/><rect x="171.0" y="329.3" width="1.2" height="1.2"/><rect x="142.5" y="315.3" width="1.2" height="1.2"/><rect x="168.2" y="312.0" width="1.2" height="1.2"/><rect x="147.5" y="297.8" width="1.2" height="1.2"/><rect x="162.7" y="344.8" width="1.2" height="1.2"/><rect x="145.9" y="298.9" width="1.2" height="1.2"/><rect x="154.6" y="328.5" width="1.2" height="1.2"/><rect x="167.9" y="339.9" width="1.2" height="1.2"/><rect x="144.1" y="303.3" width="1.2" height="1.2"/><rect x="148.7" y="344.0" width="1.2" height="1.2"/><rect x="136.0" y="294.2" width="1.2" height="1.2"/><rect x="164.8" y="312.4" width="1.2" height="1.2"/><rect x="148.6" y="329.3" width="1.2" height="1.2"/><rect x="169.0" y="311.5" width="1.2" height="1.2"/><rect x="142.8" y="292.8" width="1.2" height="1.2"/><rect x="170.9" y="322.7" width="1.2" height="1.2"/><rect x="171.3" y="342.4" width="1.2" height="1.2"/><rect x="167.1" y="344.0" width="1.2" height="1.2"/><rect x="145.4" y="345.5" width="1.2" height="1.2"/><rect x="142.5" y="283.4" width="1.2" height="1.2"/><rect x="167.4" y="312.9" width="1.2" height="1.2"/><rect x="169.4" y="334.1" width="1.2" height="1.2"/><rect x="171.0" y="338.0" width="1.2" height="1.2"/><rect x="162.3" y="364.2" width="1.2" height="1.2"/><rect x="155.4" y="346.6" width="1.2" height="1.2"/><rect x="151.0" y="344.2" width="1.2" height="1.2"/><rect x="138.9" y="306.3" width="1.2" height="1.2"/><rect x="163.3" y="319.5" width="1.2" height="1.2"/><rect x="139.4" y="289.2" width="1.2" height="1.2"/><rect x="167.4" y="326.6" width="1.2" height="1.2"/><rect x="144.5" y="340.6" width="1.2" height="1.2"/><rect x="148.7" y="347.6" width="1.2" height="1.2"/><rect x="153.5" y="359.9" width="1.2" height="1.2"/><rect x="171.2" y="349.0" width="1.2" height="1.2"/><rect x="150.3" y="344.7" width="1.2" height="1.2"/><rect x="144.8" y="316.3" width="1.2" height="1.2"/><rect x="155.1" y="320.9" width="1.2" height="1.2"/><rect x="171.2" y="340.7" width="1.2" height="1.2"/><rect x="157.2" y="344.8" width="1.2" height="1.2"/><rect x="164.2" y="327.6" width="1.2" height="1.2"/><rect x="144.0" y="334.3" width="1.2" height="1.2"/><rect x="149.3" y="340.8" width="1.2" height="1.2"/><rect x="168.8" y="322.5" width="1.2" height="1.2"/><rect x="151.6" y="345.1" width="1.2" height="1.2"/><rect x="154.5" y="356.7" width="1.2" height="1.2"/><rect x="152.1" y="335.7" width="1.2" height="1.2"/><rect x="143.5" y="322.9" width="1.2" height="1.2"/><rect x="148.5" y="331.1" width="1.2" height="1.2"/><rect x="173.7" y="348.4" width="1.2" height="1.2"/><rect x="158.9" y="363.3" width="1.2" height="1.2"/><rect x="167.1" y="338.8" width="1.2" height="1.2"/><rect x="145.2" y="341.5" width="1.2" height="1.2"/><rect x="149.4" y="344.2" width="1.2" height="1.2"/><rect x="179.8" y="280.2" width="1.2" height="1.2"/><rect x="174.6" y="330.6" width="1.2" height="1.2"/><rect x="157.4" y="361.0" width="1.2" height="1.2"/><rect x="157.5" y="355.1" width="1.2" height="1.2"/><rect x="138.5" y="317.1" width="1.2" height="1.2"/><rect x="143.9" y="300.8" width="1.2" height="1.2"/><rect x="149.4" y="337.5" width="1.2" height="1.2"/><rect x="136.5" y="285.2" width="1.2" height="1.2"/><rect x="160.3" y="361.5" width="1.2" height="1.2"/><rect x="171.0" y="322.7" width="1.2" height="1.2"/><rect x="147.4" y="343.9" width="1.2" height="1.2"/><rect x="164.6" y="359.9" width="1.2" height="1.2"/><rect x="182.1" y="284.5" width="1.2" height="1.2"/><rect x="159.3" y="363.5" width="1.2" height="1.2"/><rect x="137.8" y="301.5" width="1.2" height="1.2"/><rect x="173.7" y="348.3" width="1.2" height="1.2"/><rect x="138.9" y="293.9" width="1.2" height="1.2"/><rect x="158.0" y="358.3" width="1.2" height="1.2"/><rect x="155.0" y="343.3" width="1.2" height="1.2"/><rect x="178.8" y="326.8" width="1.2" height="1.2"/><rect x="161.5" y="358.6" width="1.2" height="1.2"/><rect x="157.0" y="354.2" width="1.2" height="1.2"/><rect x="170.2" y="322.6" width="1.2" height="1.2"/><rect x="146.9" y="330.1" width="1.2" height="1.2"/><rect x="161.8" y="357.5" width="1.2" height="1.2"/><rect x="134.7" y="266.8" width="1.2" height="1.2"/><rect x="156.9" y="360.8" width="1.2" height="1.2"/><rect x="177.9" y="311.4" width="1.2" height="1.2"/><rect x="172.0" y="319.4" width="1.2" height="1.2"/><rect x="165.9" y="337.0" width="1.2" height="1.2"/><rect x="136.7" y="318.6" width="1.2" height="1.2"/><rect x="142.3" y="308.7" width="1.2" height="1.2"/><rect x="145.1" y="353.0" width="1.2" height="1.2"/><rect x="140.9" y="338.7" width="1.2" height="1.2"/><rect x="161.7" y="359.1" width="1.2" height="1.2"/><rect x="157.8" y="362.9" width="1.2" height="1.2"/><rect x="161.1" y="361.8" width="1.2" height="1.2"/><rect x="138.5" y="345.5" width="1.2" height="1.2"/><rect x="141.6" y="323.5" width="1.2" height="1.2"/><rect x="142.4" y="321.0" width="1.2" height="1.2"/><rect x="142.3" y="301.8" width="1.2" height="1.2"/><rect x="179.0" y="326.3" width="1.2" height="1.2"/><rect x="137.5" y="264.5" width="1.2" height="1.2"/><rect x="138.2" y="294.4" width="1.2" height="1.2"/><rect x="172.8" y="329.9" width="1.2" height="1.2"/><rect x="179.8" y="339.0" width="1.2" height="1.2"/><rect x="171.0" y="315.5" width="1.2" height="1.2"/><rect x="180.1" y="281.2" width="1.2" height="1.2"/><rect x="156.3" y="355.4" width="1.2" height="1.2"/><rect x="177.6" y="325.0" width="1.2" height="1.2"/><rect x="147.0" y="354.3" width="1.2" height="1.2"/><rect x="144.3" y="345.5" width="1.2" height="1.2"/><rect x="181.7" y="322.2" width="1.2" height="1.2"/><rect x="152.0" y="329.6" width="1.2" height="1.2"/><rect x="169.4" y="340.6" width="1.2" height="1.2"/><rect x="139.3" y="321.1" width="1.2" height="1.2"/><rect x="148.8" y="316.3" width="1.2" height="1.2"/><rect x="155.5" y="345.7" width="1.2" height="1.2"/><rect x="147.7" y="354.1" width="1.2" height="1.2"/><rect x="180.2" y="344.4" width="1.2" height="1.2"/><rect x="174.4" y="319.1" width="1.2" height="1.2"/><rect x="148.5" y="319.7" width="1.2" height="1.2"/><rect x="155.9" y="347.5" width="1.2" height="1.2"/><rect x="162.6" y="351.0" width="1.2" height="1.2"/><rect x="181.8" y="316.2" width="1.2" height="1.2"/><rect x="169.5" y="329.0" width="1.2" height="1.2"/><rect x="167.6" y="358.2" width="1.2" height="1.2"/><rect x="169.3" y="328.3" width="1.2" height="1.2"/></g><line x1="57.7" y1="364.6" x2="262.5" y2="364.6" stroke="#111" stroke-width="1.2" stroke-dasharray="1.1 2.2"/><line x1="133.89999999999998" y1="247.3" x2="133.89999999999998" y2="387.6" stroke="#111" stroke-width="1.2" stroke-dasharray="1.1 2.2"/><line x1="186.5" y1="247.3" x2="186.5" y2="387.6" stroke="#111" stroke-width="1.2" stroke-dasharray="1.1 2.2"/><g fill="#2e8b3c"><path d="M126.3,319.2h2.8l-1.4,2.4z"/><path d="M126.8,325.3h2.8l-1.4,2.4z"/><path d="M132.4,299.6h2.8l-1.4,2.4z"/><path d="M113.4,290.3h2.8l-1.4,2.4z"/><path d="M92.9,288.0h2.8l-1.4,2.4z"/><path d="M116.3,288.5h2.8l-1.4,2.4z"/><path d="M130.3,287.9h2.8l-1.4,2.4z"/><path d="M95.7,304.7h2.8l-1.4,2.4z"/><path d="M122.2,304.9h2.8l-1.4,2.4z"/><path d="M109.4,294.3h2.8l-1.4,2.4z"/><path d="M124.5,265.1h2.8l-1.4,2.4z"/><path d="M131.2,319.2h2.8l-1.4,2.4z"/><path d="M110.6,296.9h2.8l-1.4,2.4z"/><path d="M127.8,312.0h2.8l-1.4,2.4z"/><path d="M126.4,359.4h2.8l-1.4,2.4z"/><path d="M132.1,284.4h2.8l-1.4,2.4z"/><path d="M131.9,300.9h2.8l-1.4,2.4z"/><path d="M124.1,307.1h2.8l-1.4,2.4z"/><path d="M127.3,289.2h2.8l-1.4,2.4z"/><path d="M127.7,296.6h2.8l-1.4,2.4z"/><path d="M129.9,315.8h2.8l-1.4,2.4z"/><path d="M130.7,285.7h2.8l-1.4,2.4z"/><path d="M130.9,325.2h2.8l-1.4,2.4z"/><path d="M119.3,300.2h2.8l-1.4,2.4z"/><path d="M108.3,292.5h2.8l-1.4,2.4z"/><path d="M92.6,323.5h2.8l-1.4,2.4z"/><path d="M126.2,350.2h2.8l-1.4,2.4z"/><path d="M131.8,301.2h2.8l-1.4,2.4z"/><path d="M112.5,316.7h2.8l-1.4,2.4z"/><path d="M127.2,274.8h2.8l-1.4,2.4z"/><path d="M115.7,317.3h2.8l-1.4,2.4z"/><path d="M125.5,311.7h2.8l-1.4,2.4z"/><path d="M130.5,340.5h2.8l-1.4,2.4z"/><path d="M105.5,289.7h2.8l-1.4,2.4z"/><path d="M119.9,271.4h2.8l-1.4,2.4z"/><path d="M125.9,298.1h2.8l-1.4,2.4z"/><path d="M131.0,287.0h2.8l-1.4,2.4z"/><path d="M119.7,308.1h2.8l-1.4,2.4z"/><path d="M120.2,295.3h2.8l-1.4,2.4z"/><path d="M121.9,279.6h2.8l-1.4,2.4z"/><path d="M127.2,300.3h2.8l-1.4,2.4z"/><path d="M131.1,300.0h2.8l-1.4,2.4z"/><path d="M125.2,348.2h2.8l-1.4,2.4z"/><path d="M122.8,291.2h2.8l-1.4,2.4z"/><path d="M126.7,294.7h2.8l-1.4,2.4z"/><path d="M130.8,304.3h2.8l-1.4,2.4z"/><path d="M101.7,332.2h2.8l-1.4,2.4z"/><path d="M105.4,303.6h2.8l-1.4,2.4z"/><path d="M94.9,295.9h2.8l-1.4,2.4z"/><path d="M130.4,338.6h2.8l-1.4,2.4z"/><path d="M127.2,314.6h2.8l-1.4,2.4z"/><path d="M131.2,286.5h2.8l-1.4,2.4z"/><path d="M128.7,291.5h2.8l-1.4,2.4z"/><path d="M115.2,312.9h2.8l-1.4,2.4z"/><path d="M94.0,290.1h2.8l-1.4,2.4z"/><path d="M127.4,329.6h2.8l-1.4,2.4z"/><path d="M131.6,321.5h2.8l-1.4,2.4z"/><path d="M128.9,310.3h2.8l-1.4,2.4z"/><path d="M115.9,318.0h2.8l-1.4,2.4z"/><path d="M90.7,305.4h2.8l-1.4,2.4z"/><path d="M123.1,306.1h2.8l-1.4,2.4z"/><path d="M121.7,302.6h2.8l-1.4,2.4z"/><path d="M114.7,306.7h2.8l-1.4,2.4z"/><path d="M121.2,317.2h2.8l-1.4,2.4z"/><path d="M104.0,301.5h2.8l-1.4,2.4z"/><path d="M109.6,294.9h2.8l-1.4,2.4z"/><path d="M117.3,286.1h2.8l-1.4,2.4z"/><path d="M127.7,302.4h2.8l-1.4,2.4z"/><path d="M125.3,332.4h2.8l-1.4,2.4z"/><path d="M120.1,344.0h2.8l-1.4,2.4z"/><path d="M118.2,314.4h2.8l-1.4,2.4z"/><path d="M127.4,302.5h2.8l-1.4,2.4z"/><path d="M123.5,309.0h2.8l-1.4,2.4z"/><path d="M126.1,355.8h2.8l-1.4,2.4z"/><path d="M124.5,304.0h2.8l-1.4,2.4z"/><path d="M129.4,298.8h2.8l-1.4,2.4z"/><path d="M131.0,282.0h2.8l-1.4,2.4z"/><path d="M120.9,276.8h2.8l-1.4,2.4z"/><path d="M124.5,325.5h2.8l-1.4,2.4z"/><path d="M128.7,307.9h2.8l-1.4,2.4z"/><path d="M93.4,343.6h2.8l-1.4,2.4z"/><path d="M129.0,361.5h2.8l-1.4,2.4z"/><path d="M125.2,319.2h2.8l-1.4,2.4z"/><path d="M119.1,308.1h2.8l-1.4,2.4z"/><path d="M130.5,331.7h2.8l-1.4,2.4z"/><path d="M121.8,297.5h2.8l-1.4,2.4z"/><path d="M124.0,281.2h2.8l-1.4,2.4z"/><path d="M119.8,321.2h2.8l-1.4,2.4z"/><path d="M128.3,277.0h2.8l-1.4,2.4z"/><path d="M106.2,320.9h2.8l-1.4,2.4z"/><path d="M129.8,300.2h2.8l-1.4,2.4z"/><path d="M130.8,319.1h2.8l-1.4,2.4z"/><path d="M120.1,285.0h2.8l-1.4,2.4z"/><path d="M126.3,282.9h2.8l-1.4,2.4z"/><path d="M132.3,347.6h2.8l-1.4,2.4z"/><path d="M125.0,325.7h2.8l-1.4,2.4z"/><path d="M127.1,286.3h2.8l-1.4,2.4z"/><path d="M130.4,328.0h2.8l-1.4,2.4z"/><path d="M125.5,287.5h2.8l-1.4,2.4z"/><path d="M123.8,318.6h2.8l-1.4,2.4z"/><path d="M124.7,307.0h2.8l-1.4,2.4z"/><path d="M125.2,311.7h2.8l-1.4,2.4z"/><path d="M131.9,275.3h2.8l-1.4,2.4z"/><path d="M121.4,295.0h2.8l-1.4,2.4z"/><path d="M106.3,301.7h2.8l-1.4,2.4z"/><path d="M131.9,344.0h2.8l-1.4,2.4z"/><path d="M113.5,303.3h2.8l-1.4,2.4z"/><path d="M111.0,318.7h2.8l-1.4,2.4z"/><path d="M116.4,315.9h2.8l-1.4,2.4z"/><path d="M121.8,285.3h2.8l-1.4,2.4z"/></g><g fill="#e8262a"><path d="M196.6,296.6h2.8l-1.4,-2.4z"/><path d="M201.1,349.0h2.8l-1.4,-2.4z"/><path d="M200.9,286.2h2.8l-1.4,-2.4z"/><path d="M198.9,303.8h2.8l-1.4,-2.4z"/><path d="M191.3,303.3h2.8l-1.4,-2.4z"/><path d="M191.4,308.6h2.8l-1.4,-2.4z"/><path d="M192.2,282.3h2.8l-1.4,-2.4z"/><path d="M190.1,330.7h2.8l-1.4,-2.4z"/><path d="M194.3,315.7h2.8l-1.4,-2.4z"/><path d="M188.9,313.4h2.8l-1.4,-2.4z"/><path d="M195.0,300.6h2.8l-1.4,-2.4z"/><path d="M198.2,334.3h2.8l-1.4,-2.4z"/><path d="M201.1,298.1h2.8l-1.4,-2.4z"/><path d="M197.1,309.1h2.8l-1.4,-2.4z"/><path d="M185.4,354.3h2.8l-1.4,-2.4z"/><path d="M190.8,319.3h2.8l-1.4,-2.4z"/><path d="M197.7,307.6h2.8l-1.4,-2.4z"/><path d="M186.1,295.3h2.8l-1.4,-2.4z"/><path d="M198.8,353.5h2.8l-1.4,-2.4z"/><path d="M197.5,294.6h2.8l-1.4,-2.4z"/><path d="M195.3,304.9h2.8l-1.4,-2.4z"/><path d="M192.7,300.4h2.8l-1.4,-2.4z"/><path d="M217.6,304.6h2.8l-1.4,-2.4z"/><path d="M188.5,303.6h2.8l-1.4,-2.4z"/><path d="M187.2,317.1h2.8l-1.4,-2.4z"/><path d="M192.0,317.6h2.8l-1.4,-2.4z"/><path d="M192.3,348.2h2.8l-1.4,-2.4z"/><path d="M185.2,308.7h2.8l-1.4,-2.4z"/><path d="M190.3,313.3h2.8l-1.4,-2.4z"/><path d="M191.5,311.5h2.8l-1.4,-2.4z"/><path d="M196.7,298.4h2.8l-1.4,-2.4z"/><path d="M192.9,300.8h2.8l-1.4,-2.4z"/><path d="M193.4,308.4h2.8l-1.4,-2.4z"/><path d="M189.2,275.4h2.8l-1.4,-2.4z"/><path d="M186.7,282.3h2.8l-1.4,-2.4z"/><path d="M193.9,303.5h2.8l-1.4,-2.4z"/><path d="M192.0,318.7h2.8l-1.4,-2.4z"/><path d="M198.9,317.2h2.8l-1.4,-2.4z"/><path d="M187.0,320.7h2.8l-1.4,-2.4z"/><path d="M195.5,289.5h2.8l-1.4,-2.4z"/><path d="M192.1,301.4h2.8l-1.4,-2.4z"/><path d="M186.1,291.0h2.8l-1.4,-2.4z"/><path d="M185.7,324.4h2.8l-1.4,-2.4z"/><path d="M219.7,285.9h2.8l-1.4,-2.4z"/><path d="M186.6,282.4h2.8l-1.4,-2.4z"/><path d="M187.7,303.1h2.8l-1.4,-2.4z"/><path d="M189.8,295.4h2.8l-1.4,-2.4z"/><path d="M185.2,340.1h2.8l-1.4,-2.4z"/><path d="M189.0,320.7h2.8l-1.4,-2.4z"/><path d="M189.9,302.1h2.8l-1.4,-2.4z"/><path d="M189.6,282.6h2.8l-1.4,-2.4z"/><path d="M207.2,309.0h2.8l-1.4,-2.4z"/><path d="M198.3,318.5h2.8l-1.4,-2.4z"/><path d="M203.0,296.8h2.8l-1.4,-2.4z"/><path d="M191.9,305.5h2.8l-1.4,-2.4z"/><path d="M189.8,277.8h2.8l-1.4,-2.4z"/><path d="M187.7,325.3h2.8l-1.4,-2.4z"/><path d="M191.1,321.8h2.8l-1.4,-2.4z"/><path d="M198.7,301.4h2.8l-1.4,-2.4z"/><path d="M191.5,287.9h2.8l-1.4,-2.4z"/><path d="M197.1,306.0h2.8l-1.4,-2.4z"/><path d="M227.0,320.2h2.8l-1.4,-2.4z"/><path d="M204.5,309.3h2.8l-1.4,-2.4z"/><path d="M200.2,274.3h2.8l-1.4,-2.4z"/><path d="M187.3,304.5h2.8l-1.4,-2.4z"/><path d="M195.5,307.5h2.8l-1.4,-2.4z"/><path d="M186.5,290.1h2.8l-1.4,-2.4z"/><path d="M186.6,304.4h2.8l-1.4,-2.4z"/><path d="M203.6,304.6h2.8l-1.4,-2.4z"/><path d="M192.4,309.4h2.8l-1.4,-2.4z"/><path d="M188.1,291.0h2.8l-1.4,-2.4z"/><path d="M203.5,289.1h2.8l-1.4,-2.4z"/><path d="M187.9,291.8h2.8l-1.4,-2.4z"/><path d="M193.6,359.0h2.8l-1.4,-2.4z"/><path d="M185.6,289.2h2.8l-1.4,-2.4z"/><path d="M190.8,313.6h2.8l-1.4,-2.4z"/><path d="M190.2,284.6h2.8l-1.4,-2.4z"/><path d="M185.3,319.8h2.8l-1.4,-2.4z"/><path d="M197.0,332.9h2.8l-1.4,-2.4z"/><path d="M189.1,302.9h2.8l-1.4,-2.4z"/><path d="M192.2,310.9h2.8l-1.4,-2.4z"/><path d="M212.2,303.4h2.8l-1.4,-2.4z"/><path d="M191.6,268.0h2.8l-1.4,-2.4z"/><path d="M188.7,316.0h2.8l-1.4,-2.4z"/><path d="M218.0,300.1h2.8l-1.4,-2.4z"/><path d="M194.8,305.8h2.8l-1.4,-2.4z"/><path d="M191.5,290.3h2.8l-1.4,-2.4z"/><path d="M185.8,320.8h2.8l-1.4,-2.4z"/><path d="M210.4,291.7h2.8l-1.4,-2.4z"/><path d="M187.6,313.1h2.8l-1.4,-2.4z"/><path d="M190.4,332.7h2.8l-1.4,-2.4z"/><path d="M195.0,296.5h2.8l-1.4,-2.4z"/><path d="M192.7,300.1h2.8l-1.4,-2.4z"/><path d="M190.7,303.7h2.8l-1.4,-2.4z"/><path d="M188.5,327.0h2.8l-1.4,-2.4z"/><path d="M187.3,320.6h2.8l-1.4,-2.4z"/><path d="M195.4,296.9h2.8l-1.4,-2.4z"/><path d="M190.2,313.8h2.8l-1.4,-2.4z"/><path d="M188.1,305.4h2.8l-1.4,-2.4z"/><path d="M190.6,345.8h2.8l-1.4,-2.4z"/><path d="M190.5,323.5h2.8l-1.4,-2.4z"/><path d="M190.1,303.1h2.8l-1.4,-2.4z"/><path d="M207.2,314.4h2.8l-1.4,-2.4z"/><path d="M193.2,345.0h2.8l-1.4,-2.4z"/><path d="M191.4,321.5h2.8l-1.4,-2.4z"/><path d="M196.3,327.7h2.8l-1.4,-2.4z"/><path d="M186.1,286.4h2.8l-1.4,-2.4z"/><path d="M199.5,291.0h2.8l-1.4,-2.4z"/><path d="M191.2,293.0h2.8l-1.4,-2.4z"/><path d="M193.1,316.2h2.8l-1.4,-2.4z"/><path d="M197.4,350.5h2.8l-1.4,-2.4z"/><path d="M192.9,274.6h2.8l-1.4,-2.4z"/><path d="M197.3,289.6h2.8l-1.4,-2.4z"/><path d="M186.5,299.7h2.8l-1.4,-2.4z"/><path d="M193.6,308.2h2.8l-1.4,-2.4z"/></g><path d="M216.1,292.6h2.8l-1.4,-2.4z" fill="#2340a8"/><text x="221.8" y="293.8" font-size="9.8" font-weight="bold" fill="#111">P23588 Ser93</text><path d="M276,257.9h2.8l-1.4,-2.4z" fill="#e8262a"/><path d="M276,274.1h2.8l-1.4,2.4z" fill="#2e8b3c"/><text x="294" y="261.2" font-size="11" font-weight="bold" fill="#111">Up</text><text x="294" y="279.6" font-size="11" font-weight="bold" fill="#111">Down</text><text x="294" y="298.2" font-size="11" font-weight="bold" fill="#111">Non</text><text x="352.7" y="212.5" font-size="15.8" font-weight="bold" fill="#111">C</text><rect x="507.5" y="202.5" width="125.39999999999998" height="341.79999999999995" fill="#fff"/><g stroke="#e6e6e6" stroke-width="0.6"><line x1="507.5" y1="207.30" x2="632.9" y2="207.30"/><line x1="507.5" y1="214.70" x2="632.9" y2="214.70"/><line x1="507.5" y1="222.10" x2="632.9" y2="222.10"/><line x1="507.5" y1="229.50" x2="632.9" y2="229.50"/><line x1="507.5" y1="236.90" x2="632.9" y2="236.90"/><line x1="507.5" y1="244.30" x2="632.9" y2="244.30"/><line x1="507.5" y1="251.70" x2="632.9" y2="251.70"/><line x1="507.5" y1="259.10" x2="632.9" y2="259.10"/><line x1="507.5" y1="266.50" x2="632.9" y2="266.50"/><line x1="507.5" y1="273.90" x2="632.9" y2="273.90"/><line x1="507.5" y1="281.30" x2="632.9" y2="281.30"/><line x1="507.5" y1="288.70" x2="632.9" y2="288.70"/><line x1="507.5" y1="296.10" x2="632.9" y2="296.10"/><line x1="507.5" y1="303.50" x2="632.9" y2="303.50"/><line x1="507.5" y1="310.90" x2="632.9" y2="310.90"/><line x1="507.5" y1="318.30" x2="632.9" y2="318.30"/><line x1="507.5" y1="325.70" x2="632.9" y2="325.70"/><line x1="507.5" y1="333.10" x2="632.9" y2="333.10"/><line x1="507.5" y1="340.50" x2="632.9" y2="340.50"/><line x1="507.5" y1="347.90" x2="632.9" y2="347.90"/><line x1="507.5" y1="355.30" x2="632.9" y2="355.30"/><line x1="507.5" y1="362.70" x2="632.9" y2="362.70"/><line x1="507.5" y1="370.10" x2="632.9" y2="370.10"/><line x1="507.5" y1="377.50" x2="632.9" y2="377.50"/><line x1="507.5" y1="384.90" x2="632.9" y2="384.90"/><line x1="507.5" y1="392.30" x2="632.9" y2="392.30"/><line x1="507.5" y1="399.70" x2="632.9" y2="399.70"/><line x1="507.5" y1="407.10" x2="632.9" y2="407.10"/><line x1="507.5" y1="414.50" x2="632.9" y2="414.50"/><line x1="507.5" y1="421.90" x2="632.9" y2="421.90"/><line x1="507.5" y1="429.30" x2="632.9" y2="429.30"/><line x1="507.5" y1="436.70" x2="632.9" y2="436.70"/><line x1="507.5" y1="444.10" x2="632.9" y2="444.10"/><line x1="507.5" y1="451.50" x2="632.9" y2="451.50"/><line x1="507.5" y1="458.90" x2="632.9" y2="458.90"/><line x1="507.5" y1="466.30" x2="632.9" y2="466.30"/><line x1="507.5" y1="473.70" x2="632.9" y2="473.70"/><line x1="507.5" y1="481.10" x2="632.9" y2="481.10"/><line x1="507.5" y1="488.50" x2="632.9" y2="488.50"/><line x1="507.5" y1="495.90" x2="632.9" y2="495.90"/><line x1="507.5" y1="503.30" x2="632.9" y2="503.30"/><line x1="507.5" y1="510.70" x2="632.9" y2="510.70"/><line x1="507.5" y1="518.10" x2="632.9" y2="518.10"/><line x1="507.5" y1="525.50" x2="632.9" y2="525.50"/><line x1="507.5" y1="532.90" x2="632.9" y2="532.90"/><line x1="507.5" y1="540.30" x2="632.9" y2="540.30"/><line x1="527.47" y1="202.5" x2="527.47" y2="544.3"/><line x1="564.34" y1="202.5" x2="564.34" y2="544.3"/><line x1="601.21" y1="202.5" x2="601.21" y2="544.3"/></g><g stroke="#f1f1f1" stroke-width="0.5"><line x1="509.04" y1="202.5" x2="509.04" y2="544.3"/><line x1="545.90" y1="202.5" x2="545.90" y2="544.3"/><line x1="582.77" y1="202.5" x2="582.77" y2="544.3"/><line x1="619.64" y1="202.5" x2="619.64" y2="544.3"/></g><rect x="507.5" y="202.5" width="125.39999999999998" height="341.79999999999995" fill="none" stroke="#a8a8a8" stroke-width="0.7"/><g font-size="6.3" font-weight="bold" text-anchor="end" fill="#1a1a1a"><text x="504.6" y="209.55">Proteoglycans in cancer</text><text x="504.6" y="216.95">Amyotrophic lateral sclerosis</text><text x="504.6" y="224.35">Focal adhesion</text><text x="504.6" y="231.75">Tight junction</text><text x="504.6" y="239.15">Regulation of actin cytoskeleton</text><text x="504.6" y="246.55">Shigellosis</text><text x="504.6" y="253.95">Endocytosis</text><text x="504.6" y="261.35">Salmonella infection</text><text x="504.6" y="268.75">Vascular smooth muscle contraction</text><text x="504.6" y="276.15">Human cytomegalovirus infection</text><text x="504.6" y="283.55">Pathogenic Escherichia coli infection</text><text x="504.6" y="290.95">Thyroid hormone signaling pathway</text><text x="504.6" y="298.35">Spliceosome</text><text x="504.6" y="305.75">Human T−cell leukemia virus 1 infection</text><text x="504.6" y="313.15">Viral carcinogenesis</text><text x="504.6" y="320.55">Rap1 signaling pathway</text><text x="504.6" y="327.95">Platelet activation</text><text x="504.6" y="335.35">Hepatocellular carcinoma</text><text x="504.6" y="342.75">Spinocerebellar ataxia</text><text x="504.6" y="350.15">Insulin signaling pathway</text><text x="504.6" y="357.55">cGMP−PKG signaling pathway</text><text x="504.6" y="364.95">Estrogen signaling pathway</text><text x="504.6" y="372.35">Nucleocytoplasmic transport</text><text x="504.6" y="379.75">Leukocyte transendothelial migration</text><text x="504.6" y="387.15">Inflammatory mediator regulation of TRP channels</text><text x="504.6" y="394.55">ErbB signaling pathway</text><text x="504.6" y="401.95">Prostate cancer</text><text x="504.6" y="409.35">Progesterone−mediated oocyte maturation</text><text x="504.6" y="416.75">Parathyroid hormone synthesis, secretion and action</text><text x="504.6" y="424.15">Insulin resistance</text><text x="504.6" y="431.55">Gastric acid secretion</text><text x="504.6" y="438.95">Endocrine resistance</text><text x="504.6" y="446.35">Dilated cardiomyopathy</text><text x="504.6" y="453.75">Bacterial invasion of epithelial cells</text><text x="504.6" y="461.15">Arrhythmogenic right ventricular cardiomyopathy</text><text x="504.6" y="468.55">Adherens junction</text><text x="504.6" y="475.95">Viral life cycle − HIV−1</text><text x="504.6" y="483.35">Salivary secretion</text><text x="504.6" y="490.75">Non−small cell lung cancer</text><text x="504.6" y="498.15">GnRH signaling pathway</text><text x="504.6" y="505.55">Gap junction</text><text x="504.6" y="512.95">Long−term potentiation</text><text x="504.6" y="520.35">EGFR tyrosine kinase inhibitor resistance</text><text x="504.6" y="527.75">Chronic myeloid leukemia</text><text x="504.6" y="535.15">Endometrial cancer</text><text x="504.6" y="542.55">Aldosterone−regulated sodium reabsorption</text></g><g stroke="#333" stroke-width="0.5"><line x1="505.3" y1="207.30" x2="507.5" y2="207.30"/><line x1="505.3" y1="214.70" x2="507.5" y2="214.70"/><line x1="505.3" y1="222.10" x2="507.5" y2="222.10"/><line x1="505.3" y1="229.50" x2="507.5" y2="229.50"/><line x1="505.3" y1="236.90" x2="507.5" y2="236.90"/><line x1="505.3" y1="244.30" x2="507.5" y2="244.30"/><line x1="505.3" y1="251.70" x2="507.5" y2="251.70"/><line x1="505.3" y1="259.10" x2="507.5" y2="259.10"/><line x1="505.3" y1="266.50" x2="507.5" y2="266.50"/><line x1="505.3" y1="273.90" x2="507.5" y2="273.90"/><line x1="505.3" y1="281.30" x2="507.5" y2="281.30"/><line x1="505.3" y1="288.70" x2="507.5" y2="288.70"/><line x1="505.3" y1="296.10" x2="507.5" y2="296.10"/><line x1="505.3" y1="303.50" x2="507.5" y2="303.50"/><line x1="505.3" y1="310.90" x2="507.5" y2="310.90"/><line x1="505.3" y1="318.30" x2="507.5" y2="318.30"/><line x1="505.3" y1="325.70" x2="507.5" y2="325.70"/><line x1="505.3" y1="333.10" x2="507.5" y2="333.10"/><line x1="505.3" y1="340.50" x2="507.5" y2="340.50"/><line x1="505.3" y1="347.90" x2="507.5" y2="347.90"/><line x1="505.3" y1="355.30" x2="507.5" y2="355.30"/><line x1="505.3" y1="362.70" x2="507.5" y2="362.70"/><line x1="505.3" y1="370.10" x2="507.5" y2="370.10"/><line x1="505.3" y1="377.50" x2="507.5" y2="377.50"/><line x1="505.3" y1="384.90" x2="507.5" y2="384.90"/><line x1="505.3" y1="392.30" x2="507.5" y2="392.30"/><line x1="505.3" y1="399.70" x2="507.5" y2="399.70"/><line x1="505.3" y1="407.10" x2="507.5" y2="407.10"/><line x1="505.3" y1="414.50" x2="507.5" y2="414.50"/><line x1="505.3" y1="421.90" x2="507.5" y2="421.90"/><line x1="505.3" y1="429.30" x2="507.5" y2="429.30"/><line x1="505.3" y1="436.70" x2="507.5" y2="436.70"/><line x1="505.3" y1="444.10" x2="507.5" y2="444.10"/><line x1="505.3" y1="451.50" x2="507.5" y2="451.50"/><line x1="505.3" y1="458.90" x2="507.5" y2="458.90"/><line x1="505.3" y1="466.30" x2="507.5" y2="466.30"/><line x1="505.3" y1="473.70" x2="507.5" y2="473.70"/><line x1="505.3" y1="481.10" x2="507.5" y2="481.10"/><line x1="505.3" y1="488.50" x2="507.5" y2="488.50"/><line x1="505.3" y1="495.90" x2="507.5" y2="495.90"/><line x1="505.3" y1="503.30" x2="507.5" y2="503.30"/><line x1="505.3" y1="510.70" x2="507.5" y2="510.70"/><line x1="505.3" y1="518.10" x2="507.5" y2="518.10"/><line x1="505.3" y1="525.50" x2="507.5" y2="525.50"/><line x1="505.3" y1="532.90" x2="507.5" y2="532.90"/><line x1="505.3" y1="540.30" x2="507.5" y2="540.30"/></g><rect x="427.7" y="202.4" width="78.3" height="8.9" fill="none" stroke="#e0453f" stroke-width="0.7"/><rect x="406.2" y="218.1" width="99.8" height="22.1" fill="none" stroke="#e0453f" stroke-width="0.7"/><rect x="449" y="462.20" width="57" height="8.2" fill="none" stroke="#e0453f" stroke-width="0.7"/><rect x="463.7" y="499.20" width="42.3" height="8.2" fill="none" stroke="#e0453f" stroke-width="0.7"/><circle cx="627.6" cy="207.30" r="3.55" fill="#e53128"/><circle cx="623.4" cy="214.70" r="3.55" fill="#8fca3c"/><circle cx="619.8" cy="222.10" r="3.55" fill="#e2572a"/><circle cx="597" cy="229.50" r="3.2" fill="#a8c43b"/><circle cx="597" cy="236.90" r="3.2" fill="#7cc543"/><circle cx="592.9" cy="244.30" r="3.2" fill="#7cc543"/><circle cx="589.3" cy="251.70" r="3.2" fill="#7cc543"/><circle cx="577.7" cy="259.10" r="3.2" fill="#7cc543"/><circle cx="574" cy="266.50" r="3.2" fill="#b9b133"/><circle cx="574" cy="273.90" r="3.2" fill="#7cc543"/><circle cx="569.9" cy="281.30" r="3.2" fill="#7cc543"/><circle cx="566.3" cy="288.70" r="3.2" fill="#b4b236"/><circle cx="566.5" cy="296.10" r="2.85" fill="#9ccb3d"/><circle cx="566.5" cy="303.50" r="2.85" fill="#7cc543"/><circle cx="562.7" cy="310.90" r="2.85" fill="#7cc543"/><circle cx="562.7" cy="318.30" r="2.85" fill="#7cc543"/><circle cx="562.7" cy="325.70" r="2.85" fill="#a6c53b"/><circle cx="558.5" cy="333.10" r="2.85" fill="#7cc543"/><circle cx="551.1" cy="340.50" r="2.85" fill="#7cc543"/><circle cx="551.1" cy="347.90" r="2.85" fill="#7cc543"/><circle cx="551.1" cy="355.30" r="2.85" fill="#7cc543"/><circle cx="547.3" cy="362.70" r="2.85" fill="#7cc543"/><circle cx="543.3" cy="370.10" r="2.85" fill="#7cc543"/><circle cx="543.3" cy="377.50" r="2.85" fill="#7cc543"/><circle cx="543.3" cy="384.90" r="2.85" fill="#7cc543"/><circle cx="539.5" cy="392.30" r="2.85" fill="#7cc543"/><circle cx="535.9" cy="399.70" r="2.85" fill="#7cc543"/><circle cx="535.9" cy="407.10" r="2.5" fill="#7cc543"/><circle cx="535.9" cy="414.50" r="2.5" fill="#7cc543"/><circle cx="535.9" cy="421.90" r="2.5" fill="#7cc543"/><circle cx="535.9" cy="429.30" r="2.5" fill="#7cc543"/><circle cx="535.9" cy="436.70" r="2.5" fill="#7cc543"/><circle cx="535.9" cy="444.10" r="2.5" fill="#7cc543"/><circle cx="535.9" cy="451.50" r="2.5" fill="#7cc543"/><circle cx="535.9" cy="458.90" r="2.5" fill="#7cc543"/><circle cx="535.9" cy="466.30" r="2.5" fill="#7cc543"/><circle cx="531.9" cy="473.70" r="2.5" fill="#7cc543"/><circle cx="531.9" cy="481.10" r="2.5" fill="#7cc543"/><circle cx="531.9" cy="488.50" r="2.5" fill="#7cc543"/><circle cx="531.9" cy="495.90" r="2.5" fill="#7cc543"/><circle cx="531.9" cy="503.30" r="2.5" fill="#7cc543"/><circle cx="528.3" cy="510.70" r="2.5" fill="#7cc543"/><circle cx="528.3" cy="518.10" r="2.5" fill="#7cc543"/><circle cx="528.3" cy="525.50" r="2.5" fill="#7cc543"/><circle cx="524.1" cy="532.90" r="2.5" fill="#7cc543"/><circle cx="513" cy="540.30" r="1.7" fill="#7cc543"/><line x1="527.47" y1="544.3" x2="527.47" y2="546.3" stroke="#333" stroke-width="0.5"/><text x="527.47" y="551.8" font-size="7" font-weight="bold" text-anchor="middle" fill="#222">1</text><line x1="564.34" y1="544.3" x2="564.34" y2="546.3" stroke="#333" stroke-width="0.5"/><text x="564.34" y="551.8" font-size="7" font-weight="bold" text-anchor="middle" fill="#222">2</text><line x1="601.21" y1="544.3" x2="601.21" y2="546.3" stroke="#333" stroke-width="0.5"/><text x="601.21" y="551.8" font-size="7" font-weight="bold" text-anchor="middle" fill="#222">3</text><text x="641" y="327.6" font-size="6.3" font-weight="bold" fill="#1a1a1a">−log<tspan font-size="4.2" dy="1.2">10</tspan><tspan dy="-1.2">(pvalue)</tspan></text><defs><linearGradient id="cbc" x1="0" y1="0" x2="0" y2="1"><stop offset="0" stop-color="#ee2a22"/><stop offset="0.3" stop-color="#dd6a28"/><stop offset="0.6" stop-color="#b0a833"/><stop offset="1" stop-color="#74c83f"/></linearGradient></defs><rect x="642" y="332.3" width="8.7" height="45.3" fill="url(#cbc)"/><line x1="642" y1="343.8" x2="643.5" y2="343.8" stroke="#fff" stroke-width="0.4"/><line x1="649.2" y1="343.8" x2="650.7" y2="343.8" stroke="#fff" stroke-width="0.4"/><text x="653.8" y="346.0" font-size="6.3" font-weight="bold" fill="#1a1a1a">7</text><line x1="642" y1="356.1" x2="643.5" y2="356.1" stroke="#fff" stroke-width="0.4"/><line x1="649.2" y1="356.1" x2="650.7" y2="356.1" stroke="#fff" stroke-width="0.4"/><text x="653.8" y="358.3" font-size="6.3" font-weight="bold" fill="#1a1a1a">5</text><line x1="642" y1="367.6" x2="643.5" y2="367.6" stroke="#fff" stroke-width="0.4"/><line x1="649.2" y1="367.6" x2="650.7" y2="367.6" stroke="#fff" stroke-width="0.4"/><text x="653.8" y="369.8" font-size="6.3" font-weight="bold" fill="#1a1a1a">3</text><text x="642" y="394.4" font-size="6.3" font-weight="bold" fill="#1a1a1a">count</text><circle cx="646.1" cy="402.6" r="2.0" fill="#111"/><text x="653.8" y="404.8" font-size="6.3" font-weight="bold" fill="#1a1a1a">10</text><circle cx="646.1" cy="411.7" r="2.7" fill="#111"/><text x="653.8" y="413.9" font-size="6.3" font-weight="bold" fill="#1a1a1a">20</text><circle cx="646.1" cy="420.9" r="3.3" fill="#111"/><text x="653.8" y="423.09999999999997" font-size="6.3" font-weight="bold" fill="#1a1a1a">30</text><text x="1.45" y="464.4" font-size="15.8" font-weight="bold" fill="#111">D</text><line x1="57.9" y1="451.7" x2="57.9" y2="563.4" stroke="#333" stroke-width="0.8"/><line x1="57.9" y1="563.0" x2="319.7" y2="563.0" stroke="#333" stroke-width="0.8"/><line x1="54.5" y1="563.4" x2="57.9" y2="563.4" stroke="#333" stroke-width="0.8"/><text x="54.4" y="567.0" font-size="10" font-weight="bold" text-anchor="end" fill="#111">0</text><line x1="54.5" y1="528.9" x2="57.9" y2="528.9" stroke="#333" stroke-width="0.8"/><text x="54.4" y="532.5" font-size="10" font-weight="bold" text-anchor="end" fill="#111">5</text><line x1="54.5" y1="494.4" x2="57.9" y2="494.4" stroke="#333" stroke-width="0.8"/><text x="54.4" y="498.0" font-size="10" font-weight="bold" text-anchor="end" fill="#111">10</text><line x1="54.5" y1="459.9" x2="57.9" y2="459.9" stroke="#333" stroke-width="0.8"/><text x="54.4" y="463.5" font-size="10" font-weight="bold" text-anchor="end" fill="#111">15</text><text transform="translate(40.2,503) rotate(-90)" font-size="7" font-weight="bold" text-anchor="middle" textLength="53.8" lengthAdjust="spacingAndGlyphs" fill="#1a1a1a">Fold Enrichment</text><rect x="62.60" y="454.7" width="6.3" height="107.90" fill="#52a97f"/><line x1="65.75" y1="563.4" x2="65.75" y2="565.4" stroke="#333" stroke-width="0.5"/><rect x="70.50" y="454.7" width="6.3" height="107.90" fill="#52a97f"/><line x1="73.65" y1="563.4" x2="73.65" y2="565.4" stroke="#333" stroke-width="0.5"/><rect x="78.40" y="454.7" width="6.3" height="107.90" fill="#52a97f"/><line x1="81.55" y1="563.4" x2="81.55" y2="565.4" stroke="#333" stroke-width="0.5"/><rect x="86.30" y="476.2" width="6.3" height="86.40" fill="#52a97f"/><line x1="89.45" y1="563.4" x2="89.45" y2="565.4" stroke="#333" stroke-width="0.5"/><rect x="94.20" y="476.2" width="6.3" height="86.40" fill="#52a97f"/><line x1="97.35" y1="563.4" x2="97.35" y2="565.4" stroke="#333" stroke-width="0.5"/><rect x="102.10" y="476.2" width="6.3" height="86.40" fill="#52a97f"/><line x1="105.25" y1="563.4" x2="105.25" y2="565.4" stroke="#333" stroke-width="0.5"/><rect x="110.00" y="490.7" width="6.3" height="71.90" fill="#52a97f"/><line x1="113.15" y1="563.4" x2="113.15" y2="565.4" stroke="#333" stroke-width="0.5"/><rect x="117.90" y="490.7" width="6.3" height="71.90" fill="#52a97f"/><line x1="121.05" y1="563.4" x2="121.05" y2="565.4" stroke="#333" stroke-width="0.5"/><rect x="125.80" y="507" width="6.3" height="55.60" fill="#52a97f"/><line x1="128.95" y1="563.4" x2="128.95" y2="565.4" stroke="#333" stroke-width="0.5"/><rect x="133.70" y="537.6" width="6.3" height="25.00" fill="#52a97f"/><line x1="136.85" y1="563.4" x2="136.85" y2="565.4" stroke="#333" stroke-width="0.5"/><rect x="150.30" y="451.9" width="5.9" height="110.70" fill="#cd5f2b"/><line x1="153.25" y1="563.4" x2="153.25" y2="565.4" stroke="#333" stroke-width="0.5"/><rect x="158.15" y="451.9" width="5.9" height="110.70" fill="#cd5f2b"/><line x1="161.10" y1="563.4" x2="161.10" y2="565.4" stroke="#333" stroke-width="0.5"/><rect x="166.00" y="464.1" width="5.9" height="98.50" fill="#cd5f2b"/><line x1="168.95" y1="563.4" x2="168.95" y2="565.4" stroke="#333" stroke-width="0.5"/><rect x="173.85" y="478" width="5.9" height="84.60" fill="#cd5f2b"/><line x1="176.80" y1="563.4" x2="176.80" y2="565.4" stroke="#333" stroke-width="0.5"/><rect x="181.70" y="478" width="5.9" height="84.60" fill="#cd5f2b"/><line x1="184.65" y1="563.4" x2="184.65" y2="565.4" stroke="#333" stroke-width="0.5"/><rect x="189.55" y="480.5" width="5.9" height="82.10" fill="#cd5f2b"/><line x1="192.50" y1="563.4" x2="192.50" y2="565.4" stroke="#333" stroke-width="0.5"/><rect x="197.40" y="480.5" width="5.9" height="82.10" fill="#cd5f2b"/><line x1="200.35" y1="563.4" x2="200.35" y2="565.4" stroke="#333" stroke-width="0.5"/><rect x="205.25" y="488.8" width="5.9" height="73.80" fill="#cd5f2b"/><line x1="208.20" y1="563.4" x2="208.20" y2="565.4" stroke="#333" stroke-width="0.5"/><rect x="213.10" y="491" width="5.9" height="71.60" fill="#cd5f2b"/><line x1="216.05" y1="563.4" x2="216.05" y2="565.4" stroke="#333" stroke-width="0.5"/><rect x="220.95" y="495.2" width="5.9" height="67.40" fill="#cd5f2b"/><line x1="223.90" y1="563.4" x2="223.90" y2="565.4" stroke="#333" stroke-width="0.5"/><rect x="237.10" y="489.9" width="6.2" height="72.70" fill="#6670b0"/><line x1="240.20" y1="563.4" x2="240.20" y2="565.4" stroke="#333" stroke-width="0.5"/><rect x="245.05" y="507.4" width="6.2" height="55.20" fill="#6670b0"/><line x1="248.15" y1="563.4" x2="248.15" y2="565.4" stroke="#333" stroke-width="0.5"/><rect x="253.00" y="511.6" width="6.2" height="51.00" fill="#6670b0"/><line x1="256.10" y1="563.4" x2="256.10" y2="565.4" stroke="#333" stroke-width="0.5"/><rect x="260.95" y="511.6" width="6.2" height="51.00" fill="#6670b0"/><line x1="264.05" y1="563.4" x2="264.05" y2="565.4" stroke="#333" stroke-width="0.5"/><rect x="268.90" y="511.6" width="6.2" height="51.00" fill="#6670b0"/><line x1="272.00" y1="563.4" x2="272.00" y2="565.4" stroke="#333" stroke-width="0.5"/><rect x="276.85" y="514.9" width="6.2" height="47.70" fill="#6670b0"/><line x1="279.95" y1="563.4" x2="279.95" y2="565.4" stroke="#333" stroke-width="0.5"/><rect x="284.80" y="516" width="6.2" height="46.60" fill="#6670b0"/><line x1="287.90" y1="563.4" x2="287.90" y2="565.4" stroke="#333" stroke-width="0.5"/><rect x="292.75" y="531.3" width="6.2" height="31.30" fill="#6670b0"/><line x1="295.85" y1="563.4" x2="295.85" y2="565.4" stroke="#333" stroke-width="0.5"/><rect x="300.70" y="533.2" width="6.2" height="29.40" fill="#6670b0"/><line x1="303.80" y1="563.4" x2="303.80" y2="565.4" stroke="#333" stroke-width="0.5"/><rect x="308.65" y="537.6" width="6.2" height="25.00" fill="#6670b0"/><line x1="311.75" y1="563.4" x2="311.75" y2="565.4" stroke="#333" stroke-width="0.5"/><path d="M62.2,563.4 L141,563.4 L103,692.5 L20.1,692.5Z" fill="none" stroke="#9ed8c2" stroke-width="0.6"/><path d="M149.8,563.4 L226.7,563.4 L190.6,693 L111,693Z" fill="none" stroke="#f1b69c" stroke-width="0.6"/><path d="M236,563.4 L314.7,563.4 L276.9,693.2 L200.2,693.2Z" fill="none" stroke="#b1b6e3" stroke-width="0.6"/><g><text transform="translate(67.25,566.3) rotate(-73.5)" text-anchor="end" font-weight="bold" font-size="4.8" fill="#e8262a">desmosome assembly</text><text transform="translate(75.15,566.3) rotate(-73.5)" text-anchor="end" font-weight="bold" font-size="4.8" fill="#e8262a">positive regulation of extracellular matrix organization</text><text transform="translate(83.05,566.3) rotate(-73.5)" text-anchor="end" font-weight="normal" font-size="5.0" fill="#333">oncogene-induced cell senescence</text><text transform="translate(90.95,566.3) rotate(-73.5)" text-anchor="end" font-weight="normal" font-size="5.0" fill="#333">mesenchymal cell proliferation involved in lung development</text><text transform="translate(98.85,566.3) rotate(-73.5)" text-anchor="end" font-weight="normal" font-size="5.0" fill="#333">positive regulation of protein localization to cell cortex</text><text transform="translate(106.75,566.3) rotate(-73.5)" text-anchor="end" font-weight="normal" font-size="5.0" fill="#333">protein retention in Golgi apparatus</text><text transform="translate(114.65,566.3) rotate(-73.5)" text-anchor="end" font-weight="bold" font-size="4.8" fill="#e8262a">hemidesmosome assembly</text><text transform="translate(122.55,566.3) rotate(-73.5)" text-anchor="end" font-weight="bold" font-size="4.8" fill="#e8262a">desmosome organization</text><text transform="translate(130.45,566.3) rotate(-73.5)" text-anchor="end" font-weight="bold" font-size="4.8" fill="#e8262a">epithelial cell-cell adhesion</text><text transform="translate(138.35,566.3) rotate(-73.5)" text-anchor="end" font-weight="bold" font-size="4.8" fill="#e8262a">focal adhesion assembly</text><text transform="translate(154.75,566.3) rotate(-73.5)" text-anchor="end" font-weight="normal" font-size="5.0" fill="#333">senescence-associated heterochromatin focus</text><text transform="translate(162.60,566.3) rotate(-73.5)" text-anchor="end" font-weight="normal" font-size="5.0" fill="#333">muscle thin filament tropomyosin</text><text transform="translate(170.45,566.3) rotate(-73.5)" text-anchor="end" font-weight="normal" font-size="5.0" fill="#333">cyclin/CDK positive transcription elongation factor complex</text><text transform="translate(178.30,566.3) rotate(-73.5)" text-anchor="end" font-weight="normal" font-size="5.0" fill="#333">tip of polarized growth</text><text transform="translate(186.15,566.3) rotate(-73.5)" text-anchor="end" font-weight="bold" font-size="4.8" fill="#e8262a">hemidesmosome</text><text transform="translate(194.00,566.3) rotate(-73.5)" text-anchor="end" font-weight="normal" font-size="5.0" fill="#333">costamere</text><text transform="translate(201.85,566.3) rotate(-73.5)" text-anchor="end" font-weight="bold" font-size="4.8" fill="#e8262a">zonula adherens</text><text transform="translate(209.70,566.3) rotate(-73.5)" text-anchor="end" font-weight="normal" font-size="5.0" fill="#333">spectrin-associated cytoskeleton</text><text transform="translate(217.55,566.3) rotate(-73.5)" text-anchor="end" font-weight="bold" font-size="4.8" fill="#e8262a">podosome</text><text transform="translate(225.40,566.3) rotate(-73.5)" text-anchor="end" font-weight="normal" font-size="5.0" fill="#333">cAMP-dependent protein kinase complex</text><text transform="translate(241.70,566.3) rotate(-73.5)" text-anchor="end" font-weight="normal" font-size="5.0" fill="#333">RNA polymerase II C-terminal domain binding</text><text transform="translate(249.65,566.3) rotate(-73.5)" text-anchor="end" font-weight="normal" font-size="5.0" fill="#333">protein kinase A catalytic subunit binding</text><text transform="translate(257.60,566.3) rotate(-73.5)" text-anchor="end" font-weight="bold" font-size="4.8" fill="#e8262a">vinculin binding</text><text transform="translate(265.55,566.3) rotate(-73.5)" text-anchor="end" font-weight="normal" font-size="5.0" fill="#333">calcium-dependent protein kinase C activity</text><text transform="translate(273.50,566.3) rotate(-73.5)" text-anchor="end" font-weight="normal" font-size="5.0" fill="#333">profilin binding</text><text transform="translate(281.45,566.3) rotate(-73.5)" text-anchor="end" font-weight="normal" font-size="5.0" fill="#333">protein kinase C activity</text><text transform="translate(289.40,566.3) rotate(-73.5)" text-anchor="end" font-weight="normal" font-size="5.0" fill="#333">AT DNA binding</text><text transform="translate(297.35,566.3) rotate(-73.5)" text-anchor="end" font-weight="normal" font-size="5.0" fill="#333">translation factor activity, RNA binding</text><text transform="translate(305.30,566.3) rotate(-73.5)" text-anchor="end" font-weight="bold" font-size="4.8" fill="#e8262a">cadherin binding</text><text transform="translate(313.25,566.3) rotate(-73.5)" text-anchor="end" font-weight="bold" font-size="4.8" fill="#e8262a">focal adhesion assembly</text></g><rect x="293.4" y="456.3" width="10.3" height="3.4" fill="#52a97f"/><text x="307.8" y="460.5" font-size="7.2" font-weight="bold" fill="#111">BP</text><rect x="293.4" y="463.3" width="10.3" height="3.4" fill="#cd5f2b"/><text x="307.8" y="467.5" font-size="7.2" font-weight="bold" fill="#111">CC</text><rect x="293.4" y="470.5" width="10.3" height="3.4" fill="#6670b0"/><text x="307.8" y="474.7" font-size="7.2" font-weight="bold" fill="#111">MF</text><text x="352.55" y="562.7" font-size="15.8" font-weight="bold" fill="#111">E</text><g stroke="#ececec" stroke-width="0.6"><line x1="421.97" y1="590.6" x2="421.97" y2="667.5"/><line x1="421.97" y1="698.4" x2="421.97" y2="743.9"/><line x1="454.43" y1="590.6" x2="454.43" y2="667.5"/><line x1="454.43" y1="698.4" x2="454.43" y2="743.9"/><line x1="486.89" y1="590.6" x2="486.89" y2="667.5"/><line x1="486.89" y1="698.4" x2="486.89" y2="743.9"/><line x1="519.36" y1="590.6" x2="519.36" y2="667.5"/><line x1="519.36" y1="698.4" x2="519.36" y2="743.9"/><line x1="551.83" y1="590.6" x2="551.83" y2="667.5"/><line x1="551.83" y1="698.4" x2="551.83" y2="743.9"/><line x1="584.29" y1="590.6" x2="584.29" y2="667.5"/><line x1="584.29" y1="698.4" x2="584.29" y2="743.9"/><line x1="616.75" y1="590.6" x2="616.75" y2="667.5"/><line x1="616.75" y1="698.4" x2="616.75" y2="743.9"/><line x1="649.22" y1="590.6" x2="649.22" y2="667.5"/><line x1="649.22" y1="698.4" x2="649.22" y2="743.9"/></g><line x1="389.7" y1="590.6" x2="389.7" y2="743.9" stroke="#444" stroke-width="0.8"/><line x1="389.7" y1="743.9" x2="659.7" y2="743.9" stroke="#444" stroke-width="0.8"/><line x1="387.7" y1="613.20" x2="389.7" y2="613.20" stroke="#444" stroke-width="0.6"/><text x="388.5" y="615.60" font-size="7" text-anchor="end" fill="#6a6a6a">0.2</text><line x1="387.7" y1="636.20" x2="389.7" y2="636.20" stroke="#444" stroke-width="0.6"/><text x="388.5" y="638.60" font-size="7" text-anchor="end" fill="#6a6a6a">0.1</text><line x1="387.7" y1="659.20" x2="389.7" y2="659.20" stroke="#444" stroke-width="0.6"/><text x="388.5" y="661.60" font-size="7" text-anchor="end" fill="#6a6a6a">0.0</text><text transform="translate(378.6,624.4) rotate(-90)" font-size="6.8" font-weight="bold" text-anchor="middle" fill="#222">Running Enrichment Score</text><text x="392.1" y="590.2" font-size="8.8" font-weight="bold" fill="#111">epithelial to mesenchymal transition</text><path d="M390.40,633.70 L391.40,634.50 L391.40,619.40 L392.50,620.28 L392.50,608.50 L395.30,610.74 L395.30,601.00 L400.10,604.84 L400.10,595.50 L411.70,604.78 L411.70,598.30 L424.90,608.86 L424.90,605.10 L430.40,609.50 L430.40,604.00 L431.50,604.88 L431.50,603.00 L432.60,603.88 L432.60,602.00 L434.30,603.36 L434.30,594.90 L441.30,600.50 L441.30,595.90 L446.80,600.30 L446.80,595.50 L450.50,598.46 L450.50,595.60 L454.40,598.72 L454.40,594.90 L461.70,600.74 L461.70,594.90 L469.80,601.38 L469.80,598.00 L471.50,599.36 L471.50,597.90 L481.40,605.82 L481.40,602.90 L489.50,609.38 L489.50,607.00 L502.60,617.48 L502.60,614.09 L503.70,614.97 L503.70,614.69 L505.20,615.89 L505.20,615.50 L509.20,618.70 L509.20,617.68 L513.60,621.20 L513.60,620.08 L518.60,624.08 L518.60,622.80 L521.90,625.44 L521.90,624.60 L528.80,630.12 L528.80,628.36 L530.90,630.04 L530.90,629.50 L532.00,630.38 L532.00,630.10 L537.50,634.50 L537.50,633.09 L545.80,639.73 L545.80,637.60 L546.70,638.32 L546.70,638.09 L551.70,642.09 L551.70,640.81 L559.40,646.97 L559.40,645.00 L566.60,650.76 L566.60,648.15 L573.20,653.43 L573.20,651.04 L586.80,661.92 L586.80,657.00 L589.60,659.24 L589.60,657.00 L595.50,661.72 L595.50,652.60 L596.60,653.48 L596.60,652.69 L602.80,657.65 L602.80,653.20 L610.40,659.28 L610.40,654.17 L614.60,657.53 L614.60,654.70 L621.80,660.46 L621.80,656.00 L632.30,664.40 L632.30,657.60 L641.10,664.64 L641.10,656.00 L645.90,659.84 L645.90,654.70 L650.70,658.54 L650.70,648.20 L659.80,655.48" fill="none" stroke="#73c644" stroke-width="1.5" stroke-linejoin="round"/><rect x="610.1" y="591.1" width="23.4" height="9" fill="#d9d9d9"/><rect x="635" y="591.1" width="27.7" height="9" fill="#d9d9d9"/><rect x="610.1" y="600.1" width="23.4" height="10.2" fill="#f0f0f0"/><rect x="635" y="600.1" width="27.7" height="10.2" fill="#e6e6e6"/><g font-size="6.2" fill="#1a1a1a" text-anchor="middle"><text x="621.8" y="598.1">pvalue</text><text x="648.8" y="598.1">p.adjust</text><text x="621.8" y="607.7">0.0385</text><text x="648.8" y="607.7">0.0985</text></g><line x1="391.4" y1="668.1" x2="391.4" y2="689.6" stroke="#222" stroke-width="0.7"/><line x1="392.5" y1="668.1" x2="392.5" y2="689.6" stroke="#222" stroke-width="0.7"/><line x1="395.3" y1="668.1" x2="395.3" y2="689.6" stroke="#222" stroke-width="0.7"/><line x1="400.1" y1="668.1" x2="400.1" y2="689.6" stroke="#8a8a8a" stroke-width="0.7"/><line x1="411.7" y1="668.1" x2="411.7" y2="689.6" stroke="#8a8a8a" stroke-width="0.7"/><line x1="424.9" y1="668.1" x2="424.9" y2="689.6" stroke="#222" stroke-width="0.7"/><line x1="430.4" y1="668.1" x2="430.4" y2="689.6" stroke="#222" stroke-width="0.7"/><line x1="431.5" y1="668.1" x2="431.5" y2="689.6" stroke="#8a8a8a" stroke-width="0.7"/><line x1="432.6" y1="668.1" x2="432.6" y2="689.6" stroke="#222" stroke-width="0.7"/><line x1="434.3" y1="668.1" x2="434.3" y2="689.6" stroke="#222" stroke-width="0.7"/><line x1="441.3" y1="668.1" x2="441.3" y2="689.6" stroke="#8a8a8a" stroke-width="0.7"/><line x1="446.8" y1="668.1" x2="446.8" y2="689.6" stroke="#222" stroke-width="0.7"/><line x1="450.5" y1="668.1" x2="450.5" y2="689.6" stroke="#8a8a8a" stroke-width="0.7"/><line x1="454.4" y1="668.1" x2="454.4" y2="689.6" stroke="#222" stroke-width="0.7"/><line x1="461.7" y1="668.1" x2="461.7" y2="689.6" stroke="#8a8a8a" stroke-width="0.7"/><line x1="469.8" y1="668.1" x2="469.8" y2="689.6" stroke="#222" stroke-width="0.7"/><line x1="471.5" y1="668.1" x2="471.5" y2="689.6" stroke="#8a8a8a" stroke-width="0.7"/><line x1="481.4" y1="668.1" x2="481.4" y2="689.6" stroke="#8a8a8a" stroke-width="0.7"/><line x1="489.5" y1="668.1" x2="489.5" y2="689.6" stroke="#222" stroke-width="0.7"/><line x1="502.6" y1="668.1" x2="502.6" y2="689.6" stroke="#8a8a8a" stroke-width="0.7"/><line x1="503.7" y1="668.1" x2="503.7" y2="689.6" stroke="#8a8a8a" stroke-width="0.7"/><line x1="505.2" y1="668.1" x2="505.2" y2="689.6" stroke="#222" stroke-width="0.7"/><line x1="509.2" y1="668.1" x2="509.2" y2="689.6" stroke="#8a8a8a" stroke-width="0.7"/><line x1="513.6" y1="668.1" x2="513.6" y2="689.6" stroke="#222" stroke-width="0.7"/><line x1="518.6" y1="668.1" x2="518.6" y2="689.6" stroke="#222" stroke-width="0.7"/><line x1="521.9" y1="668.1" x2="521.9" y2="689.6" stroke="#222" stroke-width="0.7"/><line x1="528.8" y1="668.1" x2="528.8" y2="689.6" stroke="#8a8a8a" stroke-width="0.7"/><line x1="530.9" y1="668.1" x2="530.9" y2="689.6" stroke="#222" stroke-width="0.7"/><line x1="532" y1="668.1" x2="532" y2="689.6" stroke="#8a8a8a" stroke-width="0.7"/><line x1="537.5" y1="668.1" x2="537.5" y2="689.6" stroke="#8a8a8a" stroke-width="0.7"/><line x1="545.8" y1="668.1" x2="545.8" y2="689.6" stroke="#8a8a8a" stroke-width="0.7"/><line x1="546.7" y1="668.1" x2="546.7" y2="689.6" stroke="#8a8a8a" stroke-width="0.7"/><line x1="551.7" y1="668.1" x2="551.7" y2="689.6" stroke="#222" stroke-width="0.7"/><line x1="559.4" y1="668.1" x2="559.4" y2="689.6" stroke="#8a8a8a" stroke-width="0.7"/><line x1="566.6" y1="668.1" x2="566.6" y2="689.6" stroke="#222" stroke-width="0.7"/><line x1="573.2" y1="668.1" x2="573.2" y2="689.6" stroke="#8a8a8a" stroke-width="0.7"/><line x1="586.8" y1="668.1" x2="586.8" y2="689.6" stroke="#8a8a8a" stroke-width="0.7"/><line x1="589.6" y1="668.1" x2="589.6" y2="689.6" stroke="#222" stroke-width="0.7"/><line x1="595.5" y1="668.1" x2="595.5" y2="689.6" stroke="#222" stroke-width="0.7"/><line x1="596.6" y1="668.1" x2="596.6" y2="689.6" stroke="#222" stroke-width="0.7"/><line x1="602.8" y1="668.1" x2="602.8" y2="689.6" stroke="#8a8a8a" stroke-width="0.7"/><line x1="610.4" y1="668.1" x2="610.4" y2="689.6" stroke="#222" stroke-width="0.7"/><line x1="614.6" y1="668.1" x2="614.6" y2="689.6" stroke="#8a8a8a" stroke-width="0.7"/><line x1="621.8" y1="668.1" x2="621.8" y2="689.6" stroke="#222" stroke-width="0.7"/><line x1="632.3" y1="668.1" x2="632.3" y2="689.6" stroke="#222" stroke-width="0.7"/><line x1="641.1" y1="668.1" x2="641.1" y2="689.6" stroke="#222" stroke-width="0.7"/><line x1="645.9" y1="668.1" x2="645.9" y2="689.6" stroke="#222" stroke-width="0.7"/><line x1="650.7" y1="668.1" x2="650.7" y2="689.6" stroke="#222" stroke-width="0.7"/><rect x="390" y="689.6" width="9.60" height="8.8" fill="#cf3a2a"/><rect x="398.6" y="689.6" width="41.50" height="8.8" fill="#e26453"/><rect x="439.1" y="689.6" width="21.80" height="8.8" fill="#eba08f"/><rect x="459.9" y="689.6" width="43.70" height="8.8" fill="#f5e1d7"/><rect x="502.6" y="689.6" width="29.40" height="8.8" fill="#e9eef6"/><rect x="531" y="689.6" width="29.40" height="8.8" fill="#bcd5e5"/><rect x="559.4" y="689.6" width="40.40" height="8.8" fill="#7aaed2"/><rect x="598.8" y="689.6" width="21.20" height="8.8" fill="#4f82b9"/><rect x="619" y="689.6" width="40.70" height="8.8" fill="#3a5ba2"/><path d="M390,721.7 L390.0,704.90 L391.0,709.10 L393.0,712.60 L397.0,714.35 L405.0,715.75 L420.0,716.94 L440.0,717.85 L470.0,718.90 L500.0,719.74 L530.0,720.51 L560.0,721.35 L585.0,722.26 L610.0,723.10 L630.0,724.15 L645.0,725.90 L652.0,728.00 L656.0,732.20 L658.0,737.10 L659.5,742.00 L659.5,721.7Z" fill="#c4c4c4"/><line x1="387.7" y1="707.70" x2="389.7" y2="707.70" stroke="#444" stroke-width="0.6"/><text transform="translate(388.5,707.70) rotate(-90)" font-size="7" text-anchor="middle" fill="#6a6a6a">2</text><line x1="387.7" y1="721.70" x2="389.7" y2="721.70" stroke="#444" stroke-width="0.6"/><text transform="translate(388.5,721.70) rotate(-90)" font-size="7" text-anchor="middle" fill="#6a6a6a">0</text><line x1="387.7" y1="735.70" x2="389.7" y2="735.70" stroke="#444" stroke-width="0.6"/><text transform="translate(388.5,735.70) rotate(-90)" font-size="7" text-anchor="middle" fill="#6a6a6a">-2</text><text transform="translate(380,713.8) rotate(-90)" font-size="6.9" font-weight="bold" text-anchor="middle" fill="#222">Ranked list metric</text><line x1="454.43" y1="743.9" x2="454.43" y2="745.8" stroke="#444" stroke-width="0.6"/><text x="454.43" y="750.9" font-size="6.8" text-anchor="middle" fill="#6a6a6a">500</text><line x1="519.36" y1="743.9" x2="519.36" y2="745.8" stroke="#444" stroke-width="0.6"/><text x="519.36" y="750.9" font-size="6.8" text-anchor="middle" fill="#6a6a6a">1000</text><line x1="584.29" y1="743.9" x2="584.29" y2="745.8" stroke="#444" stroke-width="0.6"/><text x="584.29" y="750.9" font-size="6.8" text-anchor="middle" fill="#6a6a6a">1500</text><line x1="649.22" y1="743.9" x2="649.22" y2="745.8" stroke="#444" stroke-width="0.6"/><text x="649.22" y="750.9" font-size="6.8" text-anchor="middle" fill="#6a6a6a">2000</text><text x="524.7" y="756.9" font-size="5.6" text-anchor="middle" fill="#222">Rank in Ordered Dataset</text><text x="1.45" y="765.4" font-size="15.8" font-weight="bold" fill="#111">F</text><rect x="82.00" y="744.90" width="27.77" height="8.64" fill="#ee2a20"/><rect x="108.77" y="744.90" width="27.77" height="8.64" fill="#eb4a22"/><rect x="135.53" y="744.90" width="27.77" height="8.64" fill="#ea6c25"/><rect x="162.30" y="744.90" width="27.77" height="8.64" fill="#a452a9"/><rect x="189.07" y="744.90" width="27.77" height="8.64" fill="#8e49a5"/><rect x="215.83" y="744.90" width="26.77" height="8.64" fill="#8e49a5"/><rect x="82.00" y="752.54" width="27.77" height="8.64" fill="#e95b24"/><rect x="108.77" y="752.54" width="27.77" height="8.64" fill="#e89b30"/><rect x="135.53" y="752.54" width="27.77" height="8.64" fill="#e97b28"/><rect x="162.30" y="752.54" width="27.77" height="8.64" fill="#6f41a0"/><rect x="189.07" y="752.54" width="27.77" height="8.64" fill="#6f41a0"/><rect x="215.83" y="752.54" width="26.77" height="8.64" fill="#6b41a1"/><rect x="82.00" y="760.19" width="27.77" height="8.64" fill="#e98b2d"/><rect x="108.77" y="760.19" width="27.77" height="8.64" fill="#e97028"/><rect x="135.53" y="760.19" width="27.77" height="8.64" fill="#def048"/><rect x="162.30" y="760.19" width="27.77" height="8.64" fill="#5240a0"/><rect x="189.07" y="760.19" width="27.77" height="8.64" fill="#5a40a0"/><rect x="215.83" y="760.19" width="26.77" height="8.64" fill="#6a41a1"/><rect x="82.00" y="767.83" width="27.77" height="8.64" fill="#d7ef4a"/><rect x="108.77" y="767.83" width="27.77" height="8.64" fill="#d3ec48"/><rect x="135.53" y="767.83" width="27.77" height="8.64" fill="#cbe946"/><rect x="162.30" y="767.83" width="27.77" height="8.64" fill="#3151a2"/><rect x="189.07" y="767.83" width="27.77" height="8.64" fill="#3151a2"/><rect x="215.83" y="767.83" width="26.77" height="8.64" fill="#3151a2"/><rect x="82.00" y="775.47" width="27.77" height="8.64" fill="#e8a231"/><rect x="108.77" y="775.47" width="27.77" height="8.64" fill="#88d03f"/><rect x="135.53" y="775.47" width="27.77" height="8.64" fill="#dbee48"/><rect x="162.30" y="775.47" width="27.77" height="8.64" fill="#3050a1"/><rect x="189.07" y="775.47" width="27.77" height="8.64" fill="#3050a1"/><rect x="215.83" y="775.47" width="26.77" height="8.64" fill="#3050a1"/><rect x="82.00" y="783.11" width="27.77" height="8.64" fill="#cfec46"/><rect x="108.77" y="783.11" width="27.77" height="8.64" fill="#cfec46"/><rect x="135.53" y="783.11" width="27.77" height="8.64" fill="#b7e041"/><rect x="162.30" y="783.11" width="27.77" height="8.64" fill="#3050a1"/><rect x="189.07" y="783.11" width="27.77" height="8.64" fill="#3050a1"/><rect x="215.83" y="783.11" width="26.77" height="8.64" fill="#3050a1"/><rect x="82.00" y="790.76" width="27.77" height="8.64" fill="#d4ec46"/><rect x="108.77" y="790.76" width="27.77" height="8.64" fill="#e0f148"/><rect x="135.53" y="790.76" width="27.77" height="8.64" fill="#a7dc40"/><rect x="162.30" y="790.76" width="27.77" height="8.64" fill="#3050a1"/><rect x="189.07" y="790.76" width="27.77" height="8.64" fill="#3050a1"/><rect x="215.83" y="790.76" width="26.77" height="8.64" fill="#3050a1"/><rect x="82.00" y="798.40" width="27.77" height="8.64" fill="#d0ec46"/><rect x="108.77" y="798.40" width="27.77" height="8.64" fill="#bce442"/><rect x="135.53" y="798.40" width="27.77" height="8.64" fill="#b7e041"/><rect x="162.30" y="798.40" width="27.77" height="8.64" fill="#3050a1"/><rect x="189.07" y="798.40" width="27.77" height="8.64" fill="#3050a1"/><rect x="215.83" y="798.40" width="26.77" height="8.64" fill="#3050a1"/><rect x="82.00" y="806.04" width="27.77" height="8.64" fill="#c4e644"/><rect x="108.77" y="806.04" width="27.77" height="8.64" fill="#c0e442"/><rect x="135.53" y="806.04" width="27.77" height="8.64" fill="#a3db3f"/><rect x="162.30" y="806.04" width="27.77" height="8.64" fill="#3050a1"/><rect x="189.07" y="806.04" width="27.77" height="8.64" fill="#3556a7"/><rect x="215.83" y="806.04" width="26.77" height="8.64" fill="#3050a1"/><rect x="82.00" y="813.69" width="27.77" height="8.64" fill="#b8e141"/><rect x="108.77" y="813.69" width="27.77" height="8.64" fill="#c0e442"/><rect x="135.53" y="813.69" width="27.77" height="8.64" fill="#a3db3f"/><rect x="162.30" y="813.69" width="27.77" height="8.64" fill="#3050a1"/><rect x="189.07" y="813.69" width="27.77" height="8.64" fill="#3050a1"/><rect x="215.83" y="813.69" width="26.77" height="8.64" fill="#3557a8"/><rect x="82.00" y="821.33" width="27.77" height="8.64" fill="#98d840"/><rect x="108.77" y="821.33" width="27.77" height="8.64" fill="#d8ef48"/><rect x="135.53" y="821.33" width="27.77" height="8.64" fill="#a8dc40"/><rect x="162.30" y="821.33" width="27.77" height="8.64" fill="#3050a1"/><rect x="189.07" y="821.33" width="27.77" height="8.64" fill="#4272b9"/><rect x="215.83" y="821.33" width="26.77" height="8.64" fill="#3152a2"/><rect x="82.00" y="828.97" width="27.77" height="8.64" fill="#b3df41"/><rect x="108.77" y="828.97" width="27.77" height="8.64" fill="#afde40"/><rect x="135.53" y="828.97" width="27.77" height="8.64" fill="#a8dc40"/><rect x="162.30" y="828.97" width="27.77" height="8.64" fill="#3050a1"/><rect x="189.07" y="828.97" width="27.77" height="8.64" fill="#3353a4"/><rect x="215.83" y="828.97" width="26.77" height="8.64" fill="#3456a7"/><rect x="82.00" y="836.61" width="27.77" height="8.64" fill="#bce442"/><rect x="108.77" y="836.61" width="27.77" height="8.64" fill="#a8dc40"/><rect x="135.53" y="836.61" width="27.77" height="8.64" fill="#a8dc40"/><rect x="162.30" y="836.61" width="27.77" height="8.64" fill="#3050a1"/><rect x="189.07" y="836.61" width="27.77" height="8.64" fill="#3050a1"/><rect x="215.83" y="836.61" width="26.77" height="8.64" fill="#3457a8"/><rect x="82.00" y="844.26" width="27.77" height="8.64" fill="#3050a1"/><rect x="108.77" y="844.26" width="27.77" height="8.64" fill="#3050a1"/><rect x="135.53" y="844.26" width="27.77" height="8.64" fill="#3050a1"/><rect x="162.30" y="844.26" width="27.77" height="8.64" fill="#def048"/><rect x="189.07" y="844.26" width="27.77" height="8.64" fill="#8ad03f"/><rect x="215.83" y="844.26" width="26.77" height="8.64" fill="#afde40"/><rect x="82.00" y="851.90" width="27.77" height="8.64" fill="#3151a2"/><rect x="108.77" y="851.90" width="27.77" height="8.64" fill="#3050a1"/><rect x="135.53" y="851.90" width="27.77" height="8.64" fill="#3050a1"/><rect x="162.30" y="851.90" width="27.77" height="8.64" fill="#d7ef48"/><rect x="189.07" y="851.90" width="27.77" height="8.64" fill="#93d440"/><rect x="215.83" y="851.90" width="26.77" height="8.64" fill="#afde40"/><rect x="82.00" y="859.54" width="27.77" height="8.64" fill="#3050a1"/><rect x="108.77" y="859.54" width="27.77" height="8.64" fill="#3050a1"/><rect x="135.53" y="859.54" width="27.77" height="8.64" fill="#3050a1"/><rect x="162.30" y="859.54" width="27.77" height="8.64" fill="#dbee48"/><rect x="189.07" y="859.54" width="27.77" height="8.64" fill="#afde40"/><rect x="215.83" y="859.54" width="26.77" height="8.64" fill="#bfe443"/><rect x="82.00" y="867.19" width="27.77" height="8.64" fill="#3050a1"/><rect x="108.77" y="867.19" width="27.77" height="8.64" fill="#3050a1"/><rect x="135.53" y="867.19" width="27.77" height="8.64" fill="#3050a1"/><rect x="162.30" y="867.19" width="27.77" height="8.64" fill="#e3f048"/><rect x="189.07" y="867.19" width="27.77" height="8.64" fill="#c3e644"/><rect x="215.83" y="867.19" width="26.77" height="8.64" fill="#a8dc40"/><rect x="82.00" y="874.83" width="27.77" height="8.64" fill="#3449a1"/><rect x="108.77" y="874.83" width="27.77" height="8.64" fill="#3050a1"/><rect x="135.53" y="874.83" width="27.77" height="8.64" fill="#3050a1"/><rect x="162.30" y="874.83" width="27.77" height="8.64" fill="#d3ec46"/><rect x="189.07" y="874.83" width="27.77" height="8.64" fill="#dbee48"/><rect x="215.83" y="874.83" width="26.77" height="8.64" fill="#d3ec46"/><rect x="82.00" y="882.47" width="27.77" height="8.64" fill="#5041a0"/><rect x="108.77" y="882.47" width="27.77" height="8.64" fill="#3151a2"/><rect x="135.53" y="882.47" width="27.77" height="8.64" fill="#4647a1"/><rect x="162.30" y="882.47" width="27.77" height="8.64" fill="#d3ec46"/><rect x="189.07" y="882.47" width="27.77" height="8.64" fill="#e8a231"/><rect x="215.83" y="882.47" width="26.77" height="8.64" fill="#e3f448"/><rect x="82.00" y="890.11" width="27.77" height="8.64" fill="#9a49a9"/><rect x="108.77" y="890.11" width="27.77" height="8.64" fill="#7c44a4"/><rect x="135.53" y="890.11" width="27.77" height="8.64" fill="#7c44a4"/><rect x="162.30" y="890.11" width="27.77" height="8.64" fill="#ea3a20"/><rect x="189.07" y="890.11" width="27.77" height="8.64" fill="#e97028"/><rect x="215.83" y="890.11" width="26.77" height="8.64" fill="#e9b232"/><rect x="82.00" y="897.76" width="27.77" height="7.64" fill="#9a49a9"/><rect x="108.77" y="897.76" width="27.77" height="7.64" fill="#7c44a4"/><rect x="135.53" y="897.76" width="27.77" height="7.64" fill="#7c44a4"/><rect x="162.30" y="897.76" width="27.77" height="7.64" fill="#ea3a20"/><rect x="189.07" y="897.76" width="27.77" height="7.64" fill="#e97028"/><rect x="215.83" y="897.76" width="26.77" height="7.64" fill="#e9b838"/><rect x="82" y="744.9" width="160.6" height="160.5" fill="none" stroke="#222" stroke-width="0.8"/><g font-size="8.8" font-weight="bold" text-anchor="end" fill="#111"><text x="79.6" y="751.92">EIF4B S93</text><text x="79.6" y="759.56">FBLN1 S147</text><text x="79.6" y="767.21">MAST2 S74</text><text x="79.6" y="774.85">MAP1B S1501</text><text x="79.6" y="782.49">ZYX S143</text><text x="79.6" y="790.14">TASOR S971</text><text x="79.6" y="797.78">LILRB3 S/Y</text><text x="79.6" y="805.42">LMO7 S988</text><text x="79.6" y="813.06">PLXNC1 S978</text><text x="79.6" y="820.71">CHTF18 S871</text><text x="79.6" y="828.35">FLNA S2152</text><text x="79.6" y="835.99">THRAP3 S320</text><text x="79.6" y="843.64">FLNC S954</text><text x="79.6" y="851.28">PHACTR4 S464</text><text x="79.6" y="858.92">COPB2 T861</text><text x="79.6" y="866.56">GFPT1 S261</text><text x="79.6" y="874.21">AHNAK S5448</text><text x="79.6" y="881.85">DSP S2606</text><text x="79.6" y="889.49">HNRNPK S116</text><text x="79.6" y="897.14">H1-4 S36</text><text x="79.6" y="904.78">PLEKHA6 S/T</text></g><rect x="36" y="742.3" width="45" height="10.1" fill="none" stroke="#e0453f" stroke-width="0.7"/><text x="95.38" y="742.4" font-size="8.6" font-weight="bold" text-anchor="middle" fill="#111">T1</text><text x="122.15" y="742.4" font-size="8.6" font-weight="bold" text-anchor="middle" fill="#111">T2</text><text x="148.92" y="742.4" font-size="8.6" font-weight="bold" text-anchor="middle" fill="#111">T3</text><text x="175.68" y="742.4" font-size="8.6" font-weight="bold" text-anchor="middle" fill="#111">N1</text><text x="202.45" y="742.4" font-size="8.6" font-weight="bold" text-anchor="middle" fill="#111">N2</text><text x="229.22" y="742.4" font-size="8.6" font-weight="bold" text-anchor="middle" fill="#111">N3</text><defs><linearGradient id="hmcb" x1="0" y1="0" x2="0" y2="1"><stop offset="0" stop-color="#e82a20"/><stop offset="0.08" stop-color="#e8582a"/><stop offset="0.14" stop-color="#e8902c"/><stop offset="0.2" stop-color="#e2f048"/><stop offset="0.3" stop-color="#a8dc40"/><stop offset="0.4" stop-color="#6cc440"/><stop offset="0.5" stop-color="#6cc068"/><stop offset="0.58" stop-color="#72c8a8"/><stop offset="0.65" stop-color="#52c6e8"/><stop offset="0.72" stop-color="#3a74c0"/><stop offset="0.82" stop-color="#3050a0"/><stop offset="0.9" stop-color="#5446a0"/><stop offset="1" stop-color="#9a4aaa"/></linearGradient></defs><rect x="262.4" y="744.4" width="20.5" height="161.2" fill="url(#hmcb)" stroke="#222" stroke-width="0.8"/><line x1="262.4" y1="770.5" x2="265" y2="770.5" stroke="#222" stroke-width="0.7"/><line x1="280.3" y1="770.5" x2="282.9" y2="770.5" stroke="#222" stroke-width="0.7"/><text x="290.9" y="774.5" font-size="11.2" font-weight="bold" fill="#111">1.5</text><line x1="262.4" y1="828.8" x2="265" y2="828.8" stroke="#222" stroke-width="0.7"/><line x1="280.3" y1="828.8" x2="282.9" y2="828.8" stroke="#222" stroke-width="0.7"/><text x="290.9" y="832.8" font-size="11.2" font-weight="bold" fill="#111">1.0</text><line x1="262.4" y1="887.7" x2="265" y2="887.7" stroke="#222" stroke-width="0.7"/><line x1="280.3" y1="887.7" x2="282.9" y2="887.7" stroke="#222" stroke-width="0.7"/><text x="290.9" y="891.7" font-size="11.2" font-weight="bold" fill="#111">0.5</text><text x="352.75" y="765.5" font-size="15.8" font-weight="bold" fill="#111">G</text><g font-size="3.4" fill="#2a3fa0"><text x="329.2" y="794.9" textLength="94.3" lengthAdjust="spacingAndGlyphs">TKG20221201001_1_P3_FC.raw #67144 RT: 51.0827 min</text><text x="329.2" y="799.1" textLength="160" lengthAdjust="spacingAndGlyphs">FTMS, 960.9246@hcd32.00, z=+2, Mono m/z=960.49076 Da, MH+=1919.97405 Da, Match Tol=0.1 Da</text></g><line x1="338.8" y1="803" x2="338.8" y2="895.3" stroke="#333" stroke-width="0.6"/><line x1="338.8" y1="895.3" x2="683.5" y2="895.3" stroke="#333" stroke-width="0.7"/><line x1="337.3" y1="895.3" x2="338.8" y2="895.3" stroke="#333" stroke-width="0.5"/><text x="335.8" y="896.5" font-size="3.6" text-anchor="end" fill="#333">0</text><line x1="337.3" y1="873.1" x2="338.8" y2="873.1" stroke="#333" stroke-width="0.5"/><text x="335.8" y="874.3000000000001" font-size="3.6" text-anchor="end" fill="#333">1</text><line x1="337.3" y1="850.7" x2="338.8" y2="850.7" stroke="#333" stroke-width="0.5"/><text x="335.8" y="851.9000000000001" font-size="3.6" text-anchor="end" fill="#333">2</text><line x1="337.3" y1="828.2" x2="338.8" y2="828.2" stroke="#333" stroke-width="0.5"/><text x="335.8" y="829.4000000000001" font-size="3.6" text-anchor="end" fill="#333">3</text><line x1="337.3" y1="805.4" x2="338.8" y2="805.4" stroke="#333" stroke-width="0.5"/><text x="335.8" y="806.6" font-size="3.6" text-anchor="end" fill="#333">4</text><text transform="translate(328.8,849.7) rotate(-90)" font-size="3" text-anchor="middle" fill="#2a3fa0">Intensity (counts) (x10^4)</text><line x1="424.3" y1="895.3" x2="424.3" y2="897.3" stroke="#333" stroke-width="0.5"/><text x="424.3" y="901.3" font-size="3.4" text-anchor="middle" fill="#333">600</text><line x1="534.2" y1="895.3" x2="534.2" y2="897.3" stroke="#333" stroke-width="0.5"/><text x="534.2" y="901.3" font-size="3.4" text-anchor="middle" fill="#333">1000</text><line x1="642.2" y1="895.3" x2="642.2" y2="897.3" stroke="#333" stroke-width="0.5"/><text x="642.2" y="901.3" font-size="3.4" text-anchor="middle" fill="#333">1500</text><text x="648.5" y="907" font-size="3.4" text-anchor="middle" fill="#333">m/z</text><g stroke-width="0.5"><line x1="493.8" y1="895.3" x2="493.8" y2="894.0" stroke="#9a9a9a"/><line x1="498.3" y1="895.3" x2="498.3" y2="894.2" stroke="#222"/><line x1="402.8" y1="895.3" x2="402.8" y2="894.2" stroke="#222"/><line x1="609.6" y1="895.3" x2="609.6" y2="895.1" stroke="#222"/><line x1="370.8" y1="895.3" x2="370.8" y2="892.6" stroke="#222"/><line x1="354.2" y1="895.3" x2="354.2" y2="888.9" stroke="#9a9a9a"/><line x1="562.3" y1="895.3" x2="562.3" y2="893.8" stroke="#222"/><line x1="345.1" y1="895.3" x2="345.1" y2="894.1" stroke="#222"/><line x1="404.7" y1="895.3" x2="404.7" y2="894.9" stroke="#222"/><line x1="497.7" y1="895.3" x2="497.7" y2="894.4" stroke="#9a9a9a"/><line x1="516.5" y1="895.3" x2="516.5" y2="893.7" stroke="#222"/><line x1="565.2" y1="895.3" x2="565.2" y2="894.3" stroke="#222"/><line x1="679.2" y1="895.3" x2="679.2" y2="886.6" stroke="#9a9a9a"/><line x1="580.7" y1="895.3" x2="580.7" y2="894.7" stroke="#222"/><line x1="438.3" y1="895.3" x2="438.3" y2="895.2" stroke="#9a9a9a"/><line x1="476.1" y1="895.3" x2="476.1" y2="892.3" stroke="#222"/><line x1="665.7" y1="895.3" x2="665.7" y2="892.3" stroke="#222"/><line x1="411.3" y1="895.3" x2="411.3" y2="891.4" stroke="#222"/><line x1="673.3" y1="895.3" x2="673.3" y2="894.5" stroke="#222"/><line x1="554.0" y1="895.3" x2="554.0" y2="892.9" stroke="#222"/><line x1="369.6" y1="895.3" x2="369.6" y2="894.7" stroke="#9a9a9a"/><line x1="597.7" y1="895.3" x2="597.7" y2="895.1" stroke="#222"/><line x1="374.4" y1="895.3" x2="374.4" y2="895.2" stroke="#9a9a9a"/><line x1="400.4" y1="895.3" x2="400.4" y2="894.0" stroke="#222"/><line x1="404.8" y1="895.3" x2="404.8" y2="893.2" stroke="#222"/><line x1="558.9" y1="895.3" x2="558.9" y2="895.1" stroke="#222"/><line x1="412.4" y1="895.3" x2="412.4" y2="894.8" stroke="#9a9a9a"/><line x1="613.2" y1="895.3" x2="613.2" y2="894.7" stroke="#9a9a9a"/><line x1="411.6" y1="895.3" x2="411.6" y2="894.5" stroke="#9a9a9a"/><line x1="558.2" y1="895.3" x2="558.2" y2="895.1" stroke="#9a9a9a"/><line x1="412.5" y1="895.3" x2="412.5" y2="894.8" stroke="#9a9a9a"/><line x1="451.8" y1="895.3" x2="451.8" y2="894.7" stroke="#222"/><line x1="370.6" y1="895.3" x2="370.6" y2="893.9" stroke="#222"/><line x1="544.4" y1="895.3" x2="544.4" y2="894.6" stroke="#222"/><line x1="666.1" y1="895.3" x2="666.1" y2="894.2" stroke="#222"/><line x1="634.6" y1="895.3" x2="634.6" y2="895.0" stroke="#222"/><line x1="648.9" y1="895.3" x2="648.9" y2="892.6" stroke="#222"/><line x1="404.5" y1="895.3" x2="404.5" y2="893.1" stroke="#9a9a9a"/><line x1="406.8" y1="895.3" x2="406.8" y2="890.5" stroke="#9a9a9a"/><line x1="545.2" y1="895.3" x2="545.2" y2="894.4" stroke="#222"/><line x1="353.2" y1="895.3" x2="353.2" y2="890.0" stroke="#222"/><line x1="579.6" y1="895.3" x2="579.6" y2="894.8" stroke="#9a9a9a"/><line x1="542.8" y1="895.3" x2="542.8" y2="894.7" stroke="#222"/><line x1="584.9" y1="895.3" x2="584.9" y2="895.2" stroke="#222"/><line x1="530.2" y1="895.3" x2="530.2" y2="892.2" stroke="#222"/><line x1="435.3" y1="895.3" x2="435.3" y2="891.3" stroke="#222"/><line x1="345.6" y1="895.3" x2="345.6" y2="894.8" stroke="#222"/><line x1="360.6" y1="895.3" x2="360.6" y2="895.0" stroke="#222"/><line x1="534.5" y1="895.3" x2="534.5" y2="895.1" stroke="#222"/><line x1="642.9" y1="895.3" x2="642.9" y2="889.0" stroke="#222"/><line x1="575.0" y1="895.3" x2="575.0" y2="893.9" stroke="#222"/><line x1="351.9" y1="895.3" x2="351.9" y2="895.3" stroke="#9a9a9a"/><line x1="578.3" y1="895.3" x2="578.3" y2="890.0" stroke="#222"/><line x1="556.3" y1="895.3" x2="556.3" y2="894.2" stroke="#9a9a9a"/><line x1="448.4" y1="895.3" x2="448.4" y2="894.1" stroke="#222"/><line x1="590.6" y1="895.3" x2="590.6" y2="891.6" stroke="#9a9a9a"/><line x1="579.3" y1="895.3" x2="579.3" y2="892.8" stroke="#9a9a9a"/><line x1="459.6" y1="895.3" x2="459.6" y2="893.5" stroke="#9a9a9a"/><line x1="636.2" y1="895.3" x2="636.2" y2="894.4" stroke="#9a9a9a"/><line x1="633.6" y1="895.3" x2="633.6" y2="893.9" stroke="#222"/><line x1="470.0" y1="895.3" x2="470.0" y2="893.9" stroke="#222"/><line x1="367.3" y1="895.3" x2="367.3" y2="893.7" stroke="#9a9a9a"/><line x1="639.1" y1="895.3" x2="639.1" y2="893.2" stroke="#222"/><line x1="589.9" y1="895.3" x2="589.9" y2="893.9" stroke="#222"/><line x1="625.0" y1="895.3" x2="625.0" y2="895.2" stroke="#9a9a9a"/><line x1="350.1" y1="895.3" x2="350.1" y2="893.8" stroke="#222"/><line x1="418.3" y1="895.3" x2="418.3" y2="893.4" stroke="#222"/><line x1="548.9" y1="895.3" x2="548.9" y2="891.2" stroke="#222"/><line x1="343.8" y1="895.3" x2="343.8" y2="894.7" stroke="#222"/><line x1="408.9" y1="895.3" x2="408.9" y2="895.0" stroke="#9a9a9a"/><line x1="564.4" y1="895.3" x2="564.4" y2="894.4" stroke="#9a9a9a"/><line x1="451.2" y1="895.3" x2="451.2" y2="893.5" stroke="#222"/><line x1="486.5" y1="895.3" x2="486.5" y2="892.7" stroke="#9a9a9a"/><line x1="639.3" y1="895.3" x2="639.3" y2="894.5" stroke="#222"/><line x1="447.6" y1="895.3" x2="447.6" y2="895.1" stroke="#222"/><line x1="624.6" y1="895.3" x2="624.6" y2="892.3" stroke="#9a9a9a"/><line x1="663.0" y1="895.3" x2="663.0" y2="894.8" stroke="#222"/><line x1="493.2" y1="895.3" x2="493.2" y2="894.8" stroke="#222"/><line x1="480.8" y1="895.3" x2="480.8" y2="893.7" stroke="#222"/><line x1="447.2" y1="895.3" x2="447.2" y2="892.4" stroke="#9a9a9a"/><line x1="493.8" y1="895.3" x2="493.8" y2="895.2" stroke="#222"/><line x1="636.8" y1="895.3" x2="636.8" y2="895.2" stroke="#9a9a9a"/><line x1="534.0" y1="895.3" x2="534.0" y2="894.7" stroke="#9a9a9a"/><line x1="346.5" y1="895.3" x2="346.5" y2="895.1" stroke="#222"/><line x1="348.4" y1="895.3" x2="348.4" y2="892.5" stroke="#222"/><line x1="387.9" y1="895.3" x2="387.9" y2="895.2" stroke="#222"/><line x1="491.8" y1="895.3" x2="491.8" y2="893.7" stroke="#222"/><line x1="614.5" y1="895.3" x2="614.5" y2="890.2" stroke="#222"/><line x1="407.8" y1="895.3" x2="407.8" y2="894.3" stroke="#222"/><line x1="343.7" y1="895.3" x2="343.7" y2="894.3" stroke="#9a9a9a"/><line x1="400.9" y1="895.3" x2="400.9" y2="894.8" stroke="#222"/><line x1="577.1" y1="895.3" x2="577.1" y2="894.1" stroke="#222"/><line x1="597.1" y1="895.3" x2="597.1" y2="894.5" stroke="#9a9a9a"/><line x1="648.1" y1="895.3" x2="648.1" y2="895.2" stroke="#9a9a9a"/><line x1="585.6" y1="895.3" x2="585.6" y2="895.1" stroke="#222"/><line x1="552.7" y1="895.3" x2="552.7" y2="891.4" stroke="#222"/><line x1="533.4" y1="895.3" x2="533.4" y2="891.9" stroke="#9a9a9a"/><line x1="661.0" y1="895.3" x2="661.0" y2="894.3" stroke="#222"/><line x1="409.7" y1="895.3" x2="409.7" y2="893.3" stroke="#9a9a9a"/><line x1="558.1" y1="895.3" x2="558.1" y2="893.3" stroke="#222"/><line x1="646.0" y1="895.3" x2="646.0" y2="889.0" stroke="#9a9a9a"/><line x1="522.6" y1="895.3" x2="522.6" y2="892.8" stroke="#222"/><line x1="649.4" y1="895.3" x2="649.4" y2="892.2" stroke="#222"/><line x1="368.1" y1="895.3" x2="368.1" y2="894.4" stroke="#222"/><line x1="601.2" y1="895.3" x2="601.2" y2="894.2" stroke="#222"/><line x1="615.1" y1="895.3" x2="615.1" y2="895.2" stroke="#9a9a9a"/><line x1="398.8" y1="895.3" x2="398.8" y2="894.6" stroke="#9a9a9a"/><line x1="387.8" y1="895.3" x2="387.8" y2="895.0" stroke="#222"/><line x1="586.0" y1="895.3" x2="586.0" y2="892.4" stroke="#222"/><line x1="661.6" y1="895.3" x2="661.6" y2="894.2" stroke="#9a9a9a"/><line x1="369.2" y1="895.3" x2="369.2" y2="894.9" stroke="#222"/><line x1="438.7" y1="895.3" x2="438.7" y2="893.2" stroke="#222"/><line x1="517.7" y1="895.3" x2="517.7" y2="892.3" stroke="#222"/><line x1="446.0" y1="895.3" x2="446.0" y2="894.5" stroke="#9a9a9a"/><line x1="646.2" y1="895.3" x2="646.2" y2="894.9" stroke="#9a9a9a"/><line x1="669.3" y1="895.3" x2="669.3" y2="894.1" stroke="#222"/><line x1="408.3" y1="895.3" x2="408.3" y2="894.1" stroke="#222"/><line x1="545.8" y1="895.3" x2="545.8" y2="895.3" stroke="#9a9a9a"/><line x1="515.4" y1="895.3" x2="515.4" y2="894.5" stroke="#9a9a9a"/><line x1="531.4" y1="895.3" x2="531.4" y2="894.2" stroke="#222"/><line x1="362.4" y1="895.3" x2="362.4" y2="894.1" stroke="#222"/><line x1="665.3" y1="895.3" x2="665.3" y2="891.2" stroke="#222"/><line x1="500.9" y1="895.3" x2="500.9" y2="895.1" stroke="#222"/><line x1="617.3" y1="895.3" x2="617.3" y2="891.6" stroke="#222"/><line x1="447.9" y1="895.3" x2="447.9" y2="895.0" stroke="#222"/><line x1="654.6" y1="895.3" x2="654.6" y2="895.1" stroke="#9a9a9a"/><line x1="347.7" y1="895.3" x2="347.7" y2="895.0" stroke="#222"/><line x1="573.6" y1="895.3" x2="573.6" y2="894.7" stroke="#222"/><line x1="550.7" y1="895.3" x2="550.7" y2="895.1" stroke="#9a9a9a"/><line x1="381.7" y1="895.3" x2="381.7" y2="894.2" stroke="#222"/><line x1="407.2" y1="895.3" x2="407.2" y2="894.1" stroke="#222"/><line x1="467.8" y1="895.3" x2="467.8" y2="894.4" stroke="#222"/><line x1="394.3" y1="895.3" x2="394.3" y2="894.9" stroke="#222"/><line x1="557.1" y1="895.3" x2="557.1" y2="894.1" stroke="#9a9a9a"/><line x1="548.0" y1="895.3" x2="548.0" y2="892.2" stroke="#222"/><line x1="591.9" y1="895.3" x2="591.9" y2="892.6" stroke="#9a9a9a"/><line x1="447.4" y1="895.3" x2="447.4" y2="894.7" stroke="#9a9a9a"/><line x1="414.2" y1="895.3" x2="414.2" y2="891.6" stroke="#222"/><line x1="421.4" y1="895.3" x2="421.4" y2="893.2" stroke="#222"/><line x1="373.0" y1="895.3" x2="373.0" y2="892.4" stroke="#222"/><line x1="608.6" y1="895.3" x2="608.6" y2="895.1" stroke="#222"/><line x1="573.0" y1="895.3" x2="573.0" y2="895.3" stroke="#222"/><line x1="572.0" y1="895.3" x2="572.0" y2="891.4" stroke="#9a9a9a"/><line x1="379.2" y1="895.3" x2="379.2" y2="894.2" stroke="#9a9a9a"/><line x1="510.9" y1="895.3" x2="510.9" y2="893.4" stroke="#222"/><line x1="364.0" y1="895.3" x2="364.0" y2="895.1" stroke="#222"/><line x1="527.6" y1="895.3" x2="527.6" y2="894.1" stroke="#222"/><line x1="389.8" y1="895.3" x2="389.8" y2="895.0" stroke="#222"/><line x1="625.7" y1="895.3" x2="625.7" y2="887.9" stroke="#9a9a9a"/><line x1="372.4" y1="895.3" x2="372.4" y2="895.2" stroke="#9a9a9a"/><line x1="497.1" y1="895.3" x2="497.1" y2="893.0" stroke="#222"/><line x1="498.8" y1="895.3" x2="498.8" y2="894.1" stroke="#222"/><line x1="544.3" y1="895.3" x2="544.3" y2="895.3" stroke="#9a9a9a"/><line x1="627.0" y1="895.3" x2="627.0" y2="895.0" stroke="#222"/><line x1="591.4" y1="895.3" x2="591.4" y2="894.5" stroke="#222"/><line x1="396.1" y1="895.3" x2="396.1" y2="894.2" stroke="#222"/><line x1="643.7" y1="895.3" x2="643.7" y2="892.7" stroke="#9a9a9a"/><line x1="632.6" y1="895.3" x2="632.6" y2="893.7" stroke="#222"/><line x1="543.9" y1="895.3" x2="543.9" y2="894.2" stroke="#9a9a9a"/><line x1="613.6" y1="895.3" x2="613.6" y2="894.8" stroke="#9a9a9a"/><line x1="593.1" y1="895.3" x2="593.1" y2="892.9" stroke="#9a9a9a"/><line x1="477.9" y1="895.3" x2="477.9" y2="891.7" stroke="#9a9a9a"/><line x1="576.2" y1="895.3" x2="576.2" y2="893.0" stroke="#9a9a9a"/><line x1="478.0" y1="895.3" x2="478.0" y2="893.2" stroke="#222"/><line x1="456.2" y1="895.3" x2="456.2" y2="894.3" stroke="#222"/><line x1="460.9" y1="895.3" x2="460.9" y2="893.7" stroke="#222"/><line x1="418.9" y1="895.3" x2="418.9" y2="890.7" stroke="#222"/><line x1="454.9" y1="895.3" x2="454.9" y2="893.6" stroke="#222"/><line x1="521.2" y1="895.3" x2="521.2" y2="894.5" stroke="#9a9a9a"/><line x1="558.4" y1="895.3" x2="558.4" y2="893.4" stroke="#9a9a9a"/><line x1="673.2" y1="895.3" x2="673.2" y2="895.3" stroke="#222"/><line x1="591.2" y1="895.3" x2="591.2" y2="894.8" stroke="#222"/><line x1="357.2" y1="895.3" x2="357.2" y2="895.0" stroke="#222"/><line x1="373.5" y1="895.3" x2="373.5" y2="894.8" stroke="#9a9a9a"/><line x1="527.0" y1="895.3" x2="527.0" y2="894.2" stroke="#9a9a9a"/><line x1="533.1" y1="895.3" x2="533.1" y2="886.8" stroke="#222"/><line x1="615.2" y1="895.3" x2="615.2" y2="895.2" stroke="#222"/><line x1="598.1" y1="895.3" x2="598.1" y2="895.2" stroke="#9a9a9a"/><line x1="394.4" y1="895.3" x2="394.4" y2="894.3" stroke="#222"/><line x1="508.5" y1="895.3" x2="508.5" y2="893.8" stroke="#222"/><line x1="661.4" y1="895.3" x2="661.4" y2="894.4" stroke="#222"/><line x1="543.3" y1="895.3" x2="543.3" y2="894.6" stroke="#222"/><line x1="562.7" y1="895.3" x2="562.7" y2="894.0" stroke="#222"/><line x1="583.6" y1="895.3" x2="583.6" y2="894.7" stroke="#222"/><line x1="423.3" y1="895.3" x2="423.3" y2="895.2" stroke="#222"/><line x1="596.6" y1="895.3" x2="596.6" y2="894.5" stroke="#9a9a9a"/><line x1="594.4" y1="895.3" x2="594.4" y2="895.2" stroke="#9a9a9a"/><line x1="661.1" y1="895.3" x2="661.1" y2="895.2" stroke="#9a9a9a"/><line x1="486.0" y1="895.3" x2="486.0" y2="894.3" stroke="#9a9a9a"/><line x1="422.9" y1="895.3" x2="422.9" y2="894.1" stroke="#9a9a9a"/><line x1="585.7" y1="895.3" x2="585.7" y2="894.3" stroke="#9a9a9a"/><line x1="617.7" y1="895.3" x2="617.7" y2="893.8" stroke="#222"/><line x1="552.2" y1="895.3" x2="552.2" y2="894.3" stroke="#222"/><line x1="357.7" y1="895.3" x2="357.7" y2="894.1" stroke="#222"/><line x1="490.6" y1="895.3" x2="490.6" y2="893.5" stroke="#222"/><line x1="429.1" y1="895.3" x2="429.1" y2="893.9" stroke="#222"/><line x1="604.5" y1="895.3" x2="604.5" y2="894.1" stroke="#9a9a9a"/><line x1="663.9" y1="895.3" x2="663.9" y2="893.2" stroke="#222"/><line x1="378.7" y1="895.3" x2="378.7" y2="891.7" stroke="#9a9a9a"/><line x1="552.5" y1="895.3" x2="552.5" y2="894.6" stroke="#222"/><line x1="572.9" y1="895.3" x2="572.9" y2="894.0" stroke="#222"/><line x1="555.3" y1="895.3" x2="555.3" y2="893.1" stroke="#222"/><line x1="424.6" y1="895.3" x2="424.6" y2="889.1" stroke="#9a9a9a"/><line x1="638.8" y1="895.3" x2="638.8" y2="895.2" stroke="#222"/><line x1="432.1" y1="895.3" x2="432.1" y2="894.4" stroke="#222"/><line x1="374.8" y1="895.3" x2="374.8" y2="894.1" stroke="#222"/><line x1="369.4" y1="895.3" x2="369.4" y2="893.5" stroke="#222"/><line x1="554.6" y1="895.3" x2="554.6" y2="894.6" stroke="#222"/><line x1="411.6" y1="895.3" x2="411.6" y2="894.6" stroke="#9a9a9a"/><line x1="625.1" y1="895.3" x2="625.1" y2="895.2" stroke="#222"/><line x1="615.1" y1="895.3" x2="615.1" y2="893.7" stroke="#9a9a9a"/><line x1="412.5" y1="895.3" x2="412.5" y2="894.4" stroke="#222"/><line x1="615.4" y1="895.3" x2="615.4" y2="894.6" stroke="#222"/><line x1="676.3" y1="895.3" x2="676.3" y2="894.7" stroke="#222"/><line x1="593.7" y1="895.3" x2="593.7" y2="891.2" stroke="#222"/><line x1="465.5" y1="895.3" x2="465.5" y2="895.1" stroke="#9a9a9a"/><line x1="366.7" y1="895.3" x2="366.7" y2="895.2" stroke="#222"/><line x1="504.9" y1="895.3" x2="504.9" y2="893.5" stroke="#222"/><line x1="603.7" y1="895.3" x2="603.7" y2="895.2" stroke="#222"/><line x1="565.1" y1="895.3" x2="565.1" y2="895.2" stroke="#222"/><line x1="586.5" y1="895.3" x2="586.5" y2="893.4" stroke="#222"/><line x1="388.6" y1="895.3" x2="388.6" y2="894.6" stroke="#9a9a9a"/><line x1="464.6" y1="895.3" x2="464.6" y2="895.1" stroke="#9a9a9a"/><line x1="533.6" y1="895.3" x2="533.6" y2="891.3" stroke="#9a9a9a"/><line x1="650.5" y1="895.3" x2="650.5" y2="894.4" stroke="#9a9a9a"/><line x1="443.6" y1="895.3" x2="443.6" y2="894.7" stroke="#222"/><line x1="657.8" y1="895.3" x2="657.8" y2="891.7" stroke="#222"/><line x1="463.0" y1="895.3" x2="463.0" y2="894.6" stroke="#222"/><line x1="474.5" y1="895.3" x2="474.5" y2="894.5" stroke="#222"/><line x1="531.7" y1="895.3" x2="531.7" y2="892.7" stroke="#222"/><line x1="624.4" y1="895.3" x2="624.4" y2="894.0" stroke="#222"/><line x1="598.0" y1="895.3" x2="598.0" y2="891.9" stroke="#222"/><line x1="347.6" y1="895.3" x2="347.6" y2="894.1" stroke="#222"/><line x1="532.9" y1="895.3" x2="532.9" y2="889.9" stroke="#222"/><line x1="613.5" y1="895.3" x2="613.5" y2="895.2" stroke="#222"/><line x1="607.9" y1="895.3" x2="607.9" y2="895.2" stroke="#222"/><line x1="590.6" y1="895.3" x2="590.6" y2="891.6" stroke="#222"/><line x1="555.6" y1="895.3" x2="555.6" y2="895.1" stroke="#9a9a9a"/><line x1="560.7" y1="895.3" x2="560.7" y2="894.8" stroke="#222"/><line x1="600.2" y1="895.3" x2="600.2" y2="894.1" stroke="#9a9a9a"/><line x1="474.1" y1="895.3" x2="474.1" y2="894.6" stroke="#9a9a9a"/><line x1="568.6" y1="895.3" x2="568.6" y2="894.2" stroke="#222"/><line x1="585.1" y1="895.3" x2="585.1" y2="893.3" stroke="#9a9a9a"/><line x1="479.6" y1="895.3" x2="479.6" y2="892.5" stroke="#222"/><line x1="630.2" y1="895.3" x2="630.2" y2="892.7" stroke="#9a9a9a"/><line x1="642.1" y1="895.3" x2="642.1" y2="890.2" stroke="#222"/><line x1="518.1" y1="895.3" x2="518.1" y2="893.3" stroke="#9a9a9a"/><line x1="483.3" y1="895.3" x2="483.3" y2="894.4" stroke="#222"/><line x1="592.0" y1="895.3" x2="592.0" y2="887.8" stroke="#222"/><line x1="397.0" y1="895.3" x2="397.0" y2="894.9" stroke="#222"/><line x1="439.3" y1="895.3" x2="439.3" y2="889.7" stroke="#222"/><line x1="444.9" y1="895.3" x2="444.9" y2="895.1" stroke="#222"/><line x1="603.8" y1="895.3" x2="603.8" y2="895.0" stroke="#222"/><line x1="496.0" y1="895.3" x2="496.0" y2="893.9" stroke="#9a9a9a"/><line x1="352.4" y1="895.3" x2="352.4" y2="895.1" stroke="#222"/><line x1="413.9" y1="895.3" x2="413.9" y2="894.9" stroke="#9a9a9a"/><line x1="542.2" y1="895.3" x2="542.2" y2="894.9" stroke="#222"/><line x1="435.6" y1="895.3" x2="435.6" y2="895.0" stroke="#9a9a9a"/><line x1="446.0" y1="895.3" x2="446.0" y2="894.0" stroke="#9a9a9a"/><line x1="503.0" y1="895.3" x2="503.0" y2="894.8" stroke="#9a9a9a"/></g><line x1="343.9" y1="895.3" x2="343.9" y2="832.8" stroke="#111" stroke-width="0.9"/><line x1="345.3" y1="895.3" x2="345.3" y2="851.7" stroke="#111" stroke-width="0.9"/><line x1="367.7" y1="895.3" x2="367.7" y2="874.3" stroke="#111" stroke-width="0.7"/><line x1="378.9" y1="895.3" x2="378.9" y2="880.9" stroke="#aaa" stroke-width="1.0"/><line x1="381.8" y1="895.3" x2="381.8" y2="880.9" stroke="#aaa" stroke-width="1.0"/><line x1="373.8" y1="895.3" x2="373.8" y2="887.4" stroke="#aaa" stroke-width="1.0"/><line x1="403" y1="895.3" x2="403" y2="864.1" stroke="#333" stroke-width="0.7"/><line x1="415" y1="895.3" x2="415" y2="882.3" stroke="#333" stroke-width="0.6"/><line x1="419.8" y1="895.3" x2="419.8" y2="886.7" stroke="#aaa" stroke-width="0.9"/><line x1="360" y1="895.3" x2="360" y2="887" stroke="#aaa" stroke-width="0.8"/><line x1="348" y1="895.3" x2="348" y2="885" stroke="#aaa" stroke-width="0.8"/><line x1="398.3" y1="895.3" x2="398.3" y2="840" stroke="#8aa0d8" stroke-width="0.9"/><line x1="423.4" y1="895.3" x2="423.4" y2="878.2" stroke="#3a4fae" stroke-width="0.6"/><line x1="441.7" y1="895.3" x2="441.7" y2="870.5" stroke="#3a4fae" stroke-width="0.6"/><line x1="470" y1="895.3" x2="470" y2="877" stroke="#3a4fae" stroke-width="0.6"/><line x1="480.5" y1="895.3" x2="480.5" y2="885" stroke="#111" stroke-width="0.6"/><line x1="488.6" y1="895.3" x2="488.6" y2="879" stroke="#111" stroke-width="0.6"/><line x1="499" y1="895.3" x2="499" y2="889" stroke="#111" stroke-width="0.5"/><line x1="515" y1="895.3" x2="515" y2="876" stroke="#222" stroke-width="0.6"/><line x1="519.9" y1="895.3" x2="519.9" y2="869" stroke="#8aa0d8" stroke-width="1.0"/><line x1="517.7" y1="895.3" x2="517.7" y2="844" stroke="#e49a9a" stroke-width="0.9"/><line x1="524" y1="895.3" x2="524" y2="885" stroke="#333" stroke-width="0.6"/><line x1="541" y1="895.3" x2="541" y2="886" stroke="#3a4fae" stroke-width="0.6"/><line x1="549.9" y1="895.3" x2="549.9" y2="876.6" stroke="#d2403f" stroke-width="0.8"/><line x1="548" y1="895.3" x2="548" y2="886" stroke="#222" stroke-width="0.6"/><line x1="566" y1="895.3" x2="566" y2="886" stroke="#222" stroke-width="0.5"/><line x1="575" y1="895.3" x2="575" y2="888" stroke="#3a4fae" stroke-width="0.6"/><line x1="598" y1="895.3" x2="598" y2="885" stroke="#222" stroke-width="0.6"/><line x1="610" y1="895.3" x2="610" y2="887" stroke="#3a4fae" stroke-width="0.6"/><line x1="623.2" y1="895.3" x2="623.2" y2="872.6" stroke="#b8c6e8" stroke-width="1.1"/><line x1="623.9" y1="895.3" x2="623.9" y2="887" stroke="#222" stroke-width="0.6"/><line x1="636" y1="895.3" x2="636" y2="890" stroke="#222" stroke-width="0.5"/><line x1="665" y1="895.3" x2="665" y2="892" stroke="#999" stroke-width="0.5"/><line x1="354.5" y1="895.3" x2="354.5" y2="830" stroke="#d2403f" stroke-width="0.5" stroke-dasharray="1 0.8"/><line x1="386.2" y1="895.3" x2="386.2" y2="876.5" stroke="#d2403f" stroke-width="0.5" stroke-dasharray="1 0.8"/><line x1="409.6" y1="895.3" x2="409.6" y2="861.2" stroke="#d2403f" stroke-width="0.5" stroke-dasharray="1 0.8"/><rect x="494.7" y="874.3" width="20" height="5.8" fill="#eef5cc"/><rect x="471.1" y="882.3" width="19.7" height="5.9" fill="#eef5cc"/><rect x="597.1" y="874.5" width="25.1" height="14.1" fill="#eef5cc"/><line x1="361.7" y1="870" x2="354" y2="894" stroke="#3a4fae" stroke-width="0.35"/><line x1="380.4" y1="846" x2="398" y2="848" stroke="#9a9a9a" stroke-width="0.35"/><line x1="384.7" y1="860" x2="403" y2="864" stroke="#9a9a9a" stroke-width="0.35"/><line x1="414.3" y1="874" x2="423.4" y2="879" stroke="#3a4fae" stroke-width="0.35"/><line x1="488.6" y1="855" x2="495" y2="886" stroke="#3a4fae" stroke-width="0.35"/><line x1="457" y1="888" x2="470" y2="893" stroke="#3a4fae" stroke-width="0.35"/><line x1="591.5" y1="864" x2="598" y2="876" stroke="#d2403f" stroke-width="0.35"/><line x1="576.2" y1="883" x2="565" y2="890" stroke="#3a4fae" stroke-width="0.35"/><line x1="655" y1="874" x2="640" y2="893" stroke="#d2403f" stroke-width="0.35"/><line x1="639" y1="889" x2="628" y2="894" stroke="#3a4fae" stroke-width="0.35"/><line x1="597" y1="888" x2="582" y2="893" stroke="#d2403f" stroke-width="0.35"/><g font-family="Liberation Serif, serif"><text x="354.1" y="821.4" fill="#d2403f" font-size="4.88" text-anchor="middle">b₂²⁺</text><text x="354.1" y="828.20" fill="#d2403f" font-size="5.3" text-anchor="middle">171.11249</text><text x="397.9" y="829.1" fill="#3a4fae" font-size="4.88" text-anchor="middle">y₃⁺</text><text x="397.9" y="835.90" fill="#3a4fae" font-size="5.3" text-anchor="middle">376.27637</text><text x="380.4" y="845.9" fill="#9a9a9a" font-size="5.3" text-anchor="middle">376.14954</text><text x="384.7" y="859.9" fill="#9a9a9a" font-size="5.3" text-anchor="middle">397.16724</text><text x="408.8" y="852.1" fill="#d2403f" font-size="4.88" text-anchor="middle">b₃²⁺</text><text x="408.8" y="858.90" fill="#d2403f" font-size="5.3" text-anchor="middle">428.19479</text><text x="361.7" y="863.0" fill="#3a4fae" font-size="4.88" text-anchor="middle">y₂²⁺</text><text x="361.7" y="869.80" fill="#3a4fae" font-size="5.3" text-anchor="middle">328.12769</text><text x="385.8" y="866.3000000000001" fill="#d2403f" font-size="4.88" text-anchor="middle">b₃⁺</text><text x="385.8" y="873.10" fill="#d2403f" font-size="5.3" text-anchor="middle">317.20071</text><text x="414.3" y="866.3000000000001" fill="#3a4fae" font-size="4.88" text-anchor="middle">y₄⁺</text><text x="414.3" y="873.10" fill="#3a4fae" font-size="5.3" text-anchor="middle">488.35858</text><text x="441.7" y="855.3000000000001" fill="#3a4fae" font-size="4.88" text-anchor="middle">y₄⁺</text><text x="441.7" y="862.10" fill="#3a4fae" font-size="5.3" text-anchor="middle">576.38953</text><text x="470.1" y="864.8000000000001" fill="#3a4fae" font-size="4.88" text-anchor="middle">y₅⁺, y₁₀²⁺</text><text x="470.1" y="871.60" fill="#3a4fae" font-size="5.3" text-anchor="middle">705.43365</text><text x="457" y="880.6" fill="#3a4fae" font-size="4.88" text-anchor="middle">y₅⁺-H₂O</text><text x="457" y="887.40" fill="#3a4fae" font-size="5.3" text-anchor="middle">687.41803</text><text x="488.6" y="848.3000000000001" fill="#3a4fae" font-size="4.88" text-anchor="middle">y₅⁺</text><text x="488.6" y="855.10" fill="#3a4fae" font-size="5.3" text-anchor="middle">834.48077</text><text x="517.7" y="838.9" fill="#d2403f" font-size="4.88" text-anchor="middle">b₈⁺</text><text x="517.7" y="845.70" fill="#d2403f" font-size="5.3" text-anchor="middle">916.41962</text><text x="519.9" y="859.3000000000001" fill="#3a4fae" font-size="4.88" text-anchor="middle">y₈⁺</text><text x="519.9" y="866.10" fill="#3a4fae" font-size="5.3" text-anchor="middle">935.52228</text><text x="549.9" y="865.2" fill="#d2403f" font-size="4.88" text-anchor="middle">b₉⁺</text><text x="549.9" y="872.00" fill="#d2403f" font-size="5.3" text-anchor="middle">1073.48792</text><text x="591.5" y="857.1" fill="#d2403f" font-size="4.88" text-anchor="middle">b₁₁⁺</text><text x="591.5" y="863.90" fill="#d2403f" font-size="5.3" text-anchor="middle">1357.64231</text><text x="576.2" y="876.8000000000001" fill="#3a4fae" font-size="4.88" text-anchor="middle">y₉⁺</text><text x="576.2" y="883.60" fill="#3a4fae" font-size="5.3" text-anchor="middle">1149.60792</text><text x="623" y="860.7" fill="#3a4fae" font-size="4.88" text-anchor="middle">y₁₀⁺</text><text x="623" y="867.50" fill="#3a4fae" font-size="5.3" text-anchor="middle">1409.75335</text><text x="655" y="866.6" fill="#d2403f" font-size="4.88" text-anchor="middle">b₁₂⁺</text><text x="655" y="873.40" fill="#d2403f" font-size="5.3" text-anchor="middle">1470.72778</text><text x="639" y="881.2" fill="#3a4fae" font-size="4.88" text-anchor="middle">y₁₀⁺-H₂O</text><text x="639" y="888.00" fill="#3a4fae" font-size="5.3" text-anchor="middle">1391.72827</text><text x="609.5" y="881.2" fill="#d2403f" font-size="4.88" text-anchor="middle">b₁₀⁺ - Pho</text><text x="609.5" y="888.00" fill="#d2403f" font-size="5.3" text-anchor="middle">1239.66882</text><text x="482.5" y="878.7" fill="#d2403f" font-size="5.4" text-anchor="middle">b₁₀²⁺-NH</text><text x="504.7" y="879.2" fill="#d2403f" font-size="5.4" text-anchor="middle">b₇⁺ - Pho</text><text x="481" y="887.2" fill="#d2403f" font-size="5.4" text-anchor="middle">b₆⁺ - Pho</text><text x="402.5" y="886" fill="#d2403f" font-size="5.4" text-anchor="middle">a₃</text><text x="396" y="889.5" fill="#3a4fae" font-size="5.4" text-anchor="middle">y₃²⁺</text><text x="411.5" y="887" fill="#d2403f" font-size="5.4" text-anchor="middle">b₃²⁺</text><text x="502" y="887.4" fill="#d2403f" font-size="5.4" text-anchor="middle">b₆</text><text x="510" y="887.4" fill="#d2403f" font-size="5.4" text-anchor="middle">a₆</text><text x="527.6" y="884.5" fill="#3a4fae" font-size="5.4" text-anchor="middle">y₇⁺-H₂</text><text x="541" y="886" fill="#3a4fae" font-size="5.4" text-anchor="middle">y₇</text><text x="433.5" y="886" fill="#d2403f" font-size="5.4" text-anchor="middle">b₆²⁺</text><text x="442" y="883" fill="#d2403f" font-size="5.4" text-anchor="middle">b₇²⁺</text><text x="582" y="890" fill="#d2403f" font-size="5.4" text-anchor="middle">b₇</text><text x="566" y="891" fill="#d2403f" font-size="5.4" text-anchor="middle">b₆</text></g><g font-size="7"><text x="499.60" y="804" fill="#d2403f" text-anchor="middle">S</text><text x="508.65" y="804" fill="#444" text-anchor="middle">P</text><text x="517.70" y="804" fill="#444" text-anchor="middle">P</text><text x="526.75" y="804" fill="#444" text-anchor="middle">Y</text><text x="535.80" y="804" fill="#444" text-anchor="middle">T</text><text x="544.85" y="804" fill="#444" text-anchor="middle">A</text><text x="553.90" y="804" fill="#444" text-anchor="middle">F</text><text x="562.95" y="804" fill="#444" text-anchor="middle">L</text><text x="572.00" y="804" fill="#444" text-anchor="middle">G</text><text x="581.05" y="804" fill="#444" text-anchor="middle">N</text><text x="590.10" y="804" fill="#444" text-anchor="middle">L</text><text x="599.15" y="804" fill="#444" text-anchor="middle">P</text><text x="608.20" y="804" fill="#444" text-anchor="middle">Y</text><text x="617.25" y="804" fill="#444" text-anchor="middle">D</text><text x="626.30" y="804" fill="#444" text-anchor="middle">V</text><text x="635.35" y="804" fill="#444" text-anchor="middle">T</text><text x="644.40" y="804" fill="#444" text-anchor="middle">E</text><text x="653.45" y="804" fill="#444" text-anchor="middle">E</text><text x="662.50" y="804" fill="#444" text-anchor="middle">S</text><text x="671.55" y="804" fill="#444" text-anchor="middle">I</text><text x="680.60" y="804" fill="#444" text-anchor="middle">K</text></g><text x="494.5" y="796.5" font-size="4.6" font-weight="bold" text-anchor="middle" fill="#2a3fa0">2+</text><path d="M505.39,797.8 L505.39,806 L504.39,807" fill="none" stroke="#666" stroke-width="0.4"/><text x="505.59" y="811" font-size="3.6" fill="#2e9a3a" text-anchor="middle">b1</text><path d="M514.44,797.8 L514.44,806 L513.44,807" fill="none" stroke="#666" stroke-width="0.4"/><text x="514.64" y="811" font-size="3.6" fill="#2e9a3a" text-anchor="middle">b2</text><path d="M669.29,795.5 L668.29,796.5 L668.29,804.7" fill="none" stroke="#666" stroke-width="0.4"/><text x="670.09" y="795" font-size="3.6" fill="#e07a2a" text-anchor="middle">y2</text><path d="M678.34,795.5 L677.34,796.5 L677.34,804.7" fill="none" stroke="#666" stroke-width="0.4"/><text x="679.14" y="795" font-size="3.6" fill="#e07a2a" text-anchor="middle">y1</text>
</svg></body></html>
